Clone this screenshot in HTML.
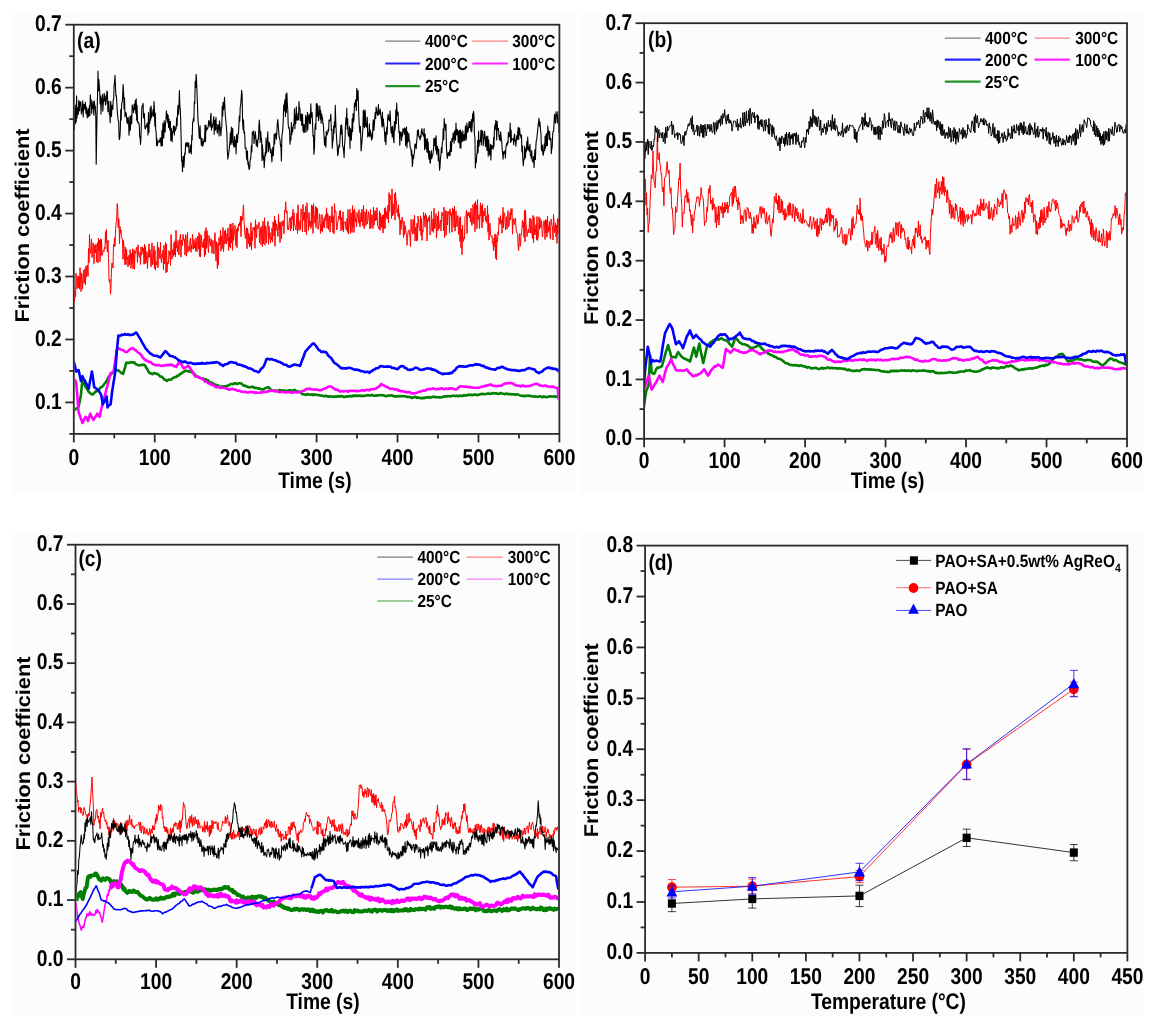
<!DOCTYPE html><html><head><meta charset="utf-8"><style>html,body{margin:0;padding:0;background:#fff;}svg{display:block;}</style></head><body>
<div style="will-change:transform;width:1153px;height:1026px">
<svg width="1153" height="1026" viewBox="0 0 1153 1026" font-family='"Liberation Sans", sans-serif' font-weight="bold" text-rendering="geometricPrecision">
<rect x="11" y="14" width="565" height="479.5" fill="#fcfcfc"/>
<rect x="579" y="12" width="565" height="481.5" fill="#fcfcfc"/>
<rect x="11" y="533" width="564" height="483" fill="#fcfcfc"/>
<rect x="579.6" y="533" width="564.4" height="483" fill="#fcfcfc"/>
<rect x="73.80" y="24.70" width="485.60" height="409.20" fill="none" stroke="#2b2b2b" stroke-width="1.8"/>
<line x1="73.80" y1="433.90" x2="73.80" y2="442.40" stroke="#2b2b2b" stroke-width="1.8"/>
<text transform="translate(73.80,464.90) scale(0.842,1)" font-size="22.8" text-anchor="middle" fill="#000" >0</text>
<line x1="114.27" y1="433.90" x2="114.27" y2="438.40" stroke="#2b2b2b" stroke-width="1.8"/>
<line x1="154.73" y1="433.90" x2="154.73" y2="442.40" stroke="#2b2b2b" stroke-width="1.8"/>
<text transform="translate(154.73,464.90) scale(0.842,1)" font-size="22.8" text-anchor="middle" fill="#000" >100</text>
<line x1="195.20" y1="433.90" x2="195.20" y2="438.40" stroke="#2b2b2b" stroke-width="1.8"/>
<line x1="235.67" y1="433.90" x2="235.67" y2="442.40" stroke="#2b2b2b" stroke-width="1.8"/>
<text transform="translate(235.67,464.90) scale(0.842,1)" font-size="22.8" text-anchor="middle" fill="#000" >200</text>
<line x1="276.13" y1="433.90" x2="276.13" y2="438.40" stroke="#2b2b2b" stroke-width="1.8"/>
<line x1="316.60" y1="433.90" x2="316.60" y2="442.40" stroke="#2b2b2b" stroke-width="1.8"/>
<text transform="translate(316.60,464.90) scale(0.842,1)" font-size="22.8" text-anchor="middle" fill="#000" >300</text>
<line x1="357.07" y1="433.90" x2="357.07" y2="438.40" stroke="#2b2b2b" stroke-width="1.8"/>
<line x1="397.53" y1="433.90" x2="397.53" y2="442.40" stroke="#2b2b2b" stroke-width="1.8"/>
<text transform="translate(397.53,464.90) scale(0.842,1)" font-size="22.8" text-anchor="middle" fill="#000" >400</text>
<line x1="438.00" y1="433.90" x2="438.00" y2="438.40" stroke="#2b2b2b" stroke-width="1.8"/>
<line x1="478.47" y1="433.90" x2="478.47" y2="442.40" stroke="#2b2b2b" stroke-width="1.8"/>
<text transform="translate(478.47,464.90) scale(0.842,1)" font-size="22.8" text-anchor="middle" fill="#000" >500</text>
<line x1="518.93" y1="433.90" x2="518.93" y2="438.40" stroke="#2b2b2b" stroke-width="1.8"/>
<line x1="559.40" y1="433.90" x2="559.40" y2="442.40" stroke="#2b2b2b" stroke-width="1.8"/>
<text transform="translate(559.40,464.90) scale(0.842,1)" font-size="22.8" text-anchor="middle" fill="#000" >600</text>
<line x1="73.80" y1="433.90" x2="69.30" y2="433.90" stroke="#2b2b2b" stroke-width="1.8"/>
<line x1="73.80" y1="402.42" x2="65.30" y2="402.42" stroke="#2b2b2b" stroke-width="1.8"/>
<text transform="translate(61.80,408.72) scale(0.842,1)" font-size="22.8" text-anchor="end" fill="#000" >0.1</text>
<line x1="73.80" y1="370.95" x2="69.30" y2="370.95" stroke="#2b2b2b" stroke-width="1.8"/>
<line x1="73.80" y1="339.47" x2="65.30" y2="339.47" stroke="#2b2b2b" stroke-width="1.8"/>
<text transform="translate(61.80,345.77) scale(0.842,1)" font-size="22.8" text-anchor="end" fill="#000" >0.2</text>
<line x1="73.80" y1="307.99" x2="69.30" y2="307.99" stroke="#2b2b2b" stroke-width="1.8"/>
<line x1="73.80" y1="276.52" x2="65.30" y2="276.52" stroke="#2b2b2b" stroke-width="1.8"/>
<text transform="translate(61.80,282.82) scale(0.842,1)" font-size="22.8" text-anchor="end" fill="#000" >0.3</text>
<line x1="73.80" y1="245.04" x2="69.30" y2="245.04" stroke="#2b2b2b" stroke-width="1.8"/>
<line x1="73.80" y1="213.56" x2="65.30" y2="213.56" stroke="#2b2b2b" stroke-width="1.8"/>
<text transform="translate(61.80,219.86) scale(0.842,1)" font-size="22.8" text-anchor="end" fill="#000" >0.4</text>
<line x1="73.80" y1="182.08" x2="69.30" y2="182.08" stroke="#2b2b2b" stroke-width="1.8"/>
<line x1="73.80" y1="150.61" x2="65.30" y2="150.61" stroke="#2b2b2b" stroke-width="1.8"/>
<text transform="translate(61.80,156.91) scale(0.842,1)" font-size="22.8" text-anchor="end" fill="#000" >0.5</text>
<line x1="73.80" y1="119.13" x2="69.30" y2="119.13" stroke="#2b2b2b" stroke-width="1.8"/>
<line x1="73.80" y1="87.65" x2="65.30" y2="87.65" stroke="#2b2b2b" stroke-width="1.8"/>
<text transform="translate(61.80,93.95) scale(0.842,1)" font-size="22.8" text-anchor="end" fill="#000" >0.6</text>
<line x1="73.80" y1="56.18" x2="69.30" y2="56.18" stroke="#2b2b2b" stroke-width="1.8"/>
<line x1="73.80" y1="24.70" x2="65.30" y2="24.70" stroke="#2b2b2b" stroke-width="1.8"/>
<text transform="translate(61.80,31.00) scale(0.842,1)" font-size="22.8" text-anchor="end" fill="#000" >0.7</text>
<rect x="644.10" y="23.20" width="482.90" height="415.60" fill="none" stroke="#2b2b2b" stroke-width="1.8"/>
<line x1="644.10" y1="438.80" x2="644.10" y2="447.30" stroke="#2b2b2b" stroke-width="1.8"/>
<text transform="translate(644.10,468.00) scale(0.842,1)" font-size="22.8" text-anchor="middle" fill="#000" >0</text>
<line x1="684.34" y1="438.80" x2="684.34" y2="443.30" stroke="#2b2b2b" stroke-width="1.8"/>
<line x1="724.58" y1="438.80" x2="724.58" y2="447.30" stroke="#2b2b2b" stroke-width="1.8"/>
<text transform="translate(724.58,468.00) scale(0.842,1)" font-size="22.8" text-anchor="middle" fill="#000" >100</text>
<line x1="764.83" y1="438.80" x2="764.83" y2="443.30" stroke="#2b2b2b" stroke-width="1.8"/>
<line x1="805.07" y1="438.80" x2="805.07" y2="447.30" stroke="#2b2b2b" stroke-width="1.8"/>
<text transform="translate(805.07,468.00) scale(0.842,1)" font-size="22.8" text-anchor="middle" fill="#000" >200</text>
<line x1="845.31" y1="438.80" x2="845.31" y2="443.30" stroke="#2b2b2b" stroke-width="1.8"/>
<line x1="885.55" y1="438.80" x2="885.55" y2="447.30" stroke="#2b2b2b" stroke-width="1.8"/>
<text transform="translate(885.55,468.00) scale(0.842,1)" font-size="22.8" text-anchor="middle" fill="#000" >300</text>
<line x1="925.79" y1="438.80" x2="925.79" y2="443.30" stroke="#2b2b2b" stroke-width="1.8"/>
<line x1="966.03" y1="438.80" x2="966.03" y2="447.30" stroke="#2b2b2b" stroke-width="1.8"/>
<text transform="translate(966.03,468.00) scale(0.842,1)" font-size="22.8" text-anchor="middle" fill="#000" >400</text>
<line x1="1006.27" y1="438.80" x2="1006.27" y2="443.30" stroke="#2b2b2b" stroke-width="1.8"/>
<line x1="1046.52" y1="438.80" x2="1046.52" y2="447.30" stroke="#2b2b2b" stroke-width="1.8"/>
<text transform="translate(1046.52,468.00) scale(0.842,1)" font-size="22.8" text-anchor="middle" fill="#000" >500</text>
<line x1="1086.76" y1="438.80" x2="1086.76" y2="443.30" stroke="#2b2b2b" stroke-width="1.8"/>
<line x1="1127.00" y1="438.80" x2="1127.00" y2="447.30" stroke="#2b2b2b" stroke-width="1.8"/>
<text transform="translate(1127.00,468.00) scale(0.842,1)" font-size="22.8" text-anchor="middle" fill="#000" >600</text>
<line x1="644.10" y1="438.80" x2="635.60" y2="438.80" stroke="#2b2b2b" stroke-width="1.8"/>
<text transform="translate(632.10,445.10) scale(0.842,1)" font-size="22.8" text-anchor="end" fill="#000" >0.0</text>
<line x1="644.10" y1="409.11" x2="639.60" y2="409.11" stroke="#2b2b2b" stroke-width="1.8"/>
<line x1="644.10" y1="379.43" x2="635.60" y2="379.43" stroke="#2b2b2b" stroke-width="1.8"/>
<text transform="translate(632.10,385.73) scale(0.842,1)" font-size="22.8" text-anchor="end" fill="#000" >0.1</text>
<line x1="644.10" y1="349.74" x2="639.60" y2="349.74" stroke="#2b2b2b" stroke-width="1.8"/>
<line x1="644.10" y1="320.06" x2="635.60" y2="320.06" stroke="#2b2b2b" stroke-width="1.8"/>
<text transform="translate(632.10,326.36) scale(0.842,1)" font-size="22.8" text-anchor="end" fill="#000" >0.2</text>
<line x1="644.10" y1="290.37" x2="639.60" y2="290.37" stroke="#2b2b2b" stroke-width="1.8"/>
<line x1="644.10" y1="260.69" x2="635.60" y2="260.69" stroke="#2b2b2b" stroke-width="1.8"/>
<text transform="translate(632.10,266.99) scale(0.842,1)" font-size="22.8" text-anchor="end" fill="#000" >0.3</text>
<line x1="644.10" y1="231.00" x2="639.60" y2="231.00" stroke="#2b2b2b" stroke-width="1.8"/>
<line x1="644.10" y1="201.31" x2="635.60" y2="201.31" stroke="#2b2b2b" stroke-width="1.8"/>
<text transform="translate(632.10,207.61) scale(0.842,1)" font-size="22.8" text-anchor="end" fill="#000" >0.4</text>
<line x1="644.10" y1="171.63" x2="639.60" y2="171.63" stroke="#2b2b2b" stroke-width="1.8"/>
<line x1="644.10" y1="141.94" x2="635.60" y2="141.94" stroke="#2b2b2b" stroke-width="1.8"/>
<text transform="translate(632.10,148.24) scale(0.842,1)" font-size="22.8" text-anchor="end" fill="#000" >0.5</text>
<line x1="644.10" y1="112.26" x2="639.60" y2="112.26" stroke="#2b2b2b" stroke-width="1.8"/>
<line x1="644.10" y1="82.57" x2="635.60" y2="82.57" stroke="#2b2b2b" stroke-width="1.8"/>
<text transform="translate(632.10,88.87) scale(0.842,1)" font-size="22.8" text-anchor="end" fill="#000" >0.6</text>
<line x1="644.10" y1="52.89" x2="639.60" y2="52.89" stroke="#2b2b2b" stroke-width="1.8"/>
<line x1="644.10" y1="23.20" x2="635.60" y2="23.20" stroke="#2b2b2b" stroke-width="1.8"/>
<text transform="translate(632.10,29.50) scale(0.842,1)" font-size="22.8" text-anchor="end" fill="#000" >0.7</text>
<rect x="75.50" y="544.70" width="483.50" height="414.60" fill="none" stroke="#2b2b2b" stroke-width="1.8"/>
<line x1="75.50" y1="959.30" x2="75.50" y2="967.80" stroke="#2b2b2b" stroke-width="1.8"/>
<text transform="translate(75.50,988.50) scale(0.842,1)" font-size="22.8" text-anchor="middle" fill="#000" >0</text>
<line x1="115.79" y1="959.30" x2="115.79" y2="963.80" stroke="#2b2b2b" stroke-width="1.8"/>
<line x1="156.08" y1="959.30" x2="156.08" y2="967.80" stroke="#2b2b2b" stroke-width="1.8"/>
<text transform="translate(156.08,988.50) scale(0.842,1)" font-size="22.8" text-anchor="middle" fill="#000" >100</text>
<line x1="196.38" y1="959.30" x2="196.38" y2="963.80" stroke="#2b2b2b" stroke-width="1.8"/>
<line x1="236.67" y1="959.30" x2="236.67" y2="967.80" stroke="#2b2b2b" stroke-width="1.8"/>
<text transform="translate(236.67,988.50) scale(0.842,1)" font-size="22.8" text-anchor="middle" fill="#000" >200</text>
<line x1="276.96" y1="959.30" x2="276.96" y2="963.80" stroke="#2b2b2b" stroke-width="1.8"/>
<line x1="317.25" y1="959.30" x2="317.25" y2="967.80" stroke="#2b2b2b" stroke-width="1.8"/>
<text transform="translate(317.25,988.50) scale(0.842,1)" font-size="22.8" text-anchor="middle" fill="#000" >300</text>
<line x1="357.54" y1="959.30" x2="357.54" y2="963.80" stroke="#2b2b2b" stroke-width="1.8"/>
<line x1="397.83" y1="959.30" x2="397.83" y2="967.80" stroke="#2b2b2b" stroke-width="1.8"/>
<text transform="translate(397.83,988.50) scale(0.842,1)" font-size="22.8" text-anchor="middle" fill="#000" >400</text>
<line x1="438.12" y1="959.30" x2="438.12" y2="963.80" stroke="#2b2b2b" stroke-width="1.8"/>
<line x1="478.42" y1="959.30" x2="478.42" y2="967.80" stroke="#2b2b2b" stroke-width="1.8"/>
<text transform="translate(478.42,988.50) scale(0.842,1)" font-size="22.8" text-anchor="middle" fill="#000" >500</text>
<line x1="518.71" y1="959.30" x2="518.71" y2="963.80" stroke="#2b2b2b" stroke-width="1.8"/>
<line x1="559.00" y1="959.30" x2="559.00" y2="967.80" stroke="#2b2b2b" stroke-width="1.8"/>
<text transform="translate(559.00,988.50) scale(0.842,1)" font-size="22.8" text-anchor="middle" fill="#000" >600</text>
<line x1="75.50" y1="959.30" x2="67.00" y2="959.30" stroke="#2b2b2b" stroke-width="1.8"/>
<text transform="translate(63.50,965.60) scale(0.842,1)" font-size="22.8" text-anchor="end" fill="#000" >0.0</text>
<line x1="75.50" y1="929.69" x2="71.00" y2="929.69" stroke="#2b2b2b" stroke-width="1.8"/>
<line x1="75.50" y1="900.07" x2="67.00" y2="900.07" stroke="#2b2b2b" stroke-width="1.8"/>
<text transform="translate(63.50,906.37) scale(0.842,1)" font-size="22.8" text-anchor="end" fill="#000" >0.1</text>
<line x1="75.50" y1="870.46" x2="71.00" y2="870.46" stroke="#2b2b2b" stroke-width="1.8"/>
<line x1="75.50" y1="840.84" x2="67.00" y2="840.84" stroke="#2b2b2b" stroke-width="1.8"/>
<text transform="translate(63.50,847.14) scale(0.842,1)" font-size="22.8" text-anchor="end" fill="#000" >0.2</text>
<line x1="75.50" y1="811.23" x2="71.00" y2="811.23" stroke="#2b2b2b" stroke-width="1.8"/>
<line x1="75.50" y1="781.61" x2="67.00" y2="781.61" stroke="#2b2b2b" stroke-width="1.8"/>
<text transform="translate(63.50,787.91) scale(0.842,1)" font-size="22.8" text-anchor="end" fill="#000" >0.3</text>
<line x1="75.50" y1="752.00" x2="71.00" y2="752.00" stroke="#2b2b2b" stroke-width="1.8"/>
<line x1="75.50" y1="722.39" x2="67.00" y2="722.39" stroke="#2b2b2b" stroke-width="1.8"/>
<text transform="translate(63.50,728.69) scale(0.842,1)" font-size="22.8" text-anchor="end" fill="#000" >0.4</text>
<line x1="75.50" y1="692.77" x2="71.00" y2="692.77" stroke="#2b2b2b" stroke-width="1.8"/>
<line x1="75.50" y1="663.16" x2="67.00" y2="663.16" stroke="#2b2b2b" stroke-width="1.8"/>
<text transform="translate(63.50,669.46) scale(0.842,1)" font-size="22.8" text-anchor="end" fill="#000" >0.5</text>
<line x1="75.50" y1="633.54" x2="71.00" y2="633.54" stroke="#2b2b2b" stroke-width="1.8"/>
<line x1="75.50" y1="603.93" x2="67.00" y2="603.93" stroke="#2b2b2b" stroke-width="1.8"/>
<text transform="translate(63.50,610.23) scale(0.842,1)" font-size="22.8" text-anchor="end" fill="#000" >0.6</text>
<line x1="75.50" y1="574.31" x2="71.00" y2="574.31" stroke="#2b2b2b" stroke-width="1.8"/>
<line x1="75.50" y1="544.70" x2="67.00" y2="544.70" stroke="#2b2b2b" stroke-width="1.8"/>
<text transform="translate(63.50,551.00) scale(0.842,1)" font-size="22.8" text-anchor="end" fill="#000" >0.7</text>
<rect x="645.10" y="545.60" width="482.30" height="407.30" fill="none" stroke="#2b2b2b" stroke-width="1.8"/>
<line x1="645.10" y1="952.90" x2="645.10" y2="961.40" stroke="#2b2b2b" stroke-width="1.8"/>
<text transform="translate(645.10,983.50) scale(0.842,1)" font-size="22.8" text-anchor="middle" fill="#000" >0</text>
<line x1="671.89" y1="952.90" x2="671.89" y2="957.40" stroke="#2b2b2b" stroke-width="1.8"/>
<line x1="698.69" y1="952.90" x2="698.69" y2="961.40" stroke="#2b2b2b" stroke-width="1.8"/>
<text transform="translate(698.69,983.50) scale(0.842,1)" font-size="22.8" text-anchor="middle" fill="#000" >50</text>
<line x1="725.48" y1="952.90" x2="725.48" y2="957.40" stroke="#2b2b2b" stroke-width="1.8"/>
<line x1="752.28" y1="952.90" x2="752.28" y2="961.40" stroke="#2b2b2b" stroke-width="1.8"/>
<text transform="translate(752.28,983.50) scale(0.842,1)" font-size="22.8" text-anchor="middle" fill="#000" >100</text>
<line x1="779.07" y1="952.90" x2="779.07" y2="957.40" stroke="#2b2b2b" stroke-width="1.8"/>
<line x1="805.87" y1="952.90" x2="805.87" y2="961.40" stroke="#2b2b2b" stroke-width="1.8"/>
<text transform="translate(805.87,983.50) scale(0.842,1)" font-size="22.8" text-anchor="middle" fill="#000" >150</text>
<line x1="832.66" y1="952.90" x2="832.66" y2="957.40" stroke="#2b2b2b" stroke-width="1.8"/>
<line x1="859.46" y1="952.90" x2="859.46" y2="961.40" stroke="#2b2b2b" stroke-width="1.8"/>
<text transform="translate(859.46,983.50) scale(0.842,1)" font-size="22.8" text-anchor="middle" fill="#000" >200</text>
<line x1="886.25" y1="952.90" x2="886.25" y2="957.40" stroke="#2b2b2b" stroke-width="1.8"/>
<line x1="913.04" y1="952.90" x2="913.04" y2="961.40" stroke="#2b2b2b" stroke-width="1.8"/>
<text transform="translate(913.04,983.50) scale(0.842,1)" font-size="22.8" text-anchor="middle" fill="#000" >250</text>
<line x1="939.84" y1="952.90" x2="939.84" y2="957.40" stroke="#2b2b2b" stroke-width="1.8"/>
<line x1="966.63" y1="952.90" x2="966.63" y2="961.40" stroke="#2b2b2b" stroke-width="1.8"/>
<text transform="translate(966.63,983.50) scale(0.842,1)" font-size="22.8" text-anchor="middle" fill="#000" >300</text>
<line x1="993.43" y1="952.90" x2="993.43" y2="957.40" stroke="#2b2b2b" stroke-width="1.8"/>
<line x1="1020.22" y1="952.90" x2="1020.22" y2="961.40" stroke="#2b2b2b" stroke-width="1.8"/>
<text transform="translate(1020.22,983.50) scale(0.842,1)" font-size="22.8" text-anchor="middle" fill="#000" >350</text>
<line x1="1047.02" y1="952.90" x2="1047.02" y2="957.40" stroke="#2b2b2b" stroke-width="1.8"/>
<line x1="1073.81" y1="952.90" x2="1073.81" y2="961.40" stroke="#2b2b2b" stroke-width="1.8"/>
<text transform="translate(1073.81,983.50) scale(0.842,1)" font-size="22.8" text-anchor="middle" fill="#000" >400</text>
<line x1="1100.61" y1="952.90" x2="1100.61" y2="957.40" stroke="#2b2b2b" stroke-width="1.8"/>
<line x1="1127.40" y1="952.90" x2="1127.40" y2="961.40" stroke="#2b2b2b" stroke-width="1.8"/>
<text transform="translate(1127.40,983.50) scale(0.842,1)" font-size="22.8" text-anchor="middle" fill="#000" >450</text>
<line x1="645.10" y1="952.90" x2="636.60" y2="952.90" stroke="#2b2b2b" stroke-width="1.8"/>
<text transform="translate(633.10,959.20) scale(0.842,1)" font-size="22.8" text-anchor="end" fill="#000" >0.0</text>
<line x1="645.10" y1="927.44" x2="640.60" y2="927.44" stroke="#2b2b2b" stroke-width="1.8"/>
<line x1="645.10" y1="901.99" x2="636.60" y2="901.99" stroke="#2b2b2b" stroke-width="1.8"/>
<text transform="translate(633.10,908.29) scale(0.842,1)" font-size="22.8" text-anchor="end" fill="#000" >0.1</text>
<line x1="645.10" y1="876.53" x2="640.60" y2="876.53" stroke="#2b2b2b" stroke-width="1.8"/>
<line x1="645.10" y1="851.08" x2="636.60" y2="851.08" stroke="#2b2b2b" stroke-width="1.8"/>
<text transform="translate(633.10,857.38) scale(0.842,1)" font-size="22.8" text-anchor="end" fill="#000" >0.2</text>
<line x1="645.10" y1="825.62" x2="640.60" y2="825.62" stroke="#2b2b2b" stroke-width="1.8"/>
<line x1="645.10" y1="800.16" x2="636.60" y2="800.16" stroke="#2b2b2b" stroke-width="1.8"/>
<text transform="translate(633.10,806.46) scale(0.842,1)" font-size="22.8" text-anchor="end" fill="#000" >0.3</text>
<line x1="645.10" y1="774.71" x2="640.60" y2="774.71" stroke="#2b2b2b" stroke-width="1.8"/>
<line x1="645.10" y1="749.25" x2="636.60" y2="749.25" stroke="#2b2b2b" stroke-width="1.8"/>
<text transform="translate(633.10,755.55) scale(0.842,1)" font-size="22.8" text-anchor="end" fill="#000" >0.4</text>
<line x1="645.10" y1="723.79" x2="640.60" y2="723.79" stroke="#2b2b2b" stroke-width="1.8"/>
<line x1="645.10" y1="698.34" x2="636.60" y2="698.34" stroke="#2b2b2b" stroke-width="1.8"/>
<text transform="translate(633.10,704.64) scale(0.842,1)" font-size="22.8" text-anchor="end" fill="#000" >0.5</text>
<line x1="645.10" y1="672.88" x2="640.60" y2="672.88" stroke="#2b2b2b" stroke-width="1.8"/>
<line x1="645.10" y1="647.42" x2="636.60" y2="647.42" stroke="#2b2b2b" stroke-width="1.8"/>
<text transform="translate(633.10,653.72) scale(0.842,1)" font-size="22.8" text-anchor="end" fill="#000" >0.6</text>
<line x1="645.10" y1="621.97" x2="640.60" y2="621.97" stroke="#2b2b2b" stroke-width="1.8"/>
<line x1="645.10" y1="596.51" x2="636.60" y2="596.51" stroke="#2b2b2b" stroke-width="1.8"/>
<text transform="translate(633.10,602.81) scale(0.842,1)" font-size="22.8" text-anchor="end" fill="#000" >0.7</text>
<line x1="645.10" y1="571.06" x2="640.60" y2="571.06" stroke="#2b2b2b" stroke-width="1.8"/>
<line x1="645.10" y1="545.60" x2="636.60" y2="545.60" stroke="#2b2b2b" stroke-width="1.8"/>
<text transform="translate(633.10,551.90) scale(0.842,1)" font-size="22.8" text-anchor="end" fill="#000" >0.8</text>
<clipPath id="ca"><rect x="74.5" y="25.5" width="484.1" height="407.5"/></clipPath>
<clipPath id="cb"><rect x="644.9" y="24.0" width="481.30000000000007" height="414.0"/></clipPath>
<clipPath id="cc"><rect x="76.3" y="545.5" width="481.90000000000003" height="413.0"/></clipPath>
<g clip-path="url(#ca)">
<polyline points="73.9,410.5 75.1,409.5 76.2,408.6 77.4,408.1 78.6,406.6 79.8,400.9 80.9,394.9 82.5,379.3 83.5,381.9 84.6,384.6 85.6,387.1 86.6,388.3 87.7,390.1 88.7,391.8 90.0,392.9 91.3,394.1 92.6,394.6 93.7,393.4 94.8,392.5 95.9,391.3 97.0,391.2 98.1,390.2 99.3,389.2 100.6,387.2 101.8,387.0 103.1,385.8 104.3,384.0 105.6,382.5 106.8,380.5 108.1,378.0 109.3,375.9 110.6,374.6 111.8,373.5 113.1,372.1 114.3,371.2 115.6,370.5 116.8,370.0 118.1,370.2 119.3,371.3 120.6,372.2 121.8,373.4 123.1,373.9 124.1,370.4 125.2,366.8 126.2,362.9 127.5,362.8 128.8,362.9 130.1,362.5 131.4,362.1 132.7,362.6 134.0,362.1 135.2,363.6 136.3,364.4 137.5,364.9 138.7,365.3 139.9,365.2 141.2,364.9 142.4,364.9 143.7,364.8 144.9,365.3 146.1,367.4 147.2,369.1 148.4,371.5 149.6,373.1 150.7,373.2 151.8,373.9 152.9,374.1 154.1,373.1 155.2,373.2 156.3,374.0 157.4,373.9 158.6,374.8 159.8,376.2 160.9,376.6 162.1,376.8 163.3,378.3 164.5,379.5 165.6,379.9 166.8,380.9 168.0,380.0 169.2,379.6 170.3,379.9 171.5,379.4 172.7,378.1 173.8,377.6 175.0,377.1 176.2,377.0 177.4,375.7 178.5,375.6 179.7,374.3 180.8,373.8 182.0,373.0 183.2,371.9 184.3,371.6 185.5,370.7 186.8,370.7 188.0,371.4 189.3,371.2 190.5,371.8 191.8,372.3 192.8,372.6 193.9,373.4 194.9,374.6 196.1,375.8 197.2,376.8 198.4,376.9 199.6,377.8 200.8,378.5 202.1,378.2 203.3,378.5 204.6,379.3 205.8,379.3 207.0,380.3 208.2,380.4 209.3,382.1 210.5,382.4 211.7,382.8 212.8,383.3 214.0,384.4 215.2,384.6 216.4,385.0 217.6,385.4 218.7,386.0 219.9,387.1 221.1,386.9 222.4,386.4 223.6,386.6 224.9,386.3 226.1,386.3 227.3,385.6 228.4,385.7 229.6,384.7 230.8,384.0 232.0,384.0 233.2,384.2 234.3,383.4 235.5,383.1 236.7,383.9 237.8,383.8 239.0,383.2 240.2,383.2 241.4,383.5 242.6,384.6 243.8,385.7 245.0,385.5 246.2,386.3 247.4,386.8 248.5,387.3 249.7,387.2 250.9,387.1 252.1,386.8 253.2,386.9 254.4,387.9 255.6,387.9 256.9,388.0 258.2,388.6 259.5,388.4 260.8,389.3 262.1,389.4 263.4,389.5 264.6,388.7 265.8,387.8 266.9,387.8 268.1,387.1 269.1,387.8 270.2,388.9 271.2,390.6 272.4,390.6 273.6,391.0 274.8,390.9 276.0,390.5 277.2,391.2 278.4,390.5 279.6,390.1 280.8,390.3 282.0,390.7 283.2,390.4 284.4,390.5 285.6,390.8 286.8,391.0 287.9,390.8 289.0,390.3 290.1,390.2 291.3,390.8 292.4,390.9 293.5,390.3 294.6,389.9 295.9,390.9 297.2,391.5 298.5,391.6 299.8,392.0 301.1,392.8 302.4,394.1 303.6,394.3 304.8,394.5 306.0,394.9 307.2,394.0 308.4,394.5 309.6,394.5 310.8,394.8 312.0,394.4 313.2,395.2 314.4,394.4 315.6,394.7 316.8,395.0 318.0,394.9 319.2,395.4 320.4,395.5 321.6,395.6 322.8,395.9 324.0,396.2 325.2,395.7 326.5,396.0 327.7,396.5 328.9,396.6 330.1,396.2 331.3,396.5 332.5,396.7 333.7,396.5 334.9,396.6 336.1,396.6 337.3,396.4 338.5,396.4 339.7,396.5 340.9,395.9 342.1,396.3 343.3,396.9 344.5,396.9 345.7,396.7 346.9,396.2 348.1,396.4 349.3,396.3 350.5,396.1 351.7,396.5 352.9,395.6 354.1,396.2 355.3,395.4 356.5,395.9 357.7,395.9 358.9,395.6 360.1,395.9 361.3,395.8 362.5,395.9 363.7,396.0 364.9,395.7 366.1,395.6 367.3,395.1 368.5,395.2 369.7,395.6 370.9,395.2 372.1,394.9 373.3,395.8 374.5,395.7 375.7,395.4 376.9,395.7 378.1,395.2 379.3,395.3 380.5,395.2 381.7,395.1 382.9,395.2 384.2,395.6 385.4,396.0 386.6,396.2 387.8,395.6 389.0,395.8 390.2,395.5 391.5,395.2 392.7,395.7 393.9,396.2 395.1,396.4 396.3,396.4 397.6,396.5 398.8,396.1 400.0,396.2 401.2,396.1 402.4,396.3 403.6,396.3 404.9,396.2 406.1,396.5 407.3,396.9 408.5,397.0 409.7,396.8 410.9,397.5 412.2,398.0 413.4,397.5 414.6,397.0 415.8,396.9 417.0,397.9 418.2,397.4 419.5,398.0 420.7,398.1 421.9,398.1 423.1,397.9 424.3,398.1 425.5,397.5 426.6,397.3 427.8,397.5 429.0,397.0 430.2,397.8 431.4,397.2 432.6,396.9 433.8,396.6 434.9,397.2 436.1,397.1 437.3,397.3 438.5,397.3 439.7,397.4 440.9,397.5 442.1,397.2 443.2,396.6 444.4,396.6 445.6,396.3 446.8,396.5 448.0,396.0 449.3,396.2 450.5,396.4 451.7,395.9 453.0,395.7 454.2,395.7 455.4,396.1 456.7,395.9 457.9,395.9 459.1,396.1 460.3,395.6 461.6,395.9 462.8,396.0 464.0,395.0 465.3,395.6 466.5,395.5 467.7,394.9 469.0,394.9 470.2,394.9 471.4,394.9 472.6,395.1 473.7,394.6 474.9,394.6 476.1,394.9 477.2,394.9 478.4,395.0 479.6,394.4 480.8,394.3 481.9,393.7 483.1,394.1 484.3,394.3 485.5,394.0 486.6,394.0 487.8,393.3 489.0,393.8 490.2,393.9 491.3,393.8 492.5,393.3 493.7,393.1 494.9,393.4 496.1,393.2 497.3,393.7 498.5,394.0 499.7,393.5 500.9,393.0 502.1,393.4 503.3,393.7 504.5,394.1 505.7,393.9 506.9,393.5 508.1,394.2 509.3,394.1 510.5,394.0 511.7,394.5 512.9,394.2 514.0,394.3 515.2,394.9 516.4,394.4 517.6,394.4 518.8,394.9 520.0,395.4 521.2,395.8 522.3,395.8 523.5,396.2 524.7,395.8 525.9,396.3 527.1,395.5 528.3,395.5 529.5,396.0 530.6,395.9 531.8,396.4 533.0,396.5 534.2,396.5 535.4,396.6 536.6,396.8 537.8,396.7 539.0,396.4 540.2,396.3 541.5,396.9 542.7,397.1 543.9,396.3 545.1,396.9 546.3,397.3 547.5,396.8 548.7,396.7 549.9,396.2 551.1,396.4 552.4,396.5 553.6,396.6 554.8,396.1 556.0,396.8 557.2,396.6 558.4,396.5" fill="none" stroke="#008000" stroke-width="2.6" stroke-linejoin="round"/>
<polyline points="74.7,379.3 76.2,382.4 77.4,397.2 78.6,412.1 79.9,415.9 81.2,419.6 82.5,423.0 83.5,420.6 84.6,418.2 85.6,416.8 86.8,418.5 88.0,421.0 89.2,416.9 90.3,413.7 91.3,416.0 92.4,418.1 93.4,419.9 94.7,418.1 96.0,415.9 97.3,413.7 98.5,415.5 99.7,416.8 100.7,411.7 101.8,407.2 102.8,402.7 104.0,398.0 105.2,394.5 106.3,389.5 107.5,385.6 108.5,381.7 109.6,376.8 110.6,373.1 111.6,372.7 112.7,371.9 113.7,371.5 114.7,364.1 115.8,357.3 116.8,349.7 117.9,349.0 118.9,348.5 120.0,348.9 121.2,349.8 122.5,350.2 123.7,350.3 125.0,351.8 126.2,352.0 127.4,351.8 128.7,350.2 129.9,349.5 131.2,348.5 132.4,348.1 133.7,348.7 134.9,350.0 136.2,350.5 137.4,352.0 138.7,352.8 139.9,353.8 141.2,355.0 142.4,357.2 143.7,358.4 144.9,359.8 146.1,360.3 147.2,361.0 148.4,361.6 149.6,362.0 150.8,362.1 152.0,363.4 153.1,364.3 154.3,364.5 155.5,365.2 156.7,365.3 157.8,365.0 159.0,365.1 160.2,365.6 161.3,365.9 162.5,365.5 163.7,366.0 164.9,365.3 166.2,365.1 167.4,365.0 168.7,365.1 169.9,364.5 171.2,365.0 172.4,364.8 173.7,366.1 174.9,366.3 176.2,366.8 177.2,365.3 178.3,363.3 179.3,362.1 180.5,363.5 181.7,365.0 182.8,367.1 184.0,368.4 185.2,367.4 186.3,367.1 187.4,366.2 188.6,366.0 189.9,368.1 191.1,369.5 192.4,371.7 193.6,373.9 194.9,376.2 196.1,376.7 197.4,376.6 198.6,377.4 199.9,377.7 201.1,378.5 202.4,379.0 203.6,379.9 204.9,381.4 206.1,381.7 207.4,382.4 208.6,383.4 209.7,383.4 210.9,384.6 212.1,384.7 213.2,384.9 214.4,386.1 215.5,386.9 216.7,387.1 217.9,387.0 219.0,387.1 220.2,387.9 221.4,387.8 222.6,387.7 223.8,387.7 224.9,388.0 226.1,388.7 227.3,388.7 228.4,389.4 229.6,389.8 230.8,389.4 232.0,388.7 233.2,389.0 234.3,389.6 235.5,389.5 236.7,390.4 238.0,390.8 239.2,390.6 240.5,391.3 241.7,391.8 243.0,391.8 244.3,392.0 245.6,391.7 246.8,392.5 248.1,392.5 249.4,392.1 250.7,392.0 251.9,391.9 253.2,392.6 254.4,392.1 255.6,392.9 256.9,392.6 258.1,392.7 259.4,392.8 260.6,392.4 261.9,392.6 263.1,392.1 264.2,391.7 265.4,392.0 266.5,391.9 267.7,391.0 268.9,391.4 270.0,390.9 271.2,390.6 272.4,390.5 273.6,390.7 274.9,391.3 276.1,391.2 277.3,391.4 278.5,391.9 279.7,392.2 280.9,392.1 282.1,391.7 283.4,391.8 284.6,392.4 285.8,392.5 287.0,392.3 288.2,392.1 289.5,392.1 290.7,392.5 291.9,392.6 293.1,392.6 294.3,392.0 295.4,392.3 296.6,392.5 297.8,392.4 298.9,392.3 300.1,392.0 301.2,391.4 302.4,391.0 303.7,390.9 304.9,390.1 306.2,389.1 307.4,388.9 308.7,388.7 309.9,388.6 311.2,389.4 312.4,389.5 313.7,389.5 314.9,389.7 316.2,389.2 317.4,389.7 318.7,390.1 319.9,390.0 321.2,390.2 322.4,389.5 323.5,389.0 324.7,388.4 325.9,388.4 327.0,387.3 328.2,386.7 329.3,386.5 330.5,386.3 331.7,387.0 332.9,387.9 334.0,388.6 335.2,389.6 336.4,389.6 337.5,389.7 338.7,390.7 339.9,391.5 341.1,391.4 342.2,391.1 343.4,391.5 344.6,391.2 345.7,391.0 346.9,391.0 348.1,391.8 349.2,390.7 350.4,390.9 351.6,390.8 352.8,390.7 353.9,390.9 355.1,390.8 356.3,391.3 357.4,391.1 358.6,391.0 359.8,391.0 361.1,390.4 362.3,390.4 363.5,390.4 364.7,390.6 366.0,389.8 367.2,389.7 368.4,390.1 369.7,390.1 370.9,389.2 372.1,389.2 373.3,389.3 374.6,388.8 375.8,388.7 376.9,387.9 378.0,387.1 379.1,386.6 380.2,385.2 381.3,384.0 382.5,384.9 383.8,385.3 385.0,386.3 386.2,386.5 387.4,387.3 388.7,387.9 389.9,388.7 391.1,388.8 392.3,388.8 393.5,389.0 394.7,389.6 395.9,389.5 397.1,389.4 398.3,390.6 399.5,390.4 400.7,391.3 401.9,391.3 403.1,391.3 404.3,391.8 405.5,391.8 406.7,392.5 407.9,392.2 409.1,392.0 410.4,392.7 411.6,393.4 412.8,393.4 414.0,393.4 415.2,393.3 416.5,392.7 417.7,392.5 418.9,391.8 420.1,391.5 421.4,391.2 422.6,390.8 423.8,390.5 425.1,390.7 426.3,389.7 427.5,389.3 428.7,389.1 430.0,389.3 431.2,388.7 432.4,388.8 433.6,388.3 434.8,388.9 436.0,389.2 437.2,389.3 438.4,388.7 439.6,389.0 440.8,388.5 442.0,388.2 443.2,389.0 444.4,389.1 445.6,388.6 446.8,388.7 448.0,389.1 449.1,388.5 450.3,388.6 451.5,388.3 452.7,388.6 453.9,388.8 455.0,389.5 456.2,389.5 457.4,388.5 458.5,387.4 459.7,386.6 460.9,386.3 462.1,386.2 463.4,386.8 464.6,386.8 465.8,386.4 467.0,387.0 468.3,387.1 469.5,387.1 470.7,387.2 472.0,387.5 473.2,387.8 474.4,387.7 475.6,387.8 476.9,387.8 478.1,387.9 479.3,387.6 480.6,387.1 481.8,386.7 483.1,386.4 484.3,386.4 485.5,385.5 486.8,385.8 488.0,385.1 489.3,385.0 490.5,384.3 491.8,385.0 493.0,385.8 494.3,386.0 495.5,385.9 496.8,386.3 498.1,385.9 499.3,385.8 500.6,385.7 501.8,385.6 503.1,384.4 504.3,383.8 505.6,383.5 506.8,383.2 508.1,383.0 509.3,383.2 510.5,382.9 511.6,383.3 512.8,383.4 514.0,384.4 515.1,384.9 516.3,385.6 517.4,385.8 518.6,385.6 519.8,386.1 521.0,386.4 522.1,385.5 523.3,385.5 524.5,386.4 525.6,386.2 526.8,386.0 528.0,386.3 529.3,386.1 530.6,385.5 531.9,385.2 533.2,384.6 534.5,384.1 535.8,384.0 537.0,383.8 538.3,384.4 539.5,385.2 540.8,385.7 542.0,385.8 543.3,386.1 544.5,385.6 545.8,385.6 547.0,386.4 548.3,386.3 549.5,386.7 550.6,387.0 551.8,386.4 553.0,386.6 554.2,387.1 555.4,387.7 556.5,388.0 557.7,387.9 558.6,399.6" fill="none" stroke="#ff00ff" stroke-width="2.6" stroke-linejoin="round"/>
<polyline points="73.9,362.1 75.1,366.5 76.2,371.5 77.4,370.9 78.6,370.0 79.8,375.7 80.9,380.9 82.5,376.2 83.5,378.8 84.6,380.1 85.6,382.4 86.6,384.1 87.7,386.0 88.7,388.7 89.8,382.5 90.8,377.4 91.9,371.5 93.1,378.8 94.2,387.1 95.5,388.0 96.8,388.8 98.1,390.2 99.1,391.4 100.2,393.1 101.2,394.9 102.8,404.3 104.1,402.1 105.4,399.3 106.7,396.5 107.5,407.4 108.5,405.8 109.6,404.9 110.6,404.3 112.1,391.8 113.2,384.5 114.2,378.6 115.3,371.5 116.8,351.2 118.4,335.6 119.4,335.8 120.5,335.6 121.5,334.8 122.5,335.1 123.6,334.7 124.6,334.0 125.7,334.6 126.8,334.8 127.9,334.2 129.1,334.9 130.2,334.7 131.3,334.9 132.4,334.8 133.7,334.2 135.0,333.2 136.3,332.5 137.4,334.2 138.5,336.1 139.6,337.9 140.7,339.6 141.8,341.9 143.0,343.9 144.3,346.1 145.5,348.3 146.8,349.7 148.0,351.2 149.2,352.4 150.3,353.6 151.5,353.8 152.7,355.1 153.8,355.5 154.9,355.8 156.0,355.7 157.2,355.9 158.3,356.7 159.4,356.9 160.5,357.5 161.7,355.8 162.8,354.4 164.0,352.7 165.2,351.2 166.4,351.9 167.6,353.4 168.7,354.4 169.9,355.9 171.2,356.0 172.4,356.3 173.7,356.9 174.9,357.2 176.2,358.2 177.3,359.0 178.5,360.4 179.7,360.6 180.8,361.4 182.0,361.8 183.2,362.3 184.3,361.6 185.5,361.6 186.7,362.6 187.9,363.1 189.0,363.1 190.2,362.6 191.4,362.9 192.6,363.6 193.7,363.9 194.9,363.7 196.1,364.0 197.3,363.4 198.5,363.8 199.7,363.4 200.9,363.7 202.1,362.9 203.3,363.8 204.5,363.5 205.7,363.5 206.9,362.9 208.1,363.1 209.3,363.0 210.5,362.9 211.7,362.9 213.0,362.4 214.2,362.7 215.5,362.2 216.7,362.1 218.0,362.6 219.2,363.1 220.5,364.5 221.7,364.8 223.0,366.0 224.1,365.1 225.2,364.2 226.3,364.3 227.5,363.8 228.6,363.3 229.7,362.3 230.8,362.1 232.1,362.3 233.4,362.6 234.7,362.7 236.0,362.9 237.3,364.4 238.6,364.5 239.8,364.7 241.0,365.1 242.2,365.4 243.4,366.2 244.6,366.1 245.8,366.9 247.0,367.3 248.2,368.2 249.4,368.4 250.6,368.5 251.7,369.1 252.9,369.7 254.1,370.9 255.2,371.0 256.4,371.3 257.5,372.0 258.7,372.3 259.9,370.8 261.0,368.9 262.2,368.0 263.4,366.8 264.4,364.7 265.5,362.0 266.5,359.0 267.7,358.8 268.9,359.2 270.0,359.4 271.2,359.0 272.5,359.4 273.7,360.0 275.0,360.3 276.2,360.6 277.5,361.4 278.7,361.7 280.0,362.1 281.2,362.9 282.5,363.3 283.7,364.5 285.0,364.7 286.2,364.8 287.5,366.0 288.7,366.5 290.0,366.8 291.1,365.7 292.3,365.8 293.5,364.8 294.6,364.5 295.7,364.7 296.8,365.1 297.9,365.2 299.0,365.4 300.1,366.0 301.2,362.9 302.3,359.6 303.4,357.4 304.5,353.8 305.6,351.2 306.9,350.1 308.2,348.3 309.5,346.9 310.8,345.8 312.1,344.2 313.4,343.4 314.5,344.2 315.6,345.5 316.7,346.9 317.9,348.8 319.0,350.2 320.1,350.5 321.2,352.0 322.4,351.9 323.5,351.5 324.7,352.2 325.9,352.0 327.0,353.3 328.1,355.3 329.2,356.5 330.4,357.3 331.5,358.5 332.6,360.3 333.7,362.1 334.8,363.2 335.9,363.6 337.0,364.7 338.2,365.5 339.3,366.4 340.4,367.7 341.5,368.4 342.6,368.1 343.7,368.4 344.8,368.3 346.0,368.6 347.1,368.0 348.2,368.1 349.3,367.6 350.4,368.0 351.5,368.4 352.6,368.8 353.8,369.5 354.9,369.9 356.0,369.5 357.1,370.0 358.4,369.9 359.6,370.5 360.9,371.2 362.1,371.3 363.4,371.2 364.6,372.2 365.9,371.9 367.1,371.8 368.4,372.1 369.6,372.8 370.8,371.3 372.1,371.1 373.3,369.7 374.6,369.4 375.8,368.4 377.0,368.2 378.1,368.0 379.3,367.1 380.5,366.0 381.7,366.2 382.9,366.4 384.0,366.8 385.2,366.8 386.4,366.4 387.5,366.9 388.7,366.4 389.9,366.8 391.0,366.9 392.1,368.0 393.2,368.0 394.4,367.9 395.5,368.8 396.6,368.9 397.7,369.2 398.9,367.9 400.0,366.8 401.1,366.3 402.3,366.0 403.5,366.4 404.7,367.8 405.9,367.8 407.0,369.0 408.2,369.8 409.4,370.0 410.6,369.6 411.9,369.7 413.1,369.1 414.4,368.2 415.6,367.6 416.9,367.9 418.1,368.4 419.4,369.5 420.6,369.7 421.9,370.0 423.1,369.4 424.4,369.1 425.6,368.9 426.9,368.4 428.1,368.4 429.3,368.7 430.6,368.4 431.8,369.6 433.1,369.4 434.3,370.0 435.4,370.1 436.5,371.1 437.6,371.4 438.8,372.7 439.9,372.9 441.0,373.4 442.1,373.9 443.3,374.1 444.5,373.5 445.6,373.8 446.8,373.8 448.0,373.4 449.1,373.8 450.3,372.9 451.5,373.1 452.6,372.3 453.7,370.7 454.8,370.4 456.0,368.7 457.1,367.4 458.2,366.9 459.3,366.0 460.6,366.5 461.8,366.2 463.1,366.4 464.3,366.7 465.6,366.8 466.8,366.3 468.1,366.2 469.3,365.2 470.6,365.4 471.8,365.3 472.9,365.4 474.0,365.0 475.1,364.5 476.3,364.1 477.4,364.8 478.5,364.6 479.6,364.5 480.9,365.4 482.2,366.0 483.5,365.7 484.8,367.0 486.1,367.6 487.4,367.6 488.5,368.3 489.6,368.7 490.7,368.9 491.9,369.2 493.0,369.3 494.1,369.5 495.2,369.6 496.5,368.8 497.7,367.9 499.0,368.0 500.2,367.5 501.5,366.8 502.6,366.8 503.7,367.6 504.8,368.2 506.0,368.5 507.1,369.1 508.2,369.6 509.3,369.6 510.5,369.7 511.7,370.2 512.9,370.1 514.1,370.2 515.4,370.1 516.6,370.8 517.8,370.5 519.0,371.0 520.2,370.7 521.5,370.3 522.8,370.1 524.1,370.2 525.4,369.6 526.7,368.8 528.0,368.4 529.2,368.1 530.5,368.5 531.7,368.7 533.0,369.3 534.2,369.2 535.4,370.6 536.5,372.0 537.7,372.3 538.9,373.1 540.1,372.4 541.2,371.8 542.4,371.4 543.6,369.9 544.8,369.2 545.9,368.5 547.1,368.0 548.3,367.6 549.5,367.6 550.6,368.5 551.8,368.1 553.0,369.1 554.2,368.7 555.4,368.7 556.5,369.7 557.7,369.6 558.8,372.0" fill="none" stroke="#0000ff" stroke-width="2.6" stroke-linejoin="round"/>
<polyline points="74.0,286.9 74.5,301.8 75.0,291.2 75.5,297.1 76.0,273.2 76.5,278.6 77.0,289.1 77.5,283.7 78.0,275.7 78.5,287.7 79.0,276.4 79.5,289.2 80.0,267.7 80.5,276.7 81.0,291.6 81.5,272.9 82.0,276.0 82.5,289.1 83.0,280.5 83.5,270.2 84.0,283.3 84.5,281.8 85.0,268.7 85.5,284.8 86.0,265.8 86.5,276.7 87.0,266.5 87.5,265.3 88.0,276.3 88.5,248.5 89.0,262.6 89.5,234.6 90.0,247.5 90.5,253.5 91.0,249.8 91.5,238.9 92.0,257.6 92.5,253.6 93.0,242.8 93.5,243.6 94.0,263.6 94.5,248.3 95.0,244.7 95.5,252.7 96.0,244.3 96.5,262.0 97.0,249.0 97.5,242.6 98.0,263.1 98.5,238.0 99.0,250.5 99.5,240.1 100.0,261.7 100.5,238.8 101.0,256.2 101.5,239.5 102.0,254.3 102.5,255.0 103.0,250.8 103.5,250.1 104.0,251.4 104.5,247.0 105.0,248.8 105.5,231.6 105.9,242.9 106.4,229.5 106.9,245.9 107.4,252.0 108.0,240.4 108.5,258.7 109.0,280.1 109.5,282.3 110.0,279.3 110.5,294.3 111.0,287.5 111.5,267.5 112.0,262.9 112.5,264.1 113.0,268.2 113.5,244.1 114.0,247.0 114.5,237.7 115.0,246.4 115.5,231.9 116.1,222.4 116.6,220.4 117.2,203.7 117.7,208.0 118.2,227.6 118.6,218.3 119.0,220.2 119.5,243.7 120.0,226.5 120.5,233.2 121.0,230.0 121.5,236.6 122.0,238.3 122.5,240.9 123.0,259.3 123.5,240.4 124.0,248.0 124.5,257.2 125.0,264.7 125.5,246.9 126.0,264.7 126.5,249.3 127.0,259.1 127.5,257.2 128.0,266.9 128.5,259.3 129.0,255.2 129.5,265.1 130.0,249.8 130.5,254.8 131.0,268.3 131.5,253.5 132.0,263.9 132.5,248.8 133.0,269.0 133.5,255.0 134.0,249.7 134.5,269.2 135.0,251.2 135.5,253.3 136.0,250.7 136.5,247.3 137.0,250.8 137.5,262.5 138.0,244.7 138.5,253.1 139.0,255.5 139.5,257.3 140.0,252.5 140.5,264.5 141.0,247.1 141.5,255.2 142.0,254.3 142.5,246.9 143.0,251.5 143.5,248.2 144.0,264.2 144.5,244.3 145.0,263.9 145.5,246.4 146.0,262.7 146.5,258.1 147.0,251.6 147.5,268.6 148.0,256.3 148.5,257.4 149.0,243.8 149.5,257.2 150.0,249.5 150.5,257.2 151.0,266.9 151.5,262.2 152.0,242.8 152.5,264.7 153.0,264.7 153.5,254.5 154.0,246.0 154.5,268.5 155.0,250.3 155.5,270.2 156.0,261.5 156.5,262.9 157.0,265.1 157.5,242.0 158.0,267.8 158.5,247.4 159.0,249.1 159.5,254.9 160.0,258.6 160.5,242.3 161.0,258.8 161.5,262.6 162.0,253.9 162.5,257.4 163.0,250.3 163.5,270.0 164.0,245.3 164.5,263.9 165.0,257.4 165.5,242.6 166.0,272.9 166.5,243.9 167.0,272.0 167.5,261.9 168.0,264.1 168.5,262.1 169.0,250.7 169.5,255.2 170.0,251.1 170.5,265.3 171.0,234.5 171.5,243.5 172.0,259.1 172.5,249.7 173.0,249.8 173.5,256.4 174.0,242.7 174.5,254.8 175.0,240.8 175.5,256.7 176.0,230.2 176.5,247.6 177.0,245.9 177.5,252.0 178.0,240.5 178.5,250.7 179.0,255.1 179.5,239.4 180.0,238.4 180.5,234.3 181.0,257.1 181.5,240.2 182.0,242.9 182.5,245.5 183.0,234.3 183.5,240.3 184.0,238.8 184.5,239.7 185.0,255.1 185.5,234.6 186.0,236.6 186.5,256.2 187.0,242.3 187.5,232.6 188.0,252.3 188.5,246.7 189.0,247.4 189.5,250.4 190.0,240.3 190.5,238.1 191.0,252.3 191.5,244.9 192.0,249.1 192.5,234.3 193.0,243.6 193.5,249.1 194.0,239.4 194.5,248.0 195.0,242.0 195.5,251.1 196.0,237.8 196.5,245.6 197.0,251.8 197.5,236.5 198.0,237.6 198.5,249.2 199.0,232.6 199.5,256.4 200.0,234.1 200.5,257.1 201.0,240.5 201.5,235.6 202.0,246.6 202.5,247.4 203.0,242.0 203.5,247.5 204.0,238.9 204.5,256.8 205.0,231.0 205.5,254.9 206.0,227.6 206.5,248.3 207.0,230.6 207.5,237.6 208.0,247.4 208.5,252.6 209.0,235.5 209.5,243.1 210.0,242.7 210.5,246.1 211.0,238.5 211.5,241.0 212.0,253.4 212.5,242.2 213.0,240.4 213.5,253.2 214.0,254.1 214.5,239.1 215.0,232.7 215.5,245.3 216.0,261.1 216.4,241.6 216.9,252.3 217.4,268.6 217.9,243.3 218.4,265.2 219.0,237.6 219.5,245.2 220.0,243.5 220.5,230.2 221.0,251.2 221.5,235.9 222.0,248.8 222.5,244.4 223.0,227.5 223.5,251.6 224.0,244.0 224.5,230.9 225.0,243.7 225.5,229.7 226.0,242.4 226.5,244.0 227.0,233.6 227.5,240.6 228.0,227.9 228.5,250.6 229.0,237.5 229.5,246.6 230.0,224.3 230.5,248.1 231.0,223.8 231.5,243.0 232.0,228.7 232.5,250.3 233.0,223.0 233.5,240.4 234.0,234.7 234.5,233.8 235.0,225.4 235.5,243.3 236.0,245.7 236.5,228.9 237.0,247.7 237.5,227.2 238.0,231.3 238.6,224.0 239.1,225.9 239.6,222.2 240.1,226.1 240.5,216.2 241.0,236.6 241.5,216.5 242.0,218.3 242.5,220.5 243.0,211.0 243.5,204.8 244.0,220.3 244.5,228.4 245.0,235.3 245.5,238.6 246.0,230.4 246.5,227.6 247.0,248.7 247.5,228.3 248.0,232.4 248.5,243.8 249.0,233.6 249.5,247.1 250.0,236.6 250.5,246.1 251.0,222.6 251.5,250.1 252.0,231.2 252.5,240.8 253.0,227.5 253.5,229.9 254.0,230.4 254.5,226.8 255.0,248.3 255.5,219.8 256.0,231.5 256.5,238.0 257.0,224.7 257.5,228.8 258.0,228.5 258.5,228.0 259.0,222.2 259.5,242.7 260.0,234.3 260.5,227.6 261.0,244.8 261.5,230.7 262.0,226.0 262.5,246.6 263.0,221.2 263.5,243.7 264.0,237.0 264.5,217.7 265.0,245.3 265.5,225.8 266.0,233.7 266.5,242.7 267.0,227.0 267.5,226.1 268.0,221.3 268.5,244.3 269.0,226.1 269.5,238.1 270.0,232.5 270.5,242.9 271.0,238.5 271.5,239.6 272.0,227.9 272.5,241.9 273.0,221.9 273.5,223.0 274.0,235.9 274.5,216.0 275.0,246.4 275.5,220.3 276.0,230.6 276.5,223.9 277.0,226.6 277.5,231.2 278.0,236.5 278.5,214.3 279.0,229.4 279.5,222.1 280.0,242.5 280.5,222.4 281.0,228.1 281.5,238.8 282.0,220.9 282.5,225.9 283.0,224.6 283.5,220.5 284.0,233.7 284.6,210.3 285.1,211.9 285.7,201.8 286.2,211.4 286.6,213.2 287.1,211.2 287.5,229.3 288.0,229.1 288.5,230.1 289.0,223.8 289.5,218.7 290.0,217.7 290.5,231.1 291.0,217.2 291.5,228.7 292.0,216.0 292.5,219.3 293.0,209.2 293.5,230.7 294.0,212.7 294.5,223.3 295.0,226.0 295.5,227.8 296.0,230.1 296.5,222.0 297.0,213.1 297.5,233.8 298.0,204.8 298.5,222.7 299.0,230.5 299.5,226.0 300.0,220.7 300.5,229.4 301.0,208.8 301.5,211.4 302.0,217.3 302.5,232.0 303.0,204.4 303.5,220.1 304.0,220.2 304.5,212.3 305.0,232.0 305.5,206.2 306.0,213.4 306.5,234.9 307.0,202.8 307.5,217.9 308.0,218.2 308.5,230.4 309.0,212.6 309.5,224.0 310.0,226.7 310.5,221.1 311.0,228.3 311.5,204.9 312.0,225.6 312.5,205.9 313.0,233.4 313.5,203.6 314.0,214.4 314.5,219.8 315.0,223.2 315.5,206.4 316.0,227.7 316.5,207.4 317.0,219.2 317.5,208.3 318.0,229.4 318.5,225.8 319.0,225.3 319.5,213.8 320.0,215.4 320.5,233.4 321.0,224.2 321.5,230.9 322.0,214.5 322.5,231.5 323.0,221.2 323.5,227.1 324.0,218.2 324.5,227.9 325.0,217.6 325.5,214.8 326.0,221.0 326.5,207.8 327.0,228.2 327.5,213.3 328.0,213.7 328.5,229.5 329.0,217.8 329.5,215.9 330.0,232.2 330.5,227.7 331.0,215.7 331.5,222.5 332.0,206.3 332.5,220.4 333.0,232.6 333.5,216.5 334.0,233.9 334.5,203.6 335.0,212.4 335.5,210.9 336.0,211.7 336.5,229.1 337.0,230.0 337.5,223.8 338.0,221.6 338.5,216.4 339.0,218.0 339.5,211.0 340.0,220.0 340.5,210.2 341.0,231.0 341.5,217.7 342.0,217.5 342.5,229.9 343.0,211.8 343.5,232.1 344.0,222.0 344.5,222.7 345.0,221.6 345.5,223.0 346.0,229.6 346.5,230.0 347.0,218.5 347.5,232.4 348.0,209.6 348.5,234.2 349.0,225.7 349.5,221.8 350.0,209.3 350.5,233.3 351.0,212.9 351.5,217.8 352.0,232.4 352.5,205.6 353.0,228.1 353.5,210.5 354.0,232.5 354.5,208.9 355.0,213.1 355.5,221.7 356.0,218.4 356.5,227.0 357.0,212.2 357.5,216.9 358.0,215.6 358.5,222.6 359.0,209.6 359.5,224.7 360.0,226.9 360.5,222.8 361.0,212.8 361.5,221.6 362.0,209.0 362.5,222.6 363.0,226.0 363.5,205.2 364.0,228.3 364.5,228.5 365.0,211.7 365.5,217.8 366.0,225.4 366.5,209.4 367.0,217.2 367.5,223.9 368.0,219.3 368.5,211.6 369.0,214.7 369.5,221.4 370.0,229.1 370.5,209.5 371.0,228.0 371.5,218.4 372.0,214.7 372.5,219.3 373.0,228.6 373.5,207.1 374.0,225.1 374.5,217.9 375.0,210.5 375.5,220.6 376.0,211.2 376.5,220.1 377.0,207.7 377.5,225.4 378.0,226.3 378.5,227.8 379.0,228.9 379.5,210.9 380.0,230.5 380.5,213.1 381.0,227.6 381.5,216.9 382.0,227.1 382.5,215.0 383.0,233.1 383.5,214.7 384.0,228.7 384.5,208.3 385.0,228.5 385.5,207.6 386.0,217.2 386.5,211.8 387.0,219.1 387.5,212.9 388.0,205.2 388.5,222.9 389.0,192.6 389.5,211.3 390.0,194.9 390.5,198.7 391.0,200.3 391.5,218.5 392.0,188.9 392.5,215.9 393.0,204.1 393.5,214.3 394.0,211.7 394.5,193.7 395.0,220.1 395.5,192.1 396.0,200.2 396.5,201.0 397.0,213.0 397.5,208.8 398.0,216.3 398.5,204.9 399.0,218.4 399.5,213.7 400.0,235.0 400.5,220.4 401.0,229.8 401.5,222.0 402.0,217.3 402.5,219.9 403.0,224.0 403.5,237.6 404.0,221.2 404.5,234.8 405.0,228.6 405.5,225.7 406.0,233.1 406.5,234.3 407.0,245.3 407.5,238.7 408.0,232.0 408.5,230.6 409.0,229.8 409.5,233.2 410.0,236.9 410.5,246.6 411.0,219.5 411.5,229.7 412.0,231.1 412.5,234.1 413.0,219.3 413.5,221.7 414.0,233.9 414.5,215.3 415.0,240.9 415.5,228.9 416.0,227.0 416.5,241.1 417.0,223.3 417.5,240.4 418.0,216.2 418.5,219.6 419.0,227.2 419.5,227.7 420.0,230.9 420.5,215.8 421.0,235.3 421.5,218.5 422.0,240.4 422.5,229.8 423.0,232.2 423.5,212.4 424.0,218.5 424.5,215.8 425.0,227.2 425.5,213.0 426.0,219.9 426.5,215.5 427.0,241.0 427.5,219.5 428.0,220.5 428.5,217.1 429.0,221.3 429.5,215.4 430.0,235.0 430.5,232.3 431.0,230.1 431.5,211.4 432.0,230.7 432.5,231.2 433.0,218.9 433.5,232.4 434.0,208.3 434.5,228.5 435.0,228.2 435.5,220.0 436.0,213.7 436.5,238.1 437.0,226.5 437.5,216.1 438.0,230.6 438.5,211.5 439.0,228.7 439.5,225.9 440.0,223.7 440.5,220.0 441.0,231.0 441.5,216.8 442.0,212.1 442.5,215.5 443.0,214.2 443.5,230.8 444.0,207.1 444.5,237.5 445.0,218.1 445.5,210.6 446.0,235.4 446.5,229.0 447.0,211.1 447.5,224.9 448.0,212.0 448.5,213.2 449.0,211.2 449.5,232.7 450.0,208.8 450.5,215.3 451.0,212.5 451.5,216.0 452.0,232.0 452.5,207.9 453.0,214.3 453.5,209.0 454.0,227.4 454.5,206.2 455.0,231.1 455.5,226.8 456.0,210.9 456.5,220.8 457.0,226.7 457.5,216.9 458.0,215.6 458.5,234.3 459.0,234.2 459.5,217.7 460.0,241.7 460.5,216.7 461.0,247.8 461.5,229.1 462.0,254.5 462.5,225.0 463.0,241.8 463.5,238.5 464.0,236.9 464.5,239.1 465.0,216.4 465.5,216.0 466.0,215.5 466.5,210.4 467.0,233.6 467.5,215.0 468.0,212.0 468.5,215.6 469.0,212.6 469.5,218.0 470.0,212.6 470.5,221.9 471.0,208.2 471.5,224.4 472.0,225.4 472.5,220.8 473.0,204.6 473.5,219.7 474.0,223.9 474.5,203.0 475.0,231.7 475.5,201.4 476.0,210.3 476.5,205.0 477.0,228.6 477.5,199.7 478.0,219.8 478.5,216.7 479.0,214.8 479.5,228.5 480.0,214.0 480.5,202.8 481.0,216.2 481.5,205.8 482.0,227.9 482.5,203.9 483.0,222.4 483.5,211.1 484.0,214.3 484.5,216.0 485.0,208.2 485.5,220.8 486.0,216.0 486.5,223.1 487.0,221.3 487.5,205.7 488.0,232.3 488.5,214.6 489.0,240.1 489.5,225.3 490.0,223.2 490.5,235.6 491.0,235.9 491.5,237.2 492.0,235.6 492.5,243.3 493.0,241.8 493.5,250.7 494.0,238.0 494.5,246.4 495.0,233.9 495.5,258.3 496.0,234.6 496.5,259.9 497.0,238.7 497.5,242.0 498.0,231.9 498.5,234.7 499.0,217.6 499.5,219.8 500.0,224.5 500.5,215.6 501.0,223.1 501.5,220.1 502.0,233.2 502.5,220.3 503.0,207.4 503.5,227.8 504.0,212.5 504.5,213.3 505.0,217.6 505.5,230.0 506.0,223.6 506.5,216.7 507.0,229.2 507.5,216.4 508.0,210.6 508.5,226.8 509.0,225.9 509.5,221.3 510.0,212.5 510.5,219.9 511.0,208.7 511.5,215.1 512.0,208.7 512.5,234.2 513.0,220.4 513.5,218.8 514.0,224.7 514.5,223.5 515.0,218.2 515.5,218.2 516.1,229.7 516.6,232.6 517.1,232.7 517.6,233.7 518.2,247.8 518.7,250.4 519.2,236.6 519.6,233.7 520.1,246.5 520.6,244.2 521.1,233.8 521.5,234.9 522.0,227.5 522.5,220.1 523.0,227.6 523.5,222.4 524.0,237.4 524.5,210.5 525.0,241.8 525.5,210.1 526.0,224.5 526.5,227.4 527.0,236.6 527.5,232.7 528.0,231.2 528.5,229.0 529.0,233.0 529.5,220.7 530.0,218.0 530.5,233.1 531.0,219.0 531.5,229.5 532.0,234.6 532.5,238.6 533.0,215.4 533.5,243.0 534.0,216.9 534.5,232.2 535.0,235.0 535.5,231.0 536.0,224.5 536.5,239.8 537.0,216.5 537.5,240.5 538.0,237.6 538.5,234.8 539.0,216.8 539.5,229.3 540.0,218.1 540.5,227.9 541.0,226.4 541.5,220.6 542.0,230.3 542.5,237.1 543.0,230.6 543.5,223.2 544.0,220.8 544.5,221.4 545.0,239.5 545.5,219.7 546.0,233.4 546.5,219.9 547.0,237.1 547.5,216.0 548.0,232.5 548.5,226.7 549.0,230.4 549.5,221.5 550.0,236.5 550.5,239.2 551.0,219.0 551.5,221.5 552.0,226.1 552.5,226.4 553.0,240.0 553.5,214.4 554.0,222.4 554.5,232.7 555.0,228.0 555.5,222.8 556.0,236.7 556.5,225.0 557.0,243.4 557.5,218.5 558.0,234.0 558.5,219.0 559.0,222.9" fill="none" stroke="#ff0000" stroke-width="1.0" stroke-linejoin="round"/>
<polyline points="74.4,130.2 74.8,107.7 75.3,123.9 75.7,105.0 76.2,121.9 76.6,95.8 77.0,118.2 77.5,107.7 77.9,113.9 78.3,114.4 78.8,100.4 79.2,106.2 79.6,110.9 80.1,101.6 80.5,103.9 80.9,102.4 81.4,114.0 81.8,110.7 82.3,110.7 82.7,100.9 83.2,117.0 83.6,105.2 84.1,104.2 84.5,109.1 85.0,107.5 85.4,102.3 85.9,113.1 86.3,106.7 86.8,112.9 87.2,118.0 87.7,111.8 88.1,108.5 88.6,116.6 89.0,115.4 89.5,105.6 89.9,115.6 90.3,94.8 90.8,102.2 91.2,99.8 91.7,113.5 92.1,103.8 92.6,108.4 93.0,101.0 93.5,108.7 93.9,115.2 94.4,101.0 94.9,107.4 95.3,106.2 95.8,116.1 96.2,164.2 96.7,133.1 97.2,107.7 97.6,93.6 98.0,71.1 98.4,90.9 98.9,79.6 99.3,86.1 99.7,90.8 100.1,103.9 100.6,96.0 101.0,114.1 101.5,98.4 101.9,103.6 102.4,94.3 102.8,111.1 103.3,103.3 103.7,99.1 104.2,93.2 104.6,101.0 105.1,95.8 105.5,104.9 106.0,102.8 106.4,99.1 106.9,91.1 107.4,92.2 107.9,111.6 108.3,111.0 108.8,101.3 109.3,114.6 109.8,114.5 110.2,122.7 110.7,101.2 111.1,105.8 111.5,116.4 111.9,106.3 112.4,105.4 112.8,109.4 113.2,100.1 113.7,99.0 114.1,85.8 114.6,81.0 115.0,75.4 115.5,87.0 115.9,96.1 116.4,95.5 116.8,102.0 117.3,111.8 117.8,117.3 118.2,120.4 118.7,121.2 119.1,137.4 119.4,139.6 119.9,136.7 120.3,130.3 120.8,109.2 121.2,120.0 121.7,103.6 122.2,101.9 122.6,97.4 123.1,84.6 123.6,92.8 124.1,109.0 124.5,97.8 125.0,116.9 125.5,112.4 126.0,112.5 126.4,115.3 126.9,121.7 127.3,123.7 127.7,118.7 128.1,117.4 128.6,122.1 129.0,135.3 129.5,127.5 129.9,116.2 130.4,130.1 130.8,118.7 131.3,115.2 131.7,123.8 132.2,104.9 132.6,107.4 133.1,108.5 133.5,112.8 134.0,105.5 134.4,104.0 134.9,109.6 135.3,100.5 135.8,113.5 136.2,98.7 136.7,120.2 137.1,105.4 137.5,121.6 138.0,122.9 138.4,122.1 138.9,123.9 139.3,125.9 139.7,137.2 140.1,136.8 140.5,144.5 140.9,139.1 141.3,125.6 141.8,107.9 142.2,106.1 142.6,105.0 143.1,103.4 143.5,117.4 144.0,118.1 144.4,113.5 144.9,127.9 145.3,129.1 145.8,126.2 146.2,125.8 146.7,126.9 147.1,123.0 147.6,124.5 148.0,134.9 148.5,112.6 148.9,132.4 149.3,120.2 149.8,123.2 150.2,107.7 150.7,119.9 151.1,106.1 151.6,117.5 152.1,115.2 152.6,113.6 153.0,109.8 153.5,116.3 154.0,101.6 154.4,109.4 154.9,126.3 155.3,113.1 155.7,130.1 156.1,131.5 156.6,145.8 157.0,138.9 157.5,145.5 157.9,141.7 158.4,141.8 158.8,141.0 159.3,140.5 159.7,142.2 160.2,137.9 160.6,138.2 161.1,146.2 161.5,143.7 162.0,130.3 162.4,145.8 162.9,123.4 163.3,133.3 163.8,137.9 164.2,120.8 164.7,132.3 165.1,132.1 165.5,122.7 166.0,120.3 166.4,110.8 166.9,118.8 167.3,114.1 167.7,122.7 168.2,115.4 168.6,127.5 169.1,119.1 169.5,128.2 169.9,130.1 170.4,121.3 170.8,140.6 171.3,128.3 171.7,135.0 172.1,141.7 172.6,131.5 173.0,132.6 173.5,125.7 173.9,126.7 174.4,134.9 174.8,126.6 175.3,130.7 175.8,129.1 176.2,128.4 176.6,118.0 177.1,125.8 177.6,111.1 178.0,105.6 178.4,114.6 178.9,107.5 179.4,90.5 179.8,104.2 180.3,110.3 180.7,120.3 181.2,142.2 181.6,161.2 182.1,161.0 182.5,171.7 183.0,157.1 183.4,156.1 183.9,167.1 184.3,160.9 184.7,153.1 185.2,154.3 185.6,143.2 186.1,143.3 186.5,142.7 186.9,146.7 187.4,144.8 187.8,142.5 188.3,147.3 188.7,143.1 189.1,152.9 189.6,152.3 190.0,151.9 190.5,145.0 190.9,149.1 191.3,153.9 191.8,135.3 192.2,139.8 192.6,122.1 193.0,122.0 193.5,117.8 193.9,121.2 194.3,101.9 194.8,103.8 195.2,81.2 195.7,87.6 196.1,74.3 196.5,78.8 197.0,91.8 197.4,102.8 197.9,118.6 198.3,123.1 198.7,127.2 199.2,137.7 199.6,138.5 200.1,125.9 200.5,137.9 200.9,138.6 201.4,145.4 201.8,138.1 202.3,141.4 202.7,146.3 203.2,144.3 203.6,141.8 204.1,139.3 204.5,141.7 205.0,125.4 205.5,141.6 205.9,125.1 206.4,130.6 206.9,127.9 207.3,129.2 207.8,128.3 208.2,126.7 208.7,120.6 209.2,121.4 209.6,124.7 210.1,127.0 210.6,116.4 211.0,113.4 211.5,130.1 211.9,126.3 212.4,127.2 212.8,123.9 213.3,121.6 213.7,116.6 214.2,134.2 214.6,120.9 215.1,120.0 215.5,130.1 216.0,117.3 216.4,128.0 216.9,129.3 217.3,133.1 217.8,124.6 218.2,124.7 218.6,127.8 219.1,135.9 219.5,120.8 220.0,126.6 220.4,129.1 220.9,135.7 221.3,127.8 221.8,127.1 222.2,106.2 222.7,116.1 223.1,102.2 223.6,109.8 224.0,106.7 224.5,97.4 225.0,110.5 225.4,116.3 225.9,121.2 226.4,127.5 226.9,132.7 227.3,149.6 227.8,159.2 228.2,156.1 228.7,153.4 229.1,150.1 229.6,144.9 230.0,140.9 230.4,132.7 230.9,144.6 231.3,127.0 231.8,142.8 232.2,133.7 232.7,128.4 233.2,145.1 233.6,141.3 234.1,147.2 234.6,136.6 235.1,146.5 235.6,140.3 236.1,153.7 236.6,134.5 237.0,141.3 237.5,142.5 238.0,133.5 238.4,133.9 238.9,125.9 239.3,116.1 239.8,121.1 240.2,107.2 240.7,104.9 241.2,97.8 241.6,90.3 242.1,94.4 242.6,122.0 243.1,129.6 243.5,119.8 244.0,132.9 244.4,131.2 244.8,136.2 245.2,148.4 245.7,147.8 246.1,148.2 246.5,157.1 247.0,160.1 247.4,150.8 247.9,164.2 248.3,161.8 248.7,167.0 249.2,169.7 249.6,168.1 250.1,160.7 250.5,158.9 250.9,157.1 251.4,145.5 251.8,152.0 252.3,132.1 252.7,132.3 253.1,134.5 253.6,130.9 254.0,143.5 254.5,135.4 254.9,138.5 255.3,131.6 255.8,136.9 256.2,145.3 256.7,140.3 257.1,146.5 257.5,146.9 258.0,138.5 258.4,139.3 258.9,126.0 259.3,120.0 259.8,128.5 260.2,142.3 260.7,131.2 261.1,137.4 261.6,139.5 262.0,160.5 262.4,144.8 262.9,152.0 263.4,159.8 263.8,156.7 264.2,167.8 264.7,159.4 265.1,152.8 265.6,155.9 266.1,137.9 266.5,153.0 266.9,141.3 267.4,142.3 267.8,131.7 268.3,151.7 268.8,148.5 269.2,142.4 269.6,143.4 270.1,148.8 270.5,152.7 271.0,149.2 271.4,153.9 271.9,162.0 272.4,153.5 272.8,147.4 273.3,155.8 273.7,148.2 274.2,133.9 274.6,143.9 275.1,134.7 275.5,134.7 276.0,133.1 276.4,139.3 276.9,130.6 277.3,123.7 277.8,119.6 278.2,124.8 278.7,131.4 279.1,136.6 279.6,138.4 280.1,140.7 280.5,146.1 280.9,144.7 281.4,160.9 281.9,135.1 282.3,134.2 282.8,128.4 283.2,122.2 283.7,105.1 284.1,111.2 284.6,101.8 285.1,99.5 285.5,116.5 285.9,94.3 286.4,112.5 286.9,92.9 287.3,102.6 287.8,110.5 288.2,124.5 288.7,128.1 289.1,127.4 289.6,132.0 290.0,144.2 290.5,137.7 290.9,140.3 291.4,122.5 291.8,134.8 292.2,127.5 292.7,131.7 293.1,127.2 293.6,124.3 294.0,123.8 294.5,108.8 294.9,128.7 295.4,115.0 295.8,123.5 296.3,106.8 296.7,117.6 297.2,120.3 297.6,120.2 298.1,113.2 298.5,119.8 299.0,101.6 299.4,107.9 299.9,108.2 300.3,120.6 300.8,115.8 301.2,113.9 301.7,125.2 302.1,116.5 302.5,114.3 303.0,131.1 303.4,124.3 303.9,132.8 304.3,128.3 304.7,124.6 305.2,132.1 305.6,115.5 306.1,117.6 306.5,120.9 306.9,131.6 307.4,112.2 307.8,129.4 308.3,119.8 308.7,114.9 309.1,116.4 309.6,123.4 310.0,113.6 310.4,123.6 310.8,103.8 311.3,117.2 311.7,116.2 312.1,112.6 312.6,124.4 313.0,136.3 313.5,135.4 313.9,154.2 314.4,148.7 314.9,130.2 315.4,123.8 315.8,129.3 316.3,103.6 316.8,116.5 317.2,103.8 317.7,115.9 318.1,106.0 318.5,120.8 319.0,112.1 319.4,114.9 319.8,105.9 320.3,119.1 320.7,110.4 321.1,123.1 321.6,113.8 322.0,116.5 322.4,117.7 322.9,123.6 323.3,123.6 323.7,130.5 324.1,137.2 324.6,145.0 325.0,145.3 325.4,136.8 325.9,147.1 326.3,131.4 326.8,135.3 327.2,134.1 327.7,133.2 328.1,129.3 328.6,131.2 329.0,119.9 329.5,121.1 329.9,120.4 330.4,119.8 330.8,114.0 331.3,130.3 331.8,129.0 332.3,148.2 332.7,141.3 333.2,139.9 333.6,126.0 334.0,133.3 334.4,121.5 334.9,127.2 335.3,105.2 335.8,122.3 336.3,133.3 336.8,142.0 337.2,146.3 337.7,155.6 338.2,153.9 338.6,148.3 339.1,144.9 339.5,147.1 339.9,141.3 340.3,133.0 340.8,125.6 341.2,134.3 341.7,124.9 342.2,132.0 342.6,146.4 343.1,146.9 343.6,150.6 344.1,157.5 344.5,146.0 345.0,139.6 345.4,127.6 345.9,117.5 346.3,124.4 346.8,108.4 347.2,129.2 347.7,118.8 348.1,133.6 348.6,135.7 349.1,136.8 349.5,126.5 350.0,148.6 350.4,128.6 350.9,131.7 351.3,140.3 351.8,131.7 352.2,118.6 352.6,131.5 353.1,113.5 353.5,122.0 354.0,119.5 354.4,103.5 354.9,106.8 355.3,101.3 355.8,99.7 356.3,110.5 356.8,88.2 357.2,96.7 357.7,100.3 358.1,90.5 358.6,110.2 359.0,120.0 359.4,127.5 359.9,132.6 360.3,126.3 360.7,134.7 361.1,150.9 361.5,147.1 361.9,141.6 362.4,135.5 362.9,128.5 363.3,110.0 363.7,126.5 364.2,111.3 364.6,127.8 365.1,110.1 365.5,116.1 365.9,125.9 366.4,127.0 366.8,126.0 367.3,117.4 367.7,137.0 368.1,132.9 368.6,136.0 369.0,133.7 369.4,123.9 369.8,136.8 370.3,130.4 370.7,135.2 371.2,136.6 371.6,140.2 372.1,132.6 372.5,138.1 373.0,122.4 373.4,119.7 373.9,130.5 374.3,125.9 374.8,117.7 375.2,112.5 375.7,118.5 376.1,107.0 376.6,110.2 377.0,112.6 377.5,115.0 377.9,115.4 378.4,104.6 378.8,114.1 379.3,114.2 379.7,111.6 380.2,109.0 380.6,114.3 381.1,117.0 381.5,120.7 382.0,126.9 382.4,112.1 382.8,125.9 383.3,118.7 383.7,122.8 384.1,127.6 384.5,132.0 385.0,141.5 385.4,132.4 385.9,144.6 386.3,134.3 386.8,127.0 387.2,134.2 387.7,117.6 388.2,114.4 388.6,119.8 389.1,117.5 389.5,120.9 390.0,110.9 390.4,116.9 390.9,130.1 391.3,133.3 391.7,127.4 392.2,137.0 392.6,126.4 393.1,132.1 393.5,139.3 394.0,142.8 394.4,121.5 394.9,130.3 395.4,125.3 395.8,109.7 396.3,123.4 396.7,103.0 397.2,115.3 397.6,112.8 398.1,112.2 398.5,123.7 399.0,132.4 399.4,131.6 399.8,145.3 400.3,134.7 400.7,131.7 401.2,133.3 401.6,140.4 402.0,133.1 402.5,136.3 402.9,128.7 403.4,131.6 403.8,129.1 404.3,134.1 404.7,127.8 405.2,128.5 405.6,145.8 406.1,141.7 406.5,127.1 407.0,147.8 407.4,131.8 407.9,141.9 408.3,139.5 408.8,133.4 409.2,140.9 409.7,141.1 410.1,146.6 410.6,148.9 411.0,149.0 411.4,155.7 411.8,150.5 412.3,166.5 412.7,163.6 413.1,155.2 413.6,158.8 414.0,154.7 414.5,152.0 414.9,144.2 415.3,147.3 415.8,143.8 416.2,148.7 416.7,141.0 417.1,137.6 417.5,130.2 418.0,135.0 418.4,129.8 418.8,136.1 419.3,137.5 419.7,136.8 420.1,139.9 420.6,135.6 421.0,137.2 421.4,131.0 421.9,128.7 422.3,132.2 422.8,134.8 423.2,134.6 423.7,136.4 424.1,128.5 424.6,149.8 425.1,134.0 425.5,139.3 426.0,148.5 426.4,139.8 426.9,151.9 427.3,138.5 427.8,152.7 428.2,142.1 428.6,155.9 429.1,159.3 429.5,151.1 430.0,162.7 430.4,163.1 430.8,155.3 431.3,150.6 431.7,158.6 432.2,156.2 432.6,155.3 433.0,153.5 433.5,149.1 433.9,138.3 434.4,145.7 434.8,141.3 435.2,138.1 435.7,150.1 436.1,135.7 436.5,154.1 437.0,150.8 437.4,146.2 437.8,148.6 438.3,160.7 438.7,149.3 439.1,159.5 439.6,170.1 440.0,166.6 440.5,157.6 440.9,155.6 441.4,147.5 441.9,152.7 442.3,142.4 442.8,141.1 443.2,128.8 443.7,139.4 444.2,118.5 444.6,126.9 445.1,123.9 445.5,130.3 446.0,124.5 446.4,146.4 446.9,154.3 447.3,158.5 447.8,154.7 448.2,152.6 448.7,153.2 449.1,156.0 449.6,150.8 450.1,155.5 450.5,141.5 451.0,150.4 451.4,151.7 451.9,138.5 452.4,141.6 452.8,138.1 453.2,132.8 453.7,134.8 454.1,143.2 454.6,130.7 455.1,131.8 455.5,140.3 456.0,123.0 456.4,134.7 456.9,129.3 457.3,134.9 457.8,129.9 458.2,142.3 458.7,131.6 459.1,142.8 459.6,130.4 460.0,147.8 460.5,130.0 460.9,148.2 461.4,132.1 461.9,141.5 462.3,140.7 462.8,130.8 463.2,140.9 463.7,138.5 464.1,134.4 464.6,140.4 465.0,133.9 465.5,125.9 466.0,140.2 466.4,138.6 466.9,123.1 467.3,127.0 467.8,132.3 468.2,130.5 468.7,126.6 469.1,121.5 469.6,127.4 470.0,121.9 470.4,125.9 470.9,130.9 471.3,119.5 471.7,132.0 472.2,126.0 472.6,113.7 473.0,121.5 473.5,111.3 473.9,113.6 474.4,134.3 474.9,137.5 475.4,168.0 475.8,159.0 476.3,162.6 476.8,153.5 477.2,153.9 477.6,140.6 478.1,152.6 478.6,131.4 479.0,146.3 479.5,141.5 479.9,140.3 480.4,141.7 480.9,130.6 481.3,145.0 481.8,130.1 482.2,135.0 482.7,131.4 483.2,145.7 483.6,140.7 484.1,136.9 484.5,131.4 485.0,135.3 485.5,146.6 485.9,140.8 486.4,136.2 486.9,150.4 487.3,141.1 487.8,136.1 488.2,156.2 488.7,139.9 489.1,148.3 489.6,155.0 490.0,154.9 490.5,144.3 490.9,160.0 491.4,145.2 491.8,146.6 492.3,148.4 492.7,145.9 493.2,149.1 493.6,137.6 494.0,146.4 494.4,130.6 494.9,124.7 495.3,129.1 495.8,120.4 496.2,122.7 496.7,139.9 497.1,121.2 497.6,128.3 498.0,130.2 498.5,128.6 498.9,136.2 499.4,139.7 499.8,135.2 500.3,140.9 500.7,131.8 501.2,138.1 501.7,141.0 502.2,150.0 502.6,152.8 503.1,159.2 503.6,151.7 504.1,152.0 504.5,153.5 505.0,150.6 505.4,158.0 505.8,148.7 506.3,145.2 506.7,143.2 507.1,145.4 507.6,141.3 508.0,143.3 508.4,132.3 508.9,137.1 509.3,136.4 509.7,135.5 510.2,123.1 510.6,142.4 511.1,130.0 511.5,140.9 511.9,138.5 512.4,139.3 512.8,139.0 513.3,138.9 513.7,144.6 514.1,136.4 514.6,134.0 515.0,141.3 515.5,140.7 515.9,146.2 516.4,138.9 516.8,135.2 517.3,139.8 517.8,131.5 518.2,127.3 518.7,139.5 519.1,128.2 519.6,128.1 520.1,135.3 520.5,134.2 521.0,138.2 521.5,135.1 521.9,151.7 522.4,145.7 522.8,158.8 523.3,165.6 523.7,159.6 524.2,159.8 524.6,146.2 525.1,158.1 525.5,157.1 525.9,148.6 526.4,151.6 526.8,141.6 527.3,149.7 527.7,137.1 528.2,146.8 528.6,150.3 529.1,146.9 529.5,151.7 530.0,144.4 530.4,155.4 530.9,155.4 531.3,158.3 531.8,150.5 532.2,160.7 532.7,159.4 533.1,162.3 533.6,156.6 534.1,167.5 534.5,155.5 535.0,149.5 535.4,159.4 535.9,145.6 536.3,140.4 536.8,139.4 537.2,134.6 537.7,129.9 538.1,125.6 538.6,121.7 539.0,118.4 539.5,126.3 540.0,122.0 540.5,129.9 541.0,134.3 541.4,149.7 541.9,150.9 542.4,145.1 542.9,154.6 543.3,155.1 543.8,151.2 544.2,144.0 544.7,150.5 545.1,136.3 545.6,148.1 546.0,134.6 546.5,145.5 546.9,133.1 547.4,145.6 547.8,126.0 548.3,133.6 548.7,130.7 549.2,139.3 549.6,131.6 550.0,138.3 550.4,140.3 550.9,138.5 551.3,153.7 551.8,148.5 552.2,147.3 552.7,133.5 553.1,131.4 553.6,131.4 554.1,122.4 554.5,114.3 555.0,118.8 555.5,123.2 556.0,111.8 556.5,115.1 556.9,114.8 557.4,122.8 557.9,111.6 558.5,124.8 559.0,133.0" fill="none" stroke="#000000" stroke-width="1.1" stroke-linejoin="round"/>
</g>
<g clip-path="url(#cb)">
<polyline points="643.9,406.8 645.0,398.5 646.2,391.2 647.4,388.2 648.6,384.9 650.1,355.3 651.7,372.4 652.9,373.4 654.0,374.0 655.1,372.0 656.1,369.5 657.2,367.8 658.4,367.6 659.5,367.5 660.7,366.7 661.9,366.2 663.1,362.0 664.4,357.4 665.6,352.8 666.9,349.0 668.1,345.1 669.1,349.0 670.2,352.4 671.2,356.8 672.4,357.2 673.5,356.9 674.7,357.0 675.9,357.6 677.0,354.1 678.2,352.1 679.3,353.7 680.4,355.1 681.5,356.5 682.6,357.4 683.7,358.4 685.0,358.6 686.2,359.3 687.5,360.1 688.7,360.5 690.0,361.5 691.3,357.2 692.6,352.1 693.9,347.5 695.0,351.7 696.2,356.8 697.2,352.7 698.3,347.6 699.3,343.6 700.6,350.5 701.9,356.7 703.2,363.1 704.5,357.5 705.8,351.5 707.1,345.9 708.4,344.7 709.6,343.3 710.9,341.9 712.1,341.7 713.4,340.4 714.5,339.9 715.6,340.0 716.7,339.1 717.9,339.6 719.0,339.4 720.1,338.8 721.2,338.1 722.4,339.1 723.7,339.6 724.9,340.3 726.2,340.3 727.4,341.2 728.6,342.5 729.8,344.3 730.9,345.1 732.1,346.7 733.1,344.0 734.2,341.0 735.2,337.3 736.4,338.7 737.5,339.9 738.7,341.3 739.9,342.8 741.2,343.1 742.4,344.3 743.7,344.2 744.9,344.2 746.2,345.1 747.4,345.2 748.7,346.4 749.9,347.6 751.2,347.7 752.4,348.2 753.6,347.6 754.9,347.0 756.1,346.7 757.4,345.5 758.6,345.1 759.9,346.4 761.1,347.7 762.4,349.1 763.6,349.9 764.9,351.4 766.1,351.7 767.2,352.4 768.4,353.9 769.5,354.0 770.7,354.9 771.9,355.3 773.0,355.7 774.2,356.8 775.5,356.7 776.7,357.9 778.0,358.7 779.2,358.7 780.5,359.2 781.8,360.1 783.1,361.0 784.4,362.2 785.7,363.1 787.0,363.2 788.3,363.9 789.4,364.6 790.5,365.0 791.6,364.9 792.8,365.4 793.9,365.1 795.0,365.1 796.1,365.4 797.4,365.3 798.7,366.0 800.0,365.5 801.3,365.3 802.6,366.2 803.9,366.2 805.0,366.8 806.1,366.9 807.2,367.7 808.4,367.1 809.5,367.4 810.6,367.9 811.7,368.5 812.9,368.3 814.1,368.1 815.3,367.9 816.5,368.0 817.6,368.7 818.8,369.0 820.0,368.8 821.2,368.3 822.4,367.8 823.6,368.6 824.8,368.2 826.0,368.3 827.1,367.5 828.3,367.5 829.5,368.1 830.7,368.1 831.9,367.8 833.1,368.3 834.2,368.2 835.4,368.1 836.5,368.3 837.7,368.7 838.9,368.2 840.0,368.4 841.2,368.5 842.5,368.6 843.7,369.2 845.0,368.7 846.2,369.5 847.5,370.3 848.7,369.5 850.0,370.2 851.2,370.6 852.5,371.0 853.7,370.9 854.9,370.9 856.1,370.5 857.3,370.4 858.5,370.9 859.7,371.0 860.9,369.9 862.1,369.4 863.3,369.2 864.5,369.0 865.7,369.4 866.9,369.2 868.1,369.6 869.3,369.3 870.5,369.7 871.7,369.4 872.9,369.8 874.1,369.8 875.3,370.1 876.5,370.0 877.7,370.0 878.9,370.2 880.1,370.7 881.3,371.3 882.5,371.4 883.7,371.2 884.9,371.7 886.1,371.7 887.2,371.9 888.4,371.9 889.6,371.9 890.8,370.9 892.0,371.1 893.1,370.6 894.3,371.3 895.5,370.7 896.6,371.2 897.8,370.7 899.0,371.0 900.2,370.7 901.4,370.3 902.5,370.5 903.7,370.6 904.9,370.4 906.1,370.9 907.3,370.5 908.5,370.6 909.8,370.6 911.0,371.2 912.2,370.3 913.4,370.6 914.6,370.6 915.8,370.9 917.0,371.3 918.2,370.6 919.4,370.8 920.7,370.7 921.9,370.7 923.1,370.3 924.3,370.7 925.5,370.6 926.7,371.2 927.9,371.0 929.0,371.1 930.2,372.0 931.4,371.3 932.5,371.2 933.7,371.4 934.9,372.5 936.1,372.9 937.2,372.8 938.4,373.1 939.6,373.2 940.8,372.8 942.0,373.1 943.3,373.0 944.5,373.0 945.7,372.8 946.9,372.7 948.2,372.4 949.4,372.0 950.6,372.4 951.8,372.3 953.0,372.7 954.3,372.8 955.5,372.7 956.7,372.4 957.9,372.2 959.1,371.7 960.3,371.6 961.5,371.5 962.7,371.5 964.0,371.8 965.2,370.6 966.4,370.6 967.6,370.5 968.8,370.5 970.0,370.1 971.2,370.9 972.5,371.3 973.7,371.4 975.0,371.7 976.2,371.7 977.4,371.4 978.6,371.2 979.9,370.7 981.1,370.2 982.3,369.1 983.5,369.3 984.8,368.4 986.0,368.0 987.2,367.4 988.4,367.8 989.6,368.2 990.8,368.6 992.0,367.5 993.3,367.6 994.5,367.8 995.7,368.1 996.9,368.0 998.1,368.5 999.4,368.1 1000.6,367.4 1001.9,367.2 1003.1,367.7 1004.4,367.4 1005.6,366.7 1006.9,365.9 1008.1,366.4 1009.4,366.0 1010.6,365.4 1011.9,366.0 1013.2,366.7 1014.5,367.8 1015.8,368.8 1017.1,369.1 1018.4,370.1 1019.6,370.2 1020.9,369.7 1022.1,369.3 1023.3,369.8 1024.5,368.9 1025.8,369.2 1027.0,368.6 1028.2,368.8 1029.5,368.3 1030.7,368.2 1031.9,368.7 1033.1,368.2 1034.4,367.9 1035.6,367.8 1036.8,367.6 1038.1,367.0 1039.3,366.4 1040.6,366.2 1041.8,365.8 1043.0,365.4 1044.3,366.0 1045.5,364.9 1046.8,365.1 1048.0,364.6 1049.1,363.9 1050.3,362.8 1051.4,360.8 1052.5,360.0 1053.6,358.5 1054.8,357.9 1055.9,356.8 1057.1,356.4 1058.4,355.3 1059.6,354.2 1060.9,354.2 1062.1,353.7 1063.3,354.8 1064.6,356.4 1065.8,358.2 1067.1,360.3 1068.3,361.5 1069.4,361.1 1070.6,360.4 1071.7,360.8 1072.8,360.7 1073.9,360.0 1075.1,359.2 1076.2,359.2 1077.4,358.9 1078.7,359.1 1079.9,359.4 1081.2,359.2 1082.4,359.9 1083.6,360.2 1084.9,360.4 1086.1,360.4 1087.4,359.7 1088.6,360.0 1089.8,360.3 1090.9,360.1 1092.1,361.2 1093.3,361.6 1094.5,361.9 1095.7,361.5 1096.8,361.6 1098.0,362.3 1099.2,363.3 1100.3,364.1 1101.5,364.8 1102.7,365.4 1104.0,364.3 1105.3,363.4 1106.6,361.8 1107.9,360.4 1109.2,359.4 1110.5,358.4 1111.7,358.7 1112.8,359.4 1114.0,360.4 1115.2,359.9 1116.4,360.2 1117.6,361.2 1118.7,361.9 1119.9,362.3 1121.1,362.6 1122.4,363.1 1123.6,363.5 1124.9,364.1 1126.1,365.4" fill="none" stroke="#008000" stroke-width="2.6" stroke-linejoin="round"/>
<polyline points="643.9,389.6 644.9,387.0 646.0,383.1 647.0,380.2 648.6,375.6 649.6,379.6 650.7,385.3 651.7,389.6 653.0,387.3 654.3,384.9 655.6,383.4 656.9,380.8 658.2,378.0 659.5,375.6 660.5,378.1 661.6,379.5 662.6,381.8 663.9,377.6 665.2,372.4 666.5,367.8 667.7,365.7 668.9,364.1 670.0,361.7 671.2,359.2 672.4,362.5 673.5,365.1 674.7,367.0 675.9,370.1 677.1,370.5 678.4,370.6 679.6,370.4 680.9,370.4 682.1,370.9 683.3,370.8 684.5,370.3 685.6,370.2 686.8,369.3 688.1,371.1 689.3,372.9 690.6,373.8 691.8,375.2 693.1,376.3 694.3,376.0 695.6,375.1 696.8,375.4 698.1,374.4 699.3,374.0 700.5,373.1 701.6,372.4 702.8,370.8 704.0,369.3 705.3,371.1 706.6,373.8 707.9,375.6 709.0,374.3 710.1,372.2 711.2,370.2 712.3,369.2 713.4,367.8 714.6,366.4 715.8,366.6 716.9,365.5 718.1,364.6 719.2,365.4 720.4,366.1 721.6,367.2 722.7,367.8 723.8,362.1 724.8,355.2 725.9,349.0 727.0,349.8 728.2,351.0 729.4,351.7 730.5,352.9 731.6,351.6 732.6,350.4 733.7,349.0 734.9,349.4 736.0,350.2 737.2,350.6 738.4,350.4 739.5,351.9 740.7,351.9 741.8,352.3 743.0,352.9 744.2,352.4 745.4,352.6 746.5,352.5 747.7,351.6 748.9,350.9 750.0,350.1 751.2,350.4 752.4,349.8 753.5,350.3 754.6,351.1 755.7,351.6 756.9,352.2 758.0,352.9 759.1,353.5 760.2,354.5 761.5,353.3 762.8,353.0 764.1,352.9 765.4,352.2 766.7,351.0 768.0,350.6 769.2,350.8 770.5,350.5 771.8,350.8 773.0,351.5 774.2,352.0 775.5,351.6 776.8,352.1 778.0,351.9 779.2,352.0 780.5,352.1 781.8,351.9 783.0,352.0 784.2,351.6 785.5,351.0 786.8,350.9 788.0,350.5 789.2,349.8 790.5,349.9 791.8,349.6 793.0,349.0 794.3,350.1 795.6,351.5 796.9,351.3 798.2,352.5 799.5,353.7 800.8,354.5 802.0,354.7 803.2,354.6 804.4,355.4 805.6,355.5 806.9,355.5 808.1,355.4 809.3,356.6 810.5,356.5 811.7,356.8 812.9,356.4 814.1,356.2 815.3,356.1 816.5,356.8 817.7,356.1 818.9,356.0 820.1,355.7 821.3,356.0 822.5,356.1 823.8,356.4 825.0,357.1 826.2,358.1 827.5,359.2 828.8,359.8 830.0,359.4 831.2,360.2 832.5,361.3 833.8,361.4 835.0,362.3 836.2,361.8 837.5,361.8 838.8,361.6 840.0,361.9 841.2,361.9 842.5,361.4 843.8,360.9 845.0,360.7 846.2,360.6 847.5,360.7 848.7,360.2 849.8,360.5 851.0,360.0 852.1,360.7 853.3,360.6 854.5,359.8 855.6,360.0 856.8,360.0 858.0,360.1 859.2,359.6 860.4,359.8 861.6,359.4 862.8,360.1 864.0,359.4 865.2,360.0 866.4,360.6 867.6,360.6 868.8,359.9 870.0,360.0 871.2,359.7 872.4,360.0 873.6,359.8 874.8,360.3 876.0,360.4 877.2,359.6 878.4,359.7 879.6,360.1 880.9,359.6 882.1,360.3 883.3,360.5 884.5,360.2 885.7,359.9 886.9,360.2 888.1,360.0 889.3,359.9 890.4,359.4 891.6,359.1 892.8,358.7 893.9,359.3 895.1,358.9 896.3,358.9 897.5,358.9 898.6,359.0 899.8,357.8 901.0,357.6 902.1,358.0 903.3,357.8 904.5,357.2 905.6,357.1 906.8,356.8 908.0,357.0 909.2,357.1 910.4,357.3 911.6,357.9 912.8,358.2 914.0,358.9 915.2,359.9 916.4,359.4 917.6,360.0 918.8,360.8 920.0,361.0 921.2,361.2 922.4,361.5 923.6,361.5 924.9,360.6 926.1,361.2 927.4,361.0 928.6,360.9 929.9,360.7 931.1,359.6 932.4,359.1 933.6,359.1 934.9,359.2 936.0,359.3 937.1,360.1 938.2,360.5 939.4,360.2 940.5,360.4 941.6,360.7 942.7,360.7 943.9,360.3 945.1,360.6 946.3,360.5 947.5,360.1 948.8,359.9 950.0,359.5 951.2,359.0 952.4,358.3 953.6,358.1 954.8,358.2 956.0,358.4 957.1,358.4 958.3,359.8 959.5,359.6 960.6,359.5 961.8,360.1 963.0,360.7 964.2,360.0 965.3,360.1 966.5,359.8 967.7,359.5 968.8,359.7 970.0,359.6 971.3,359.0 972.6,358.4 973.9,358.5 975.2,357.6 976.5,357.3 977.8,356.8 978.9,358.0 980.0,359.3 981.1,359.6 982.3,359.8 983.4,361.7 984.5,362.3 985.6,363.1 986.8,362.5 988.0,361.8 989.1,361.4 990.3,361.1 991.5,360.6 992.6,360.1 993.8,360.7 995.0,360.0 996.2,360.7 997.3,360.5 998.5,361.0 999.6,361.9 1000.8,362.0 1002.0,361.9 1003.1,362.5 1004.3,363.1 1005.5,362.7 1006.8,363.0 1008.0,362.6 1009.3,362.2 1010.5,362.1 1011.8,361.1 1013.0,361.5 1014.3,361.5 1015.5,361.2 1016.8,360.7 1018.0,360.6 1019.1,360.4 1020.3,359.9 1021.5,359.8 1022.7,359.7 1023.8,360.0 1025.0,360.5 1026.2,359.9 1027.4,360.0 1028.5,360.2 1029.7,360.1 1030.9,359.4 1032.1,360.1 1033.2,359.9 1034.4,359.6 1035.6,359.6 1036.8,359.5 1038.0,360.0 1039.2,360.5 1040.4,360.2 1041.6,360.2 1042.8,360.5 1044.0,360.2 1045.2,360.5 1046.4,361.3 1047.6,361.2 1048.8,361.5 1050.0,361.3 1051.2,361.5 1052.5,362.0 1053.7,362.4 1055.0,362.1 1056.2,362.6 1057.5,363.1 1058.7,363.3 1060.0,363.6 1061.2,363.5 1062.5,364.0 1063.7,364.3 1064.9,364.1 1066.1,364.3 1067.3,364.0 1068.5,364.5 1069.7,364.1 1070.9,363.5 1072.1,363.5 1073.3,363.0 1074.5,363.6 1075.7,362.9 1076.9,363.3 1078.1,363.0 1079.3,363.1 1080.5,364.0 1081.8,364.1 1083.0,365.3 1084.3,366.1 1085.5,366.5 1086.7,366.5 1087.8,366.4 1089.0,366.8 1090.2,367.4 1091.4,367.2 1092.6,367.1 1093.7,367.7 1094.9,368.1 1096.2,368.3 1097.4,367.8 1098.7,368.4 1099.9,368.1 1101.2,367.5 1102.4,367.3 1103.7,367.6 1104.9,367.8 1106.2,367.5 1107.4,367.8 1108.6,367.5 1109.7,368.0 1110.9,368.0 1112.1,368.4 1113.2,368.6 1114.4,369.1 1115.5,369.2 1116.7,369.3 1117.9,369.0 1119.0,368.7 1120.2,369.3 1121.4,368.4 1122.6,368.2 1123.8,368.1 1124.9,368.7 1126.1,368.5" fill="none" stroke="#ff00ff" stroke-width="2.6" stroke-linejoin="round"/>
<polyline points="643.9,384.9 645.5,366.2 646.6,357.0 647.8,346.7 649.4,353.7 650.9,363.1 652.5,360.0 653.5,360.9 654.6,361.2 655.6,360.7 656.8,360.6 658.0,361.1 659.1,361.2 660.3,361.5 661.5,354.5 662.6,347.0 663.8,340.0 665.0,333.4 666.2,330.8 667.4,328.3 668.5,326.2 669.7,324.0 670.7,325.5 671.8,327.5 672.8,330.3 673.8,335.0 674.9,339.6 675.9,344.3 676.9,343.3 678.0,342.5 679.0,341.2 680.3,343.4 681.6,345.3 682.9,348.2 684.2,344.5 685.5,340.6 686.8,336.5 687.9,334.7 688.9,332.6 690.0,330.3 691.0,333.5 692.1,335.5 693.1,338.1 694.1,337.4 695.2,336.0 696.2,335.0 697.4,336.5 698.7,338.0 699.9,339.0 701.2,340.1 702.4,342.0 703.5,342.5 704.6,343.5 705.7,344.2 706.9,344.7 708.0,345.5 709.1,345.8 710.2,346.7 711.4,344.9 712.6,343.4 713.7,342.6 714.9,340.5 716.1,338.8 717.2,337.3 718.4,335.9 719.6,335.0 720.7,334.4 721.8,334.6 722.9,334.9 724.0,334.3 725.1,334.2 726.4,335.8 727.7,337.5 729.0,339.7 730.2,338.9 731.5,339.0 732.7,338.4 734.0,337.6 735.2,337.3 736.4,335.6 737.5,335.1 738.7,334.1 739.9,332.6 740.9,334.9 742.0,336.1 743.0,338.1 744.3,338.3 745.5,339.0 746.8,338.9 748.0,339.3 749.3,338.9 750.5,339.5 751.8,341.0 753.0,340.8 754.3,341.8 755.5,342.8 756.7,342.5 757.9,343.2 759.0,343.4 760.2,343.9 761.4,343.9 762.5,344.1 763.7,343.7 764.9,343.6 766.1,344.6 767.2,345.0 768.4,345.0 769.5,346.2 770.7,346.1 771.9,346.2 773.0,346.6 774.2,347.5 775.4,347.2 776.6,346.8 777.9,347.4 779.1,347.5 780.3,346.5 781.5,345.9 782.8,346.1 784.0,345.8 785.2,345.9 786.4,345.9 787.5,346.4 788.7,346.0 789.9,346.1 791.0,346.9 792.2,346.6 793.3,346.5 794.5,346.7 795.7,347.5 796.9,348.2 798.2,348.9 799.4,349.2 800.6,349.3 801.8,350.1 803.1,350.8 804.3,351.1 805.5,351.4 806.7,351.2 807.9,351.1 809.1,351.1 810.4,351.4 811.6,351.3 812.8,351.2 814.0,351.5 815.2,350.6 816.4,350.9 817.6,350.6 818.9,350.8 820.1,351.0 821.3,350.5 822.5,350.6 823.6,351.6 824.7,351.4 825.8,352.4 826.9,353.1 828.0,353.7 829.3,352.1 830.6,351.1 831.9,349.8 833.1,351.2 834.4,352.5 835.6,354.3 836.9,355.0 838.1,356.8 839.3,356.9 840.5,357.6 841.6,357.3 842.8,358.4 844.0,358.0 845.1,358.7 846.3,358.7 847.5,359.2 848.7,358.4 849.8,357.7 851.0,356.6 852.1,356.5 853.3,355.8 854.5,355.3 855.6,354.5 856.8,353.7 858.0,353.5 859.3,353.3 860.5,352.8 861.8,353.2 863.0,352.1 864.3,352.7 865.5,352.6 866.8,352.0 868.0,351.9 869.3,351.4 870.4,351.7 871.5,351.8 872.6,351.5 873.8,351.5 874.9,351.6 876.0,351.8 877.1,352.1 878.4,351.8 879.7,350.7 881.0,350.0 882.3,349.4 883.6,349.1 884.9,348.2 886.1,348.2 887.4,348.3 888.6,347.9 889.9,347.8 891.1,347.5 892.4,347.6 893.6,347.8 894.9,348.4 896.1,348.3 897.4,348.2 898.7,346.7 899.9,345.8 901.2,344.4 902.4,343.8 903.7,342.8 905.0,343.0 906.3,343.7 907.6,343.4 908.9,344.2 910.2,343.9 911.5,344.3 912.6,343.2 913.8,341.4 915.0,339.0 916.1,337.8 917.3,338.5 918.5,338.5 919.6,339.0 920.8,339.7 922.0,340.2 923.1,341.9 924.3,342.2 925.5,343.6 926.8,343.5 928.1,343.0 929.4,343.0 930.7,342.3 932.0,341.8 933.3,342.0 934.5,343.7 935.6,345.1 936.8,345.8 938.0,347.5 939.2,347.7 940.4,347.9 941.5,347.0 942.7,346.4 943.9,346.9 945.0,346.5 946.2,346.9 947.4,346.7 948.6,347.5 949.8,348.5 950.9,349.2 952.1,349.8 953.2,349.4 954.4,348.8 955.6,347.7 956.7,346.7 958.0,347.0 959.3,346.8 960.6,346.6 961.9,346.6 963.2,347.6 964.5,347.5 965.6,347.1 966.7,347.0 967.8,346.7 968.9,346.9 970.0,346.7 971.2,347.8 972.4,349.3 973.5,349.9 974.7,350.9 975.9,350.9 977.1,351.1 978.3,351.4 979.5,351.8 980.8,351.1 982.0,351.7 983.2,351.9 984.4,351.9 985.6,351.4 986.8,351.3 988.0,351.2 989.1,351.7 990.3,351.9 991.5,351.0 992.6,351.2 993.8,351.5 995.0,351.4 996.2,352.2 997.4,352.6 998.6,352.7 999.8,353.3 1001.1,353.4 1002.3,354.1 1003.5,354.9 1004.7,355.8 1005.9,356.1 1007.1,356.5 1008.2,356.6 1009.4,356.6 1010.6,356.9 1011.8,357.7 1012.9,357.8 1014.1,357.8 1015.3,358.4 1016.4,358.4 1017.5,358.1 1018.6,358.4 1019.8,357.7 1020.9,357.5 1022.0,357.0 1023.1,356.8 1024.3,357.0 1025.6,357.4 1026.8,357.8 1028.1,357.6 1029.3,357.2 1030.6,356.7 1031.8,357.6 1033.1,357.4 1034.3,357.4 1035.6,357.6 1036.8,357.3 1038.0,357.2 1039.2,357.5 1040.4,358.3 1041.6,358.4 1042.8,358.4 1044.0,358.4 1045.2,357.9 1046.4,357.7 1047.6,358.2 1048.8,357.9 1050.0,358.3 1051.2,358.4 1052.5,358.2 1053.7,358.1 1055.0,357.5 1056.2,357.1 1057.5,357.3 1058.7,356.9 1060.0,357.3 1061.2,356.9 1062.5,357.0 1063.7,356.8 1064.9,357.4 1066.2,357.7 1067.4,357.9 1068.7,357.8 1069.9,358.4 1071.1,357.9 1072.2,358.3 1073.4,357.4 1074.6,356.9 1075.8,356.9 1077.0,356.7 1078.1,356.6 1079.3,356.1 1080.5,355.4 1081.6,355.4 1082.8,353.9 1083.9,354.0 1085.1,353.3 1086.3,353.1 1087.4,351.8 1088.6,351.4 1089.8,351.4 1090.9,351.8 1092.1,351.6 1093.3,350.8 1094.5,351.5 1095.7,351.7 1096.8,350.8 1098.0,350.9 1099.2,351.2 1100.3,350.7 1101.5,350.6 1102.7,351.5 1103.9,351.8 1105.1,352.2 1106.2,351.9 1107.4,351.8 1108.7,352.5 1110.0,352.7 1111.3,353.6 1112.6,354.7 1113.9,355.0 1115.2,355.3 1116.4,355.6 1117.5,354.9 1118.7,355.2 1119.8,355.3 1121.0,354.4 1122.2,354.9 1123.3,354.4 1124.5,354.5 1126.1,363.9" fill="none" stroke="#0000ff" stroke-width="2.6" stroke-linejoin="round"/>
<polyline points="644.3,174.4 644.8,183.5 645.4,179.2 646.0,205.2 646.5,192.9 647.0,215.1 647.6,208.1 648.2,232.4 648.7,224.5 649.4,222.6 650.1,201.8 650.8,187.2 651.3,175.0 651.9,178.8 652.5,172.3 653.0,150.9 653.5,170.3 654.1,182.1 654.7,184.2 655.2,187.9 655.9,172.1 656.6,170.0 657.3,136.7 657.9,159.1 658.6,159.6 659.2,152.7 659.8,163.5 660.4,165.3 661.1,174.3 661.7,173.7 662.2,189.5 662.8,191.8 663.4,186.9 663.9,205.7 664.5,178.7 665.2,176.8 665.8,177.1 666.5,169.0 667.1,161.5 667.8,170.8 668.4,173.7 669.1,170.2 669.7,187.7 670.4,193.4 671.0,187.7 671.7,208.6 672.3,208.2 673.0,220.1 673.6,234.6 674.3,230.4 674.9,229.3 675.6,206.7 676.2,212.5 676.9,211.8 677.5,199.3 678.2,189.9 678.8,178.4 679.5,179.6 680.1,163.1 680.6,185.8 681.2,196.1 681.8,205.4 682.3,227.1 682.9,213.0 683.5,212.6 684.1,213.6 684.8,197.3 685.4,195.5 686.0,197.7 686.6,189.3 687.2,202.5 687.8,192.3 688.4,202.4 689.0,198.4 689.6,211.4 690.2,209.7 690.8,217.3 691.4,225.4 692.0,214.7 692.6,233.0 693.3,218.5 693.9,220.6 694.5,211.0 695.1,210.4 695.8,203.4 696.4,201.0 697.0,196.7 697.6,198.4 698.2,196.8 698.8,197.1 699.4,206.5 699.9,200.9 700.5,198.9 701.1,187.4 701.7,194.4 702.3,196.4 702.9,197.5 703.4,200.3 704.0,214.0 704.5,225.6 705.0,221.4 705.6,221.9 706.3,221.8 706.9,207.1 707.5,212.0 708.1,198.0 708.8,188.7 709.4,192.8 710.0,185.4 710.6,203.7 711.2,202.3 711.8,200.0 712.4,210.3 712.9,197.9 713.5,208.8 714.1,203.8 714.7,206.2 715.3,222.6 715.9,207.1 716.5,227.9 717.1,214.2 717.7,220.2 718.3,206.0 718.9,225.0 719.5,216.5 720.1,205.8 720.7,209.6 721.3,206.8 721.9,213.3 722.5,202.7 723.1,217.9 723.7,207.0 724.3,213.0 724.9,202.2 725.5,211.6 726.1,204.2 726.7,209.0 727.3,202.0 727.9,213.1 728.6,205.8 729.2,206.4 729.8,196.0 730.4,195.1 731.0,193.4 731.7,192.2 732.3,206.4 732.9,188.6 733.5,203.4 734.2,186.3 734.8,197.3 735.4,186.3 736.0,192.9 736.6,202.0 737.2,200.0 737.8,209.9 738.4,197.4 738.9,205.0 739.5,202.2 740.1,209.0 740.7,224.0 741.3,215.2 741.9,219.5 742.5,215.8 743.1,223.5 743.7,219.0 744.3,209.8 744.9,209.7 745.4,211.1 746.0,221.3 746.6,215.8 747.2,207.3 747.8,209.0 748.4,208.8 749.0,217.4 749.6,218.8 750.2,212.0 750.9,218.4 751.5,217.6 752.1,233.3 752.7,224.2 753.3,233.5 753.9,216.8 754.6,227.5 755.2,221.8 755.8,228.7 756.4,215.0 757.0,215.2 757.7,224.3 758.3,222.6 758.9,213.7 759.5,211.7 760.2,206.4 760.8,213.0 761.4,218.2 762.0,206.7 762.6,212.6 763.1,213.7 763.7,208.3 764.3,208.4 764.9,216.7 765.5,223.3 766.0,220.6 766.6,212.1 767.2,224.2 767.8,222.2 768.4,219.0 768.9,216.6 769.5,215.0 770.1,225.3 770.7,233.0 771.2,236.5 771.8,228.5 772.5,218.8 773.1,222.9 773.8,211.1 774.4,196.4 775.0,200.7 775.6,202.3 776.1,193.1 776.7,203.6 777.3,200.3 777.9,209.8 778.5,195.3 779.0,213.1 779.6,196.3 780.2,211.1 780.8,213.1 781.4,199.2 781.9,212.1 782.5,201.0 783.1,214.8 783.7,210.5 784.3,220.3 785.0,208.7 785.6,219.7 786.2,213.0 786.8,216.9 787.5,206.8 788.1,205.1 788.7,215.2 789.3,202.6 789.9,215.5 790.6,203.4 791.2,214.5 791.8,214.0 792.4,218.1 793.0,203.9 793.5,208.4 794.1,212.2 794.7,221.7 795.3,206.6 795.9,215.8 796.4,212.1 797.0,208.2 797.6,218.7 798.2,212.1 798.8,217.7 799.3,221.6 799.9,219.9 800.5,213.5 801.1,223.0 801.7,218.4 802.3,224.1 803.0,208.9 803.6,218.7 804.2,223.0 804.8,219.9 805.4,220.1 806.0,220.7 806.6,222.3 807.3,224.2 807.9,225.6 808.5,224.4 809.1,227.3 809.7,220.9 810.3,216.2 811.0,221.7 811.6,229.5 812.2,226.1 812.8,225.0 813.5,217.0 814.1,220.6 814.7,229.0 815.3,222.8 815.9,220.9 816.6,236.1 817.2,218.7 817.8,237.0 818.4,225.5 819.0,234.1 819.6,227.4 820.2,218.2 820.8,220.6 821.4,230.4 822.0,218.9 822.6,222.7 823.2,225.0 823.8,220.8 824.4,223.3 825.0,218.1 825.6,214.4 826.2,222.7 826.8,208.6 827.4,222.8 828.0,219.0 828.6,207.6 829.2,209.2 829.8,226.2 830.4,209.2 831.0,221.7 831.6,214.7 832.2,215.2 832.8,218.4 833.4,215.3 834.0,231.4 834.7,226.4 835.3,229.4 835.9,218.3 836.5,226.1 837.1,220.9 837.7,237.2 838.3,235.9 838.9,237.0 839.5,236.0 840.1,233.3 840.7,233.1 841.3,227.2 841.9,228.5 842.5,239.6 843.0,243.4 843.6,243.6 844.2,234.3 844.8,239.8 845.4,245.5 846.0,233.9 846.6,244.6 847.2,237.6 847.8,235.3 848.4,233.8 849.0,228.6 849.5,228.5 850.1,229.7 850.7,240.3 851.3,232.5 851.9,218.7 852.5,234.7 853.1,216.6 853.7,227.6 854.3,228.2 854.8,225.4 855.4,223.7 856.0,223.9 856.6,215.2 857.2,205.0 857.8,210.0 858.3,214.0 858.9,209.6 859.5,214.8 860.1,198.1 860.7,219.8 861.3,213.3 861.9,221.1 862.5,215.8 863.1,227.2 863.7,232.2 864.3,240.6 864.9,242.3 865.5,246.7 866.1,247.3 866.7,239.9 867.2,240.9 867.8,251.2 868.4,241.6 869.0,241.5 869.6,247.8 870.1,243.0 870.7,240.7 871.3,244.9 871.9,231.8 872.5,244.3 873.0,233.1 873.6,232.6 874.2,231.2 874.8,226.2 875.4,244.3 875.9,241.9 876.5,233.4 877.1,247.8 877.7,230.3 878.3,243.1 878.8,250.4 879.4,243.4 880.0,238.6 880.6,250.2 881.2,237.2 881.8,255.0 882.4,248.6 883.0,252.9 883.5,253.5 884.1,244.2 884.7,262.4 885.3,256.1 885.9,261.5 886.5,249.2 887.2,245.6 888.0,245.9 888.6,246.4 889.2,238.8 889.8,234.2 890.4,238.1 891.0,232.2 891.6,237.2 892.2,243.1 892.8,235.1 893.4,227.8 894.1,241.7 894.7,235.8 895.3,228.0 895.9,222.2 896.5,235.0 897.1,224.0 897.7,222.9 898.3,236.4 898.9,222.3 899.5,221.5 900.1,225.0 900.7,238.4 901.3,224.5 901.9,232.6 902.5,227.9 903.1,228.0 903.7,230.7 904.3,230.4 905.0,239.4 905.6,238.1 906.2,245.2 906.8,247.2 907.4,249.0 908.0,237.0 908.6,249.8 909.2,240.1 909.8,247.4 910.4,248.5 911.0,247.1 911.6,253.7 912.2,242.2 912.9,238.9 913.5,245.8 914.1,235.6 914.7,248.3 915.3,228.1 915.9,233.0 916.5,227.9 917.2,231.6 917.8,237.2 918.4,220.9 919.0,233.4 919.6,235.8 920.2,224.8 920.8,239.2 921.4,236.3 922.0,243.3 922.5,241.1 923.1,239.6 923.7,238.3 924.3,239.5 924.9,236.5 925.5,237.9 926.1,249.2 926.8,240.1 927.4,241.3 928.0,247.4 928.6,240.2 929.3,251.8 929.9,254.6 930.4,234.3 931.0,222.4 931.5,216.5 932.0,209.0 932.7,214.8 933.3,208.7 934.0,199.1 934.6,192.8 935.3,183.9 935.9,198.1 936.5,178.5 937.1,187.9 937.7,193.0 938.3,190.3 938.9,181.6 939.5,198.3 940.1,187.0 940.8,190.9 941.4,181.4 942.0,194.4 942.6,176.6 943.2,192.4 943.8,177.2 944.4,195.6 945.0,186.6 945.6,192.0 946.3,190.8 946.9,202.6 947.5,189.6 948.1,199.6 948.8,198.1 949.4,213.6 950.0,200.2 950.6,203.7 951.2,218.4 951.8,204.8 952.4,210.2 953.0,217.5 953.6,207.4 954.2,219.3 954.8,218.8 955.4,203.4 956.0,210.7 956.6,204.8 957.2,211.4 957.8,215.7 958.4,221.7 959.0,216.8 959.6,217.3 960.2,207.1 960.8,224.5 961.4,210.7 962.0,221.4 962.6,208.0 963.2,226.4 963.8,210.6 964.4,214.0 965.0,223.5 965.7,217.4 966.3,214.8 966.9,216.8 967.5,221.6 968.1,214.0 968.7,219.2 969.3,217.4 969.9,216.4 970.5,216.0 971.1,214.7 971.7,224.2 972.3,218.0 972.9,210.3 973.5,211.6 974.1,214.4 974.7,216.3 975.3,213.2 975.9,215.8 976.5,215.1 977.1,207.1 977.7,204.5 978.3,215.0 978.9,208.8 979.5,206.1 980.1,216.0 980.7,198.8 981.3,202.6 981.9,209.9 982.5,203.5 983.1,210.8 983.7,199.0 984.3,210.2 984.9,209.7 985.5,207.1 986.1,203.3 986.7,203.8 987.3,208.5 987.9,207.3 988.5,218.9 989.1,201.3 989.7,219.4 990.3,218.2 990.9,211.2 991.5,207.5 992.1,217.1 992.7,220.4 993.3,209.4 993.9,217.2 994.5,204.4 995.1,207.9 995.7,207.3 996.3,210.9 996.9,214.6 997.5,198.2 998.1,199.7 998.7,201.9 999.2,207.0 999.8,204.8 1000.4,201.6 1001.0,204.7 1001.6,198.3 1002.2,193.3 1002.8,208.2 1003.4,191.6 1004.0,189.8 1004.6,192.4 1005.2,192.3 1005.8,199.7 1006.4,194.1 1007.0,199.2 1007.6,212.6 1008.3,213.8 1008.9,219.1 1009.5,216.2 1010.1,234.3 1010.7,225.2 1011.3,224.6 1011.9,232.5 1012.5,217.7 1013.1,222.9 1013.7,226.0 1014.3,224.7 1014.9,224.2 1015.5,215.5 1016.1,229.4 1016.7,228.6 1017.3,217.1 1017.9,228.3 1018.5,211.6 1019.1,215.6 1019.7,222.4 1020.3,225.8 1020.9,217.4 1021.5,212.2 1022.1,210.1 1022.8,222.4 1023.4,212.8 1024.0,218.7 1024.6,201.8 1025.2,213.7 1025.9,197.5 1026.5,199.6 1027.1,201.9 1027.7,198.4 1028.4,205.0 1029.0,195.1 1029.6,194.4 1030.2,207.0 1030.8,206.2 1031.4,202.4 1032.0,212.9 1032.6,200.6 1033.1,211.9 1033.7,222.2 1034.3,215.8 1034.9,214.2 1035.5,220.1 1036.1,233.9 1036.7,220.9 1037.3,234.9 1037.8,229.6 1038.4,223.2 1039.0,229.1 1039.6,217.4 1040.2,227.8 1040.7,210.4 1041.3,222.4 1041.9,209.2 1042.5,216.6 1043.1,225.3 1043.6,216.0 1044.2,207.2 1044.8,223.0 1045.4,218.0 1046.0,220.0 1046.6,209.3 1047.2,206.2 1047.8,217.5 1048.3,209.9 1048.9,201.6 1049.5,211.2 1050.1,209.6 1050.7,212.0 1051.3,207.7 1051.9,202.5 1052.5,199.2 1053.1,198.7 1053.7,199.3 1054.3,203.7 1054.8,201.3 1055.4,210.9 1056.0,200.0 1056.6,208.6 1057.2,202.8 1057.8,204.5 1058.4,210.5 1059.0,214.3 1059.6,215.5 1060.3,216.9 1060.9,228.3 1061.5,219.4 1062.1,227.6 1062.7,223.7 1063.3,225.8 1063.9,223.5 1064.5,225.1 1065.1,226.7 1065.6,232.8 1066.2,235.6 1066.8,228.0 1067.4,231.0 1068.0,226.4 1068.6,220.1 1069.2,231.8 1069.8,225.1 1070.4,224.2 1071.0,230.7 1071.6,230.0 1072.1,215.5 1072.7,216.5 1073.3,221.9 1073.9,223.2 1074.5,220.8 1075.1,217.1 1075.7,216.4 1076.3,218.7 1076.8,210.4 1077.4,218.8 1078.0,222.3 1078.6,219.7 1079.2,217.4 1079.7,206.2 1080.3,212.1 1080.9,204.2 1081.5,206.9 1082.1,202.1 1082.6,202.9 1083.2,213.4 1083.8,201.0 1084.4,213.3 1085.0,208.3 1085.5,207.7 1086.1,217.2 1086.7,213.4 1087.3,211.3 1087.9,215.4 1088.4,220.5 1089.0,216.4 1089.6,224.2 1090.2,221.9 1090.8,235.1 1091.3,219.1 1091.9,237.5 1092.5,222.9 1093.1,226.0 1093.7,239.9 1094.3,235.0 1094.9,230.5 1095.5,241.3 1096.1,227.7 1096.8,233.8 1097.4,241.0 1098.0,238.5 1098.6,242.3 1099.2,230.6 1099.8,241.7 1100.4,242.1 1101.0,238.7 1101.6,233.6 1102.2,246.1 1102.8,240.6 1103.4,228.9 1104.1,240.7 1104.7,246.2 1105.3,241.8 1105.9,241.6 1106.5,230.7 1107.1,248.1 1107.7,232.6 1108.3,234.3 1108.9,240.3 1109.5,231.0 1110.2,240.3 1110.8,231.8 1111.4,218.0 1112.0,218.6 1112.6,218.1 1113.2,213.5 1113.8,215.8 1114.5,214.1 1115.1,205.6 1115.7,218.2 1116.3,213.3 1116.9,208.2 1117.5,214.2 1118.1,216.4 1118.7,225.1 1119.3,220.6 1119.8,213.8 1120.4,224.7 1121.0,219.3 1121.6,234.1 1122.2,231.5 1122.8,227.5 1123.5,229.9 1124.1,215.7 1124.8,210.1 1125.4,192.8 1126.1,195.9" fill="none" stroke="#ff0000" stroke-width="1.0" stroke-linejoin="round"/>
<polyline points="644.3,153.6 644.8,159.0 645.4,152.5 646.0,141.9 646.5,150.5 647.1,144.7 647.7,139.2 648.2,154.6 648.8,141.0 649.4,146.5 650.0,147.2 650.6,148.8 651.2,141.1 651.8,150.7 652.4,149.4 653.0,145.0 653.5,146.6 654.1,139.1 654.7,139.5 655.2,125.7 655.8,131.8 656.4,132.2 657.1,127.7 657.7,141.9 658.3,133.6 658.9,129.3 659.5,138.0 660.2,133.7 660.8,132.6 661.4,133.4 662.0,138.3 662.7,132.2 663.3,141.8 663.9,139.0 664.5,133.2 665.1,143.6 665.7,127.1 666.3,132.1 666.9,137.9 667.4,126.1 668.0,130.8 668.6,129.6 669.2,126.6 669.8,126.6 670.4,125.1 671.0,125.9 671.6,121.1 672.2,134.6 672.9,124.6 673.5,125.9 674.1,132.2 674.7,137.7 675.3,134.5 675.9,133.9 676.6,135.3 677.2,132.3 677.8,139.7 678.4,134.6 679.0,132.9 679.7,135.0 680.3,134.4 680.9,143.3 681.5,143.7 682.2,142.1 682.8,135.3 683.4,136.4 684.0,145.7 684.6,132.7 685.2,131.4 685.7,135.3 686.3,132.6 686.9,130.3 687.5,127.7 688.1,124.5 688.7,126.2 689.2,123.2 689.8,125.3 690.4,119.5 691.0,118.0 691.6,128.8 692.3,115.9 692.9,131.5 693.6,124.8 694.2,135.0 694.8,131.3 695.4,130.5 696.0,131.5 696.6,126.0 697.2,124.9 697.8,135.7 698.4,125.9 699.0,126.9 699.6,136.4 700.2,130.4 700.8,124.3 701.4,132.8 702.0,125.1 702.6,137.1 703.2,125.0 703.8,137.9 704.4,129.3 705.0,124.2 705.6,130.2 706.2,136.1 706.8,130.4 707.4,124.3 708.0,129.0 708.6,126.1 709.2,124.3 709.8,131.7 710.5,130.7 711.1,124.1 711.7,130.6 712.3,132.7 712.9,132.3 713.5,122.0 714.1,123.5 714.7,134.5 715.3,122.6 715.9,123.6 716.5,131.4 717.1,120.6 717.6,129.2 718.2,125.3 718.8,119.9 719.4,122.8 720.0,118.6 720.5,126.1 721.1,115.6 721.7,117.8 722.3,124.4 722.9,113.5 723.4,118.2 724.0,117.2 724.6,109.6 725.2,116.3 725.8,121.5 726.4,124.1 727.1,115.2 727.7,120.7 728.3,114.1 728.9,123.0 729.5,119.5 730.1,123.5 730.7,120.4 731.4,122.5 732.0,131.2 732.6,127.6 733.2,123.7 733.8,120.8 734.4,121.1 735.0,121.3 735.6,121.3 736.2,127.2 736.8,124.1 737.4,119.1 738.0,130.6 738.7,123.7 739.3,125.7 739.9,127.1 740.5,117.9 741.1,128.3 741.7,125.6 742.3,124.9 742.9,112.5 743.5,126.9 744.1,123.9 744.7,112.1 745.3,125.9 745.9,120.7 746.5,110.9 747.1,123.0 747.7,119.7 748.3,120.2 748.9,110.1 749.5,125.6 750.1,108.1 750.7,113.3 751.3,123.6 751.9,113.8 752.5,112.4 753.1,115.8 753.7,117.9 754.3,112.3 754.9,123.0 755.5,117.3 756.1,116.0 756.7,117.2 757.3,114.4 757.9,128.6 758.4,115.9 759.0,129.6 759.6,121.1 760.2,124.7 760.8,119.7 761.4,126.9 762.0,119.5 762.6,126.8 763.1,127.0 763.7,131.4 764.3,120.3 764.9,123.2 765.5,130.9 766.0,119.5 766.6,123.9 767.2,126.7 767.8,125.2 768.4,133.7 768.9,118.4 769.5,134.5 770.1,124.2 770.7,123.9 771.3,126.9 772.0,136.9 772.6,125.2 773.2,133.7 773.8,127.3 774.5,137.0 775.1,138.6 775.7,140.2 776.3,135.7 776.9,139.7 777.6,145.6 778.2,146.0 778.8,141.2 779.4,137.4 780.0,150.8 780.6,138.3 781.2,143.7 781.8,135.9 782.3,137.6 782.9,138.1 783.5,143.6 784.1,137.6 784.7,146.4 785.3,134.2 785.9,144.4 786.5,132.0 787.1,140.0 787.7,145.3 788.3,133.7 788.8,137.5 789.4,132.0 790.0,145.1 790.6,135.5 791.2,134.6 791.8,138.9 792.4,133.7 793.0,144.3 793.6,135.0 794.2,133.1 794.8,136.2 795.3,133.4 795.9,144.6 796.5,132.4 797.1,141.9 797.7,141.0 798.3,134.8 798.9,144.8 799.5,142.1 800.1,147.5 800.7,146.2 801.3,147.4 801.8,140.8 802.4,142.2 803.0,140.9 803.6,137.0 804.2,144.5 804.8,147.7 805.4,137.5 806.0,142.5 806.6,129.7 807.3,132.0 807.9,128.9 808.5,134.4 809.1,121.3 809.7,128.8 810.4,116.4 811.0,127.1 811.6,118.3 812.2,126.7 812.9,109.2 813.5,116.6 814.1,123.3 814.7,115.6 815.3,116.4 815.9,125.3 816.5,117.4 817.1,127.0 817.7,120.5 818.3,116.7 818.9,119.5 819.5,130.5 820.1,129.0 820.7,120.1 821.3,135.3 821.9,129.6 822.5,128.0 823.1,132.7 823.7,128.7 824.3,123.8 824.9,128.6 825.5,127.1 826.0,134.5 826.6,122.8 827.2,131.4 827.8,127.1 828.4,120.3 828.9,126.3 829.5,125.0 830.1,127.0 830.7,120.4 831.3,130.5 831.8,124.2 832.4,114.6 833.0,128.9 833.6,121.6 834.2,129.6 834.8,118.5 835.4,130.7 836.0,127.5 836.5,125.3 837.1,126.6 837.7,131.0 838.3,136.2 838.9,131.8 839.5,133.8 840.1,133.9 840.7,135.6 841.3,131.1 841.9,133.7 842.5,122.9 843.1,137.2 843.7,133.6 844.3,128.6 844.9,129.3 845.5,133.5 846.1,126.4 846.7,132.4 847.3,125.2 847.9,127.1 848.5,130.9 849.1,129.4 849.7,124.8 850.3,125.1 850.9,126.2 851.5,126.0 852.1,126.0 852.7,125.3 853.3,127.7 853.8,127.3 854.4,138.7 855.0,129.0 855.6,139.6 856.2,131.9 856.8,142.6 857.4,132.8 858.0,130.6 858.6,130.8 859.2,126.9 859.8,127.2 860.3,124.8 860.9,123.7 861.5,123.7 862.1,116.9 862.7,130.0 863.3,122.3 863.9,117.7 864.5,126.2 865.1,112.8 865.7,125.0 866.3,121.2 866.8,126.8 867.4,126.9 868.0,122.2 868.6,127.2 869.2,124.5 869.8,117.5 870.4,120.7 871.0,120.7 871.6,130.5 872.2,124.5 872.8,125.6 873.4,128.2 874.0,134.5 874.6,127.1 875.2,135.1 875.9,126.9 876.5,134.1 877.1,134.3 877.7,126.3 878.3,139.3 878.9,125.7 879.5,129.6 880.1,140.1 880.7,127.0 881.3,131.6 881.9,134.6 882.5,120.7 883.1,128.4 883.7,124.1 884.3,113.6 884.9,116.7 885.5,128.0 886.1,122.5 886.7,122.0 887.3,121.8 887.8,120.0 888.4,126.7 889.0,112.6 889.6,120.9 890.2,119.0 890.8,125.1 891.4,128.1 892.0,118.2 892.6,119.8 893.2,121.8 893.8,130.4 894.3,125.1 894.9,120.7 895.5,130.5 896.1,123.9 896.7,121.5 897.3,126.4 897.9,132.8 898.5,132.6 899.1,125.1 899.7,133.1 900.3,133.1 900.9,121.8 901.6,126.6 902.2,127.4 902.8,127.4 903.4,131.9 904.0,135.6 904.6,123.7 905.2,128.6 905.8,130.7 906.4,133.3 907.0,124.6 907.6,133.2 908.2,131.6 908.9,134.3 909.5,127.8 910.1,129.3 910.7,132.5 911.3,128.8 911.9,130.9 912.5,134.9 913.1,135.9 913.7,135.0 914.3,123.0 914.9,130.9 915.5,127.7 916.1,127.9 916.8,122.0 917.4,124.6 918.0,123.8 918.6,120.2 919.2,124.4 919.8,128.1 920.4,122.5 921.0,116.1 921.6,118.3 922.2,118.3 922.8,123.8 923.4,110.1 924.1,114.1 924.7,122.6 925.3,112.6 925.9,112.3 926.5,116.7 927.1,107.7 927.7,119.1 928.3,118.5 928.9,107.7 929.5,118.1 930.1,121.4 930.7,112.5 931.3,115.7 931.9,123.7 932.5,109.8 933.1,115.5 933.7,122.5 934.3,124.5 934.9,121.3 935.5,124.9 936.1,121.0 936.6,130.8 937.2,119.8 937.8,127.5 938.4,120.7 939.0,125.5 939.6,129.4 940.2,121.6 940.8,134.4 941.4,124.3 942.0,135.9 942.6,124.2 943.2,135.4 943.8,131.0 944.4,129.7 945.0,138.5 945.6,134.9 946.2,132.2 946.8,135.3 947.4,132.8 948.0,138.5 948.6,126.8 949.2,130.7 949.8,136.9 950.4,128.1 951.0,142.3 951.6,138.3 952.2,130.4 952.8,132.2 953.4,141.4 954.0,127.4 954.6,137.9 955.2,129.3 955.8,144.3 956.4,131.9 957.0,139.3 957.6,131.7 958.2,142.2 958.8,137.1 959.4,128.5 960.0,132.1 960.6,134.2 961.2,133.8 961.8,129.7 962.4,139.2 963.0,127.5 963.6,137.6 964.2,136.9 964.8,129.9 965.4,131.6 966.0,138.2 966.6,134.3 967.2,134.7 967.8,124.4 968.4,128.9 969.0,128.4 969.6,129.5 970.2,132.1 970.8,132.6 971.3,127.1 971.9,120.9 972.5,121.4 973.1,125.6 973.7,131.2 974.3,116.6 974.9,132.9 975.5,113.8 976.1,119.0 976.7,123.1 977.3,115.6 977.9,121.0 978.5,127.8 979.1,125.1 979.7,122.9 980.3,122.2 980.9,118.3 981.5,120.6 982.1,122.2 982.7,119.6 983.3,125.0 983.9,118.0 984.5,125.1 985.1,122.0 985.7,119.8 986.3,121.7 986.9,125.8 987.5,124.0 988.1,125.6 988.7,133.4 989.3,122.8 989.9,127.9 990.5,127.1 991.2,136.1 991.8,134.6 992.4,132.4 993.0,123.4 993.6,134.1 994.2,137.6 994.8,127.3 995.4,138.3 996.0,134.5 996.6,134.4 997.2,140.7 997.8,130.1 998.4,143.5 999.0,130.8 999.6,142.9 1000.2,137.5 1000.8,138.0 1001.4,136.5 1002.0,132.9 1002.6,136.4 1003.2,142.5 1003.8,135.7 1004.4,131.8 1005.1,139.0 1005.7,135.5 1006.3,141.3 1006.9,139.3 1007.5,139.3 1008.1,128.7 1008.7,136.4 1009.3,133.5 1009.9,133.0 1010.5,138.8 1011.1,137.8 1011.8,126.2 1012.4,138.6 1013.0,129.0 1013.6,131.3 1014.2,124.9 1014.8,133.2 1015.4,131.7 1016.0,133.1 1016.6,124.2 1017.2,128.6 1017.9,130.4 1018.5,125.7 1019.1,135.3 1019.7,126.0 1020.3,122.7 1020.9,130.5 1021.5,122.9 1022.1,133.1 1022.7,125.5 1023.3,135.0 1023.9,121.7 1024.5,133.3 1025.1,129.7 1025.7,126.4 1026.3,134.2 1026.9,131.9 1027.5,134.5 1028.1,128.9 1028.7,125.2 1029.3,135.2 1029.9,123.3 1030.5,134.5 1031.1,125.5 1031.8,129.5 1032.4,127.6 1033.0,132.5 1033.6,134.6 1034.2,133.6 1034.8,122.7 1035.4,137.8 1036.0,131.3 1036.6,128.9 1037.2,136.8 1037.8,126.2 1038.4,137.5 1039.0,135.8 1039.6,133.0 1040.2,129.0 1040.8,130.8 1041.4,129.3 1042.0,131.9 1042.6,127.5 1043.2,139.2 1043.8,128.8 1044.4,130.6 1045.0,130.3 1045.6,136.3 1046.2,127.4 1046.8,140.9 1047.4,138.1 1048.0,131.8 1048.6,132.3 1049.2,143.7 1049.8,133.0 1050.4,144.6 1051.0,137.5 1051.6,139.7 1052.2,138.3 1052.8,132.4 1053.4,135.6 1054.0,143.5 1054.6,136.2 1055.2,138.2 1055.8,146.8 1056.4,135.0 1057.0,142.6 1057.6,140.1 1058.2,146.6 1058.8,135.9 1059.4,141.5 1060.0,140.2 1060.6,138.0 1061.2,143.0 1061.8,145.4 1062.4,144.5 1063.0,138.6 1063.6,145.0 1064.2,140.4 1064.8,140.1 1065.4,145.2 1066.0,141.5 1066.6,135.5 1067.2,140.5 1067.9,142.8 1068.5,136.8 1069.1,142.8 1069.7,135.0 1070.3,138.2 1070.9,136.0 1071.5,144.9 1072.1,137.0 1072.7,134.1 1073.3,141.3 1073.9,133.2 1074.5,132.8 1075.1,145.4 1075.7,128.5 1076.3,144.5 1076.9,130.7 1077.5,129.7 1078.1,139.1 1078.7,132.1 1079.3,132.4 1079.9,124.3 1080.5,136.7 1081.2,130.1 1081.8,126.6 1082.4,124.7 1083.0,132.2 1083.6,128.0 1084.2,119.7 1084.8,122.4 1085.4,122.3 1086.0,123.1 1086.6,127.6 1087.2,123.7 1087.8,117.7 1088.4,118.6 1089.0,118.1 1089.6,120.0 1090.2,120.0 1090.8,124.6 1091.4,126.5 1092.0,126.5 1092.6,128.3 1093.2,131.3 1093.8,120.8 1094.4,134.7 1094.9,123.6 1095.5,136.4 1096.1,135.2 1096.7,125.8 1097.3,137.0 1097.9,128.0 1098.5,137.0 1099.1,130.3 1099.7,140.5 1100.3,133.1 1100.9,144.6 1101.5,136.2 1102.1,143.5 1102.7,134.4 1103.3,145.5 1103.9,131.5 1104.5,144.4 1105.1,141.4 1105.7,130.9 1106.3,139.9 1106.9,131.5 1107.6,133.8 1108.2,141.4 1108.8,128.1 1109.4,140.9 1110.0,131.9 1110.6,129.1 1111.2,130.9 1111.8,134.2 1112.4,126.7 1113.0,135.0 1113.6,135.8 1114.2,135.1 1114.9,122.2 1115.5,124.6 1116.1,127.7 1116.7,132.5 1117.3,131.9 1117.9,125.2 1118.5,125.0 1119.1,124.2 1119.7,131.7 1120.3,127.7 1120.8,125.3 1121.4,128.9 1122.0,126.9 1122.6,132.2 1123.2,131.7 1123.8,133.5 1124.3,130.8 1124.9,129.1 1125.5,133.1 1126.1,124.1" fill="none" stroke="#000000" stroke-width="1.0" stroke-linejoin="round"/>
</g>
<g clip-path="url(#cc)">
<polyline points="76.3,900.9 77.0,897.6 77.8,897.0 78.8,894.1 79.7,893.1 80.7,892.2 81.7,895.9 82.7,899.0 83.7,894.2 84.6,891.2 85.6,887.9 86.6,887.3 88.0,877.5 89.1,876.1 90.2,876.9 91.3,875.4 92.4,875.6 93.4,875.4 94.3,875.2 95.3,873.4 96.3,873.6 97.3,875.4 98.2,877.4 99.2,879.5 100.2,879.3 101.2,880.7 102.1,878.8 103.1,878.4 104.1,879.5 105.1,879.9 106.0,879.0 107.0,878.1 108.0,878.5 109.0,878.9 110.0,879.9 110.9,882.3 111.9,882.4 112.9,881.9 113.9,881.1 114.8,881.8 115.8,881.7 116.8,881.4 117.8,883.1 118.8,884.2 119.7,883.7 120.7,883.9 121.7,885.3 122.7,887.2 123.6,889.5 124.6,888.7 125.5,891.1 126.5,892.2 127.4,892.9 128.2,892.4 129.1,891.0 130.0,891.2 131.1,891.7 132.2,892.0 133.3,890.6 134.4,891.1 135.4,892.0 136.5,892.0 137.6,892.0 138.6,893.4 139.6,894.5 140.7,895.8 141.7,895.9 142.8,896.6 143.8,897.6 144.9,898.5 145.9,899.1 146.9,899.6 148.0,899.4 149.0,898.3 150.1,898.0 151.1,899.1 152.2,899.5 153.2,899.7 154.2,899.8 155.3,898.7 156.3,898.2 157.4,899.7 158.4,899.2 159.4,899.2 160.5,897.5 161.5,897.7 162.6,898.8 163.6,898.3 164.7,898.4 165.7,897.4 166.7,896.9 167.6,896.7 168.6,897.1 169.6,896.3 170.6,896.6 171.6,896.0 172.5,894.4 173.5,893.7 174.5,895.6 175.4,893.7 176.4,893.2 177.4,893.3 178.4,893.8 179.4,894.0 180.3,893.1 181.3,892.7 182.3,892.6 183.2,893.0 184.2,892.1 185.2,891.9 186.2,892.4 187.2,892.5 188.1,890.9 189.1,890.5 190.1,890.4 191.1,891.9 192.0,892.1 193.0,892.7 194.0,892.2 195.0,891.1 195.9,891.5 196.9,891.1 197.9,891.8 198.8,891.0 199.8,890.0 200.8,890.3 201.8,890.1 202.8,889.7 203.7,889.2 204.7,889.2 205.7,891.2 206.7,889.6 207.6,890.5 208.6,889.8 209.6,889.7 210.6,890.7 211.5,890.2 212.5,890.3 213.5,889.6 214.4,889.7 215.4,890.0 216.4,889.7 217.4,890.3 218.3,889.2 219.3,889.0 220.3,889.4 221.3,888.6 222.2,888.9 223.2,888.3 224.2,887.2 225.2,886.8 226.2,887.8 227.1,887.8 228.1,887.2 229.1,888.9 230.2,889.7 231.2,890.3 232.3,889.9 233.3,892.3 234.4,891.7 235.4,892.9 236.5,893.5 237.5,895.0 238.5,895.0 239.4,895.2 240.4,895.7 241.4,896.9 242.3,897.0 243.3,896.6 244.3,897.9 245.2,898.3 246.2,898.2 247.2,898.7 248.2,897.4 249.1,897.9 250.1,898.7 251.1,897.4 252.1,896.7 253.1,898.1 254.0,897.2 255.0,897.0 256.0,897.9 257.0,897.0 258.0,896.3 259.0,896.2 259.9,896.3 260.9,896.9 261.9,896.6 262.9,897.1 264.0,898.5 265.0,897.6 266.0,898.3 267.1,899.9 268.1,900.5 269.1,900.9 270.1,901.3 271.1,902.8 272.1,902.0 273.1,901.7 274.0,901.5 275.0,903.0 276.0,903.3 277.0,904.1 278.0,904.0 279.0,905.2 280.0,904.6 281.1,905.4 282.1,906.7 283.2,906.4 284.2,908.1 285.2,908.1 286.3,907.8 287.3,909.0 288.4,908.3 289.4,909.2 290.5,910.0 291.5,909.9 292.5,910.1 293.5,909.5 294.5,908.7 295.5,909.5 296.5,908.7 297.4,908.9 298.4,909.3 299.4,910.3 300.4,909.8 301.4,909.3 302.4,909.1 303.4,909.8 304.3,909.3 305.3,909.3 306.3,910.0 307.3,910.0 308.2,909.3 309.2,909.7 310.2,911.0 311.2,909.9 312.1,910.9 313.1,909.7 314.1,911.6 315.1,911.5 316.1,911.0 317.0,911.9 318.0,911.4 319.0,912.0 320.0,910.9 320.9,910.8 321.9,911.2 322.9,912.4 323.9,910.9 324.9,910.2 325.8,910.6 326.8,910.0 327.8,910.7 328.8,911.3 329.8,911.2 330.7,910.4 331.7,909.8 332.7,911.7 333.7,911.3 334.6,911.3 335.6,911.3 336.6,911.8 337.6,912.3 338.6,912.2 339.5,911.9 340.5,911.3 341.5,911.4 342.5,910.9 343.5,910.6 344.6,911.6 345.6,910.5 346.6,911.1 347.6,912.1 348.6,911.0 349.6,910.8 350.7,910.8 351.7,912.1 352.7,911.8 353.7,912.1 354.7,910.1 355.7,911.3 356.8,910.9 357.8,910.6 358.8,911.5 359.8,911.4 360.8,911.7 361.8,911.4 362.9,911.5 363.9,910.7 364.9,910.6 365.9,910.7 366.9,911.1 368.0,910.7 369.0,909.9 370.0,910.6 371.0,911.4 372.0,911.7 373.0,910.0 374.1,910.1 375.1,909.7 376.1,909.9 377.1,911.6 378.1,910.7 379.1,910.1 380.2,909.9 381.2,910.3 382.2,910.9 383.2,910.3 384.2,909.9 385.2,909.9 386.3,910.1 387.3,911.0 388.3,910.6 389.3,910.2 390.2,910.9 391.2,909.9 392.2,911.1 393.2,910.1 394.1,911.2 395.1,910.6 396.1,909.6 397.1,909.4 398.1,910.9 399.0,910.7 400.0,910.6 401.0,910.5 401.9,910.2 402.9,910.6 403.9,910.3 404.9,909.1 405.9,910.0 406.8,909.4 407.8,910.6 408.8,910.1 409.8,910.5 410.7,908.9 411.7,909.7 412.7,909.7 413.7,910.0 414.6,909.9 415.6,909.1 416.6,909.3 417.6,909.2 418.6,909.4 419.6,908.5 420.6,908.7 421.5,909.2 422.5,908.9 423.5,908.7 424.5,909.3 425.5,909.8 426.5,908.1 427.5,907.0 428.5,908.0 429.5,907.0 430.5,908.9 431.4,908.0 432.4,907.9 433.4,908.5 434.4,908.8 435.4,907.0 436.4,907.2 437.4,906.5 438.4,906.9 439.4,906.3 440.4,907.6 441.3,906.9 442.3,906.7 443.3,907.4 444.3,907.3 445.3,906.7 446.3,906.8 447.3,907.0 448.3,907.4 449.3,906.7 450.3,906.4 451.3,908.1 452.3,907.0 453.3,908.2 454.4,908.7 455.4,908.6 456.4,908.0 457.4,909.2 458.4,909.4 459.4,908.1 460.4,909.3 461.4,909.3 462.4,909.1 463.4,909.0 464.4,908.7 465.4,908.4 466.4,909.6 467.4,910.1 468.5,909.3 469.5,908.7 470.5,908.3 471.5,909.0 472.5,908.9 473.5,908.3 474.5,908.7 475.5,910.3 476.5,908.8 477.5,909.3 478.6,909.7 479.6,909.0 480.6,908.5 481.6,908.5 482.6,908.7 483.6,910.9 484.6,911.2 485.6,911.0 486.6,911.3 487.6,910.3 488.7,909.9 489.7,910.9 490.7,910.8 491.7,911.2 492.7,910.6 493.7,910.6 494.7,910.4 495.7,910.7 496.7,911.1 497.7,910.0 498.7,909.7 499.7,909.0 500.7,909.8 501.8,910.9 502.8,910.4 503.8,909.1 504.8,910.0 505.8,910.2 506.8,908.7 507.8,910.4 508.8,910.2 509.8,909.6 510.8,909.0 511.8,908.3 512.8,908.8 513.8,908.7 514.8,908.3 515.8,909.1 516.8,909.3 517.9,909.9 518.9,910.0 519.9,909.0 520.9,909.0 521.9,908.5 522.9,908.3 523.9,908.4 524.9,908.3 525.9,908.9 526.9,907.9 527.9,908.2 528.8,908.1 529.8,908.9 530.8,909.4 531.8,908.7 532.8,907.7 533.8,908.5 534.8,908.7 535.7,909.1 536.7,909.4 537.7,908.8 538.7,908.8 539.7,909.4 540.7,907.6 541.6,907.7 542.6,908.9 543.6,910.1 544.6,910.3 545.6,908.7 546.6,910.0 547.6,908.6 548.5,908.7 549.5,908.1 550.5,908.9 551.5,908.7 552.5,909.3 553.5,909.9 554.5,908.6 555.4,909.2 556.4,909.2 557.4,908.8 558.4,909.1" fill="none" stroke="#008000" stroke-width="4.0" stroke-linejoin="round"/>
<polyline points="75.8,902.3 76.5,907.8 77.3,915.1 78.0,917.2 78.8,922.0 79.4,923.7 80.0,925.9 80.6,926.5 81.2,930.2 81.8,928.7 82.4,927.4 83.0,926.2 83.6,927.4 84.3,924.3 84.9,921.6 85.6,918.5 86.2,917.6 86.9,913.8 87.5,915.4 88.1,915.5 88.7,913.4 89.3,915.0 89.9,911.6 90.5,914.5 91.1,913.3 91.7,915.3 92.2,914.9 92.8,914.3 93.4,915.0 94.0,915.5 94.7,914.7 95.3,913.4 95.9,910.6 96.5,912.9 97.2,909.6 97.8,910.1 98.4,912.2 99.0,912.6 99.6,912.2 100.2,914.2 100.9,917.2 101.5,918.5 102.2,922.2 102.8,919.3 103.4,915.7 103.9,911.8 104.5,908.3 105.1,904.8 105.7,902.1 106.4,901.5 107.0,896.3 107.6,894.1 108.2,895.4 108.8,890.2 109.4,891.4 110.0,886.4 110.6,886.3 111.3,886.1 111.9,885.5" fill="none" stroke="#ff00ff" stroke-width="1.6" stroke-linejoin="round"/>
<polyline points="110.0,888.3 111.0,887.8 111.9,884.4 112.9,886.0 113.8,884.0 114.8,883.1 115.8,884.4 116.8,883.8 117.7,887.3 118.7,887.3 119.7,882.4 120.7,879.5 121.9,872.2 123.1,867.8 124.2,864.0 125.4,862.0 126.5,862.0 127.5,860.6 128.4,861.3 129.4,861.2 130.3,862.0 131.3,863.0 132.4,864.8 133.4,864.4 134.4,867.0 135.5,868.2 136.6,868.6 137.6,869.3 138.6,870.0 139.6,870.9 140.5,871.0 141.5,870.1 142.5,870.5 143.4,870.7 144.4,871.6 145.4,872.4 146.4,874.5 147.3,874.9 148.3,874.6 149.3,876.6 150.3,879.1 151.2,879.5 152.2,881.1 153.2,881.8 154.2,881.2 155.3,880.6 156.3,882.5 157.3,881.4 158.4,882.3 159.4,883.3 160.4,883.8 161.5,884.3 162.6,884.5 163.6,885.4 164.6,889.1 165.7,889.6 166.7,889.7 167.8,890.2 168.8,888.5 169.8,889.0 170.9,888.1 171.9,886.4 172.9,887.6 173.8,887.9 174.8,888.3 175.8,887.9 176.8,888.7 177.8,890.4 178.7,890.0 179.7,891.1 180.8,892.3 181.8,892.4 182.8,893.1 183.9,894.3 184.9,894.3 186.0,894.2 187.0,892.6 187.9,891.3 188.9,889.3 189.9,888.1 190.9,890.1 191.9,888.8 192.8,888.5 193.8,886.4 194.8,887.6 195.9,886.5 196.9,888.3 197.9,888.7 199.0,887.4 200.0,887.2 201.0,887.5 202.1,888.6 203.1,889.3 204.1,891.1 205.2,891.9 206.2,894.2 207.2,894.5 208.3,895.9 209.3,894.3 210.4,895.7 211.4,895.6 212.5,895.4 213.5,896.5 214.6,895.6 215.6,895.8 216.6,896.4 217.7,894.6 218.7,896.6 219.8,894.7 220.8,893.5 221.9,895.9 222.9,895.9 224.0,895.6 225.0,895.0 226.0,896.5 226.9,896.5 227.9,896.1 228.9,897.1 229.9,900.1 230.9,901.4 231.8,900.3 232.8,901.3 233.8,901.2 234.8,901.2 235.8,902.6 236.8,900.3 237.8,902.3 238.7,901.1 239.7,901.7 240.7,900.7 241.7,900.6 242.7,902.4 243.7,902.0 244.6,902.0 245.6,903.3 246.6,903.4 247.5,902.8 248.4,900.7 249.4,901.3 250.4,901.6 251.5,903.3 252.5,902.8 253.5,901.4 254.6,901.6 255.6,904.5 256.6,905.3 257.7,903.9 258.7,904.4 259.7,904.4 260.6,905.6 261.6,905.7 262.6,904.9 263.6,907.6 264.6,907.4 265.5,907.0 266.5,907.5 267.5,906.1 268.6,906.3 269.6,906.9 270.7,904.9 271.7,903.7 272.8,905.1 273.8,905.6 274.9,904.1 275.9,903.6 276.9,903.0 277.9,902.8 278.9,902.1 279.9,900.2 280.9,899.7 281.8,898.9 282.8,898.3 283.8,897.5 284.8,897.9 285.8,897.3 286.8,897.4 287.8,897.7 288.9,896.9 289.9,898.2 291.0,898.2 292.0,896.4 293.1,895.3 294.1,896.3 295.1,896.2 296.2,896.3 297.2,895.2 298.3,895.8 299.3,895.8 300.3,896.4 301.4,896.0 302.4,895.3 303.5,897.3 304.5,895.9 305.6,897.8 306.6,897.3 307.7,895.7 308.7,896.6 309.6,896.6 310.6,896.2 311.5,898.5 312.5,898.4 313.4,898.9 314.4,897.2 315.3,898.3 316.3,897.8 317.3,896.6 318.3,895.5 319.2,893.2 320.2,894.3 321.2,892.7 322.2,892.0 323.3,891.6 324.3,891.1 325.3,890.5 326.4,888.5 327.4,890.3 328.4,889.2 329.5,888.3 330.5,888.0 331.6,888.0 332.6,887.9 333.6,886.8 334.7,886.5 335.8,884.1 336.8,883.3 337.8,882.1 338.9,882.0 339.9,882.6 340.9,883.2 342.0,882.8 343.0,881.8 343.9,883.3 344.9,884.2 345.8,885.3 346.8,885.8 347.7,886.4 348.7,886.1 349.6,887.3 350.6,887.4 351.6,887.1 352.6,889.2 353.6,890.8 354.5,890.3 355.5,891.1 356.5,892.1 357.6,892.9 358.6,893.9 359.7,895.4 360.7,895.7 361.8,894.3 362.8,896.1 363.9,896.4 364.9,897.4 365.9,897.3 367.0,898.1 368.0,897.0 369.0,898.2 370.1,899.7 371.1,897.5 372.1,899.3 373.2,899.3 374.2,898.9 375.2,899.1 376.3,900.0 377.3,898.7 378.4,898.6 379.4,901.4 380.4,901.2 381.5,899.8 382.5,899.6 383.6,900.7 384.6,901.5 385.7,902.6 386.7,902.0 387.7,901.6 388.7,902.1 389.8,901.7 390.8,901.9 391.8,903.2 392.8,900.9 393.9,902.5 394.9,902.6 395.9,901.1 396.9,900.3 398.0,901.7 399.0,902.1 400.0,901.3 401.0,901.1 401.9,900.2 402.9,900.7 403.9,901.1 404.9,900.3 405.9,900.0 406.8,898.8 407.8,898.5 408.8,898.5 409.8,900.2 410.7,898.6 411.7,898.4 412.7,899.0 413.7,898.5 414.6,898.4 415.6,898.9 416.6,899.1 417.6,898.3 418.5,898.8 419.5,897.6 420.5,898.4 421.4,899.2 422.4,898.6 423.4,897.5 424.4,896.6 425.4,897.2 426.3,897.8 427.3,897.1 428.3,897.8 429.2,898.2 430.2,897.5 431.2,898.2 432.2,898.4 433.3,899.5 434.3,899.5 435.4,898.9 436.4,900.0 437.4,900.8 438.5,901.1 439.5,901.2 440.6,900.6 441.6,900.8 442.7,900.4 443.7,899.7 444.7,899.1 445.8,897.7 446.8,897.7 447.9,898.2 448.9,896.5 450.0,896.0 451.0,894.8 452.1,894.3 453.1,895.0 454.1,894.6 455.2,896.5 456.2,895.1 457.2,895.2 458.3,896.4 459.3,898.8 460.3,897.6 461.4,897.4 462.4,898.9 463.4,898.2 464.5,899.0 465.5,898.6 466.6,900.7 467.6,899.7 468.6,900.2 469.7,900.3 470.7,901.3 471.8,901.6 472.8,902.3 473.9,903.1 474.9,904.4 475.9,903.8 476.8,904.6 477.8,904.4 478.8,903.9 479.8,903.1 480.8,905.6 481.7,906.5 482.7,907.1 483.7,906.6 484.6,905.6 485.6,905.0 486.6,904.6 487.6,905.3 488.6,905.5 489.5,906.6 490.5,906.0 491.5,905.4 492.6,905.8 493.6,906.0 494.7,905.7 495.7,905.3 496.8,903.0 497.8,902.6 498.8,903.5 499.9,903.8 500.9,904.5 502.0,903.9 503.0,902.8 504.0,902.1 505.1,901.1 506.1,902.1 507.2,899.9 508.2,901.8 509.2,899.4 510.3,900.1 511.3,900.8 512.4,898.5 513.4,897.8 514.5,898.6 515.5,898.2 516.5,898.5 517.6,896.7 518.6,897.2 519.7,898.3 520.7,898.5 521.8,897.1 522.8,895.7 523.9,896.7 524.9,896.6 525.9,896.5 526.9,896.3 527.8,896.5 528.8,896.5 529.8,896.1 530.8,896.2 531.7,896.2 532.7,896.8 533.7,897.0 534.6,894.4 535.6,896.0 536.6,894.8 537.6,895.0 538.5,894.5 539.5,894.6 540.5,895.0 541.5,894.8 542.5,895.1 543.4,894.4 544.4,894.7 545.4,895.3 546.4,895.4 547.3,896.0 548.3,894.7 549.3,896.1 550.2,897.7 551.2,897.7 552.2,897.3 553.2,897.8 554.1,897.1 555.1,896.7 556.1,897.4 557.2,898.2 558.4,899.0" fill="none" stroke="#ff00ff" stroke-width="4.0" stroke-linejoin="round"/>
<polyline points="75.8,921.4 77.1,919.2 78.4,917.0 79.7,914.6 80.9,913.2 82.2,911.1 83.4,909.6 84.6,907.8 85.8,906.0 87.0,904.0 88.3,901.1 89.5,899.0 90.8,896.2 92.1,893.3 93.4,890.2 94.8,888.1 96.3,885.8 97.8,890.0 99.2,893.1 100.2,896.7 101.2,900.0 102.5,900.3 103.8,901.1 105.1,900.9 106.3,902.0 107.5,902.5 108.8,903.2 110.0,904.3 111.3,905.9 112.6,907.1 113.9,909.2 115.1,909.3 116.3,909.7 117.5,909.6 118.7,909.7 119.9,909.7 121.1,909.7 122.2,909.1 123.4,908.8 124.6,908.3 125.7,908.7 126.8,909.1 127.8,910.7 128.9,910.9 130.0,911.7 131.1,911.5 132.2,912.3 133.3,912.4 134.4,912.2 135.7,911.9 136.9,911.7 138.2,911.4 139.4,911.2 140.7,910.7 141.9,911.1 143.2,910.8 144.4,910.8 145.7,910.5 146.9,910.6 148.2,910.4 149.4,910.2 150.7,911.0 151.9,911.3 153.2,911.2 154.4,910.7 155.7,910.7 156.9,910.8 158.2,911.1 159.4,911.4 160.4,911.6 161.5,912.6 162.5,913.8 163.7,912.9 164.8,912.2 166.0,912.1 167.2,911.4 168.4,910.8 169.6,910.1 170.7,909.7 171.9,909.1 173.2,908.3 174.4,907.0 175.7,905.6 176.9,904.8 178.2,903.8 179.4,903.2 180.7,901.6 181.9,901.2 183.2,899.7 184.4,898.9 185.6,900.6 186.8,902.4 187.9,904.0 189.1,906.0 190.2,905.8 191.3,905.4 192.4,904.4 193.6,904.1 194.7,903.8 195.8,902.9 196.9,902.8 198.1,901.9 199.2,902.0 200.4,901.9 201.6,901.3 202.8,902.0 204.1,902.6 205.3,903.4 206.6,903.8 207.8,905.1 209.1,906.1 210.3,906.3 211.6,906.5 212.8,907.4 214.1,908.3 215.3,908.1 216.6,907.4 217.8,906.7 219.1,906.3 220.3,906.4 221.5,906.1 222.8,905.4 224.0,905.2 225.3,905.0 226.5,904.4 227.7,905.3 228.8,905.8 230.0,906.0 231.2,906.7 232.4,907.4 233.6,907.8 234.7,908.1 235.9,908.3 237.2,908.1 238.5,907.6 239.8,907.6 241.1,907.0 242.4,906.6 243.7,906.0 244.8,905.6 246.0,905.1 247.1,904.8 248.3,904.9 249.4,904.7 250.6,904.1 251.7,903.8 252.9,904.1 254.0,903.6 255.1,903.0 256.3,903.3 257.4,903.0 258.5,902.5 259.6,902.5 260.8,901.9 261.9,901.3 263.1,900.6 264.2,900.8 265.4,900.1 266.5,900.2 267.7,899.8 268.9,898.8 270.0,898.2 271.2,898.2 272.4,897.7 273.6,898.0 274.8,898.1 276.0,897.5 277.2,897.1 278.4,897.2 279.6,897.6 280.8,897.5 282.0,897.6 283.2,897.5 284.4,897.2 285.6,897.0 286.8,896.6 288.1,896.1 289.3,895.6 290.6,896.1 291.8,895.8 293.1,895.3 294.3,894.7 295.6,894.6 296.8,894.5 298.1,894.4 299.3,894.2 300.6,893.5 301.8,892.6 303.1,891.8 304.3,891.3 305.6,891.1 306.8,891.0 307.9,891.3 309.1,892.1 310.2,892.7 311.4,888.4" fill="none" stroke="#0000ff" stroke-width="1.6" stroke-linejoin="round"/>
<polyline points="311.4,888.4 312.5,885.1 313.7,881.1 314.9,877.1 316.1,876.5 317.2,876.1 318.4,875.1 319.6,874.7 320.9,875.3 322.1,876.3 323.4,877.6 324.6,878.9 325.9,880.2 327.0,880.1 328.1,880.1 329.2,880.8 330.4,880.2 331.5,880.6 332.6,880.8 333.7,881.0 334.7,883.1 335.8,885.8 336.8,888.0 338.1,887.8 339.3,887.4 340.6,887.3 341.8,888.0 343.1,887.5 344.3,887.1 345.6,887.8 346.8,887.6 348.1,887.6 349.3,887.2 350.5,887.2 351.7,887.4 352.9,886.9 354.1,886.8 355.3,887.4 356.5,887.3 357.7,887.5 358.9,887.2 360.1,887.6 361.3,886.9 362.5,887.2 363.7,887.0 364.9,887.2 366.1,886.8 367.3,887.2 368.5,886.9 369.7,887.1 370.9,886.5 372.1,886.7 373.3,886.9 374.5,886.6 375.7,886.0 376.9,886.1 378.1,886.3 379.3,886.1 380.5,885.7 381.7,885.7 382.9,885.4 384.0,884.9 385.2,885.5 386.4,884.9 387.5,884.8 388.7,884.6 389.9,884.9 391.1,885.1 392.2,885.8 393.4,886.6 394.5,886.9 395.7,887.6 396.9,888.6 398.0,888.8 399.2,889.6 400.4,889.0 401.7,889.0 402.9,889.3 404.1,889.3 405.3,888.7 406.6,888.0 407.8,888.0 409.0,887.4 410.3,887.1 411.5,886.3 412.8,885.1 414.0,884.1 415.2,883.8 416.5,883.7 417.8,883.7 419.0,883.8 420.2,883.1 421.5,882.8 422.8,882.3 424.0,882.3 425.2,882.1 426.5,881.8 427.7,881.8 428.9,882.0 430.2,882.7 431.4,882.3 432.6,882.3 433.8,882.5 435.1,883.2 436.3,883.1 437.5,883.3 438.7,883.8 439.8,884.4 441.0,884.8 442.1,885.0 443.3,884.6 444.5,885.0 445.6,885.6 446.8,885.7 448.0,885.3 449.1,885.1 450.3,885.2 451.5,885.1 452.7,884.2 453.9,883.6 455.0,883.2 456.2,883.3 457.4,882.3 458.6,881.7 459.7,880.7 460.9,880.5 462.1,879.7 463.2,878.8 464.4,878.1 465.6,877.1 466.8,876.8 467.9,876.6 469.1,876.1 470.2,875.6 471.4,875.1 472.6,875.4 473.7,875.3 474.9,874.7 476.0,874.7 477.1,875.3 478.2,874.9 479.4,875.4 480.5,875.6 481.6,876.3 482.7,876.3 483.8,877.1 484.9,877.9 486.0,878.5 487.2,879.1 488.3,879.9 489.4,880.6 490.5,881.8 491.7,881.0 492.9,881.1 494.0,881.1 495.2,880.9 496.4,880.1 497.5,880.4 498.7,879.5 499.9,879.4 501.1,879.1 502.2,878.8 503.4,878.4 504.6,879.0 505.8,878.8 506.9,878.0 508.1,877.8 509.3,877.9 510.5,877.4 511.8,876.5 513.0,875.7 514.3,875.1 515.5,874.7 516.6,873.7 517.7,873.2 518.8,872.2 519.9,871.6 521.1,873.2 522.4,874.3 523.6,876.2 524.9,877.9 526.0,879.3 527.1,880.4 528.2,882.2 529.4,883.8 530.5,884.8 531.6,885.9 532.7,887.2 533.9,884.4 535.0,882.2 536.2,879.4 537.4,877.1 538.6,875.7 539.9,874.8 541.1,873.4 542.4,872.7 543.6,871.6 544.9,872.0 546.1,871.5 547.4,872.1 548.6,872.0 549.9,872.4 551.1,873.0 552.4,874.1 553.6,875.3 554.9,875.5 556.1,876.3 557.2,883.2 558.4,889.6" fill="none" stroke="#0000ff" stroke-width="2.6" stroke-linejoin="round"/>
<polyline points="75.4,776.0 75.9,782.5 76.5,791.0 77.0,796.7 77.5,802.3 78.0,800.4 78.5,812.2 79.0,807.6 79.6,809.4 80.1,807.2 80.7,813.1 81.2,807.9 81.8,811.2 82.3,814.3 82.9,815.5 83.4,814.8 83.9,807.4 84.5,809.1 85.0,810.5 85.5,813.2 86.0,815.2 86.5,815.1 87.1,817.8 87.6,814.3 88.1,816.8 88.7,813.3 89.2,815.9 89.8,806.6 90.3,803.0 90.9,794.8 91.4,786.8 92.0,777.0 92.6,792.3 93.3,804.3 93.9,825.5 94.4,819.0 94.9,820.4 95.5,818.4 96.0,811.1 96.5,809.5 97.0,809.7 97.5,818.3 98.0,817.1 98.5,815.9 99.1,823.1 99.6,819.0 100.1,828.9 100.7,812.4 101.4,817.2 102.0,811.1 102.6,808.1 103.1,813.3 103.7,812.0 104.2,817.9 104.8,819.5 105.3,821.6 105.8,819.8 106.4,824.4 106.9,822.3 107.4,828.9 107.9,826.9 108.5,826.8 109.0,835.9 109.5,827.4 110.1,831.6 110.7,833.0 111.2,829.8 111.8,831.7 112.4,825.8 112.9,829.1 113.5,817.9 114.1,827.3 114.6,820.2 115.1,822.7 115.7,827.4 116.2,826.3 116.7,822.8 117.2,824.7 117.8,823.8 118.3,831.9 118.8,826.6 119.4,824.6 119.9,828.4 120.5,822.3 121.1,826.7 121.7,828.1 122.2,833.0 122.8,830.4 123.4,827.9 124.0,831.1 124.5,824.6 125.1,831.5 125.7,831.6 126.2,820.7 126.8,830.9 127.3,826.9 127.9,819.8 128.4,825.2 129.0,824.0 129.5,815.2 130.1,822.0 130.6,822.1 131.2,825.0 131.7,819.0 132.2,826.9 132.8,824.7 133.3,827.9 133.9,826.3 134.4,828.9 135.0,825.6 135.5,826.0 136.1,825.0 136.7,824.7 137.3,825.4 137.8,825.6 138.4,824.5 139.0,822.1 139.6,825.6 140.1,830.7 140.7,822.2 141.3,832.9 141.8,828.9 142.4,826.8 143.0,825.7 143.5,834.2 144.1,833.3 144.6,827.4 145.2,834.0 145.8,833.8 146.3,833.2 146.9,828.7 147.5,831.1 148.0,835.3 148.6,832.6 149.2,833.3 149.8,828.3 150.3,835.8 150.9,831.8 151.5,829.2 152.1,833.4 152.6,825.4 153.2,829.7 153.7,826.3 154.3,830.0 154.8,826.2 155.4,818.4 155.9,823.3 156.4,814.2 157.0,821.0 157.5,816.7 158.1,813.4 158.6,805.0 159.1,809.7 159.7,806.5 160.2,810.9 160.7,804.3 161.3,806.4 161.8,806.1 162.4,818.4 162.9,816.8 163.5,825.3 164.1,828.6 164.6,826.0 165.1,831.5 165.7,827.0 166.2,832.0 166.7,827.2 167.2,833.3 167.8,829.1 168.3,835.8 168.8,840.7 169.4,839.0 169.9,835.7 170.5,827.8 171.1,839.4 171.6,829.7 172.2,833.0 172.7,827.9 173.3,832.2 173.9,824.6 174.4,823.5 175.0,826.5 175.6,822.4 176.1,824.1 176.7,823.4 177.3,829.3 177.9,827.3 178.4,822.9 179.0,829.3 179.6,820.0 180.2,832.6 180.7,820.9 181.3,827.4 181.9,818.7 182.4,820.0 183.0,808.6 183.5,802.5 184.1,805.4 184.6,805.2 185.1,808.6 185.7,819.4 186.2,825.0 186.7,828.6 187.3,828.6 187.8,822.5 188.4,821.8 188.9,818.8 189.5,827.6 190.0,816.3 190.6,819.7 191.2,823.3 191.7,814.8 192.3,826.6 192.9,819.3 193.5,817.5 194.0,825.4 194.6,821.9 195.2,816.6 195.8,823.3 196.3,824.1 196.9,819.5 197.4,822.5 197.9,828.4 198.5,819.8 199.0,824.7 199.5,822.9 200.0,828.4 200.6,827.3 201.1,826.8 201.6,825.9 202.2,826.1 202.8,832.1 203.3,827.6 203.9,830.5 204.5,821.2 205.0,832.4 205.6,825.4 206.2,825.4 206.7,829.3 207.3,821.6 207.8,831.5 208.3,826.9 208.9,827.0 209.4,836.7 209.9,825.0 210.4,834.7 211.0,825.1 211.5,832.7 212.0,820.2 212.5,826.9 213.1,828.8 213.6,821.7 214.1,823.1 214.7,821.7 215.2,823.7 215.8,821.8 216.4,821.7 216.9,822.9 217.5,829.3 218.0,822.6 218.6,829.6 219.2,830.9 219.7,831.2 220.3,831.0 220.9,831.2 221.4,827.5 222.0,826.5 222.5,821.1 223.1,821.4 223.6,822.8 224.2,823.4 224.8,822.3 225.3,816.5 225.9,823.6 226.4,818.1 227.0,819.4 227.5,814.9 228.1,823.2 228.6,823.3 229.1,826.0 229.6,821.6 230.2,825.2 230.7,837.7 231.2,833.6 231.8,839.5 232.3,832.3 232.9,839.1 233.5,829.9 234.1,832.6 234.6,838.6 235.2,836.9 235.8,834.1 236.4,837.0 236.9,837.3 237.5,833.0 238.0,831.2 238.5,836.1 239.0,831.7 239.5,839.8 240.0,828.1 240.5,834.4 241.0,828.0 241.6,831.0 242.1,826.6 242.6,827.1 243.1,831.6 243.7,829.3 244.2,828.0 244.7,831.1 245.2,829.9 245.7,826.1 246.3,831.7 246.8,828.4 247.3,831.0 247.8,825.0 248.4,835.0 248.9,830.0 249.4,825.9 250.0,826.3 250.5,830.6 251.1,833.0 251.6,829.1 252.2,831.2 252.7,835.2 253.3,828.9 253.9,828.9 254.4,833.6 255.0,831.8 255.5,836.0 256.1,829.1 256.6,839.7 257.2,838.3 257.8,835.6 258.3,833.0 258.9,829.6 259.4,828.0 260.0,834.6 260.6,834.7 261.1,826.8 261.7,833.9 262.2,832.4 262.8,830.4 263.4,826.8 263.9,829.0 264.5,823.2 265.1,826.0 265.6,821.2 266.2,828.2 266.7,819.3 267.3,827.6 267.8,824.0 268.4,819.8 268.9,819.9 269.4,826.6 270.0,821.3 270.5,826.2 271.1,827.9 271.6,821.4 272.1,822.2 272.7,827.1 273.2,827.3 273.8,826.1 274.3,821.0 274.8,827.8 275.4,828.0 275.9,831.6 276.4,824.5 276.9,828.6 277.5,829.0 278.0,834.1 278.5,829.1 279.0,837.2 279.6,833.6 280.1,836.7 280.6,831.3 281.2,841.5 281.7,833.8 282.3,835.5 282.9,834.1 283.4,840.1 284.0,838.0 284.5,836.7 285.1,838.8 285.7,831.0 286.2,839.8 286.8,834.1 287.3,835.3 287.9,835.3 288.4,826.7 289.0,826.7 289.5,827.0 290.1,834.8 290.6,826.7 291.2,822.7 291.7,830.3 292.3,828.8 292.8,822.2 293.4,826.4 293.9,821.7 294.5,827.6 295.0,825.8 295.6,829.0 296.1,833.6 296.7,835.7 297.2,840.3 297.8,833.1 298.4,842.6 298.9,831.5 299.5,834.2 300.1,831.9 300.6,829.8 301.2,830.8 301.7,832.5 302.3,831.3 302.9,830.5 303.4,822.7 304.0,822.5 304.6,818.7 305.1,821.9 305.7,815.7 306.3,812.2 306.8,813.4 307.4,816.1 307.9,815.2 308.5,816.7 309.0,815.1 309.6,823.6 310.1,819.1 310.7,821.0 311.2,822.2 311.8,825.5 312.3,826.9 312.9,827.8 313.4,831.1 314.0,830.2 314.5,828.9 315.1,827.0 315.7,827.7 316.2,828.7 316.8,833.9 317.3,820.9 317.9,834.7 318.5,824.7 319.0,821.8 319.6,826.7 320.2,824.4 320.7,823.4 321.2,833.9 321.8,830.7 322.4,836.0 322.9,828.8 323.5,838.6 324.0,836.6 324.6,834.7 325.1,835.9 325.7,828.4 326.2,831.0 326.8,823.2 327.4,822.8 328.0,816.7 328.5,816.6 329.1,818.8 329.6,818.7 330.2,823.8 330.7,820.4 331.3,823.9 331.8,827.2 332.4,819.8 332.9,824.9 333.5,826.6 334.0,819.3 334.6,830.9 335.1,824.9 335.7,825.8 336.2,831.4 336.8,827.3 337.4,829.4 337.9,831.5 338.5,825.9 339.0,824.5 339.6,831.4 340.1,830.0 340.7,824.7 341.2,826.5 341.8,833.6 342.3,823.5 342.9,828.2 343.4,833.4 344.0,834.8 344.5,832.4 345.1,832.2 345.6,834.9 346.2,829.3 346.7,829.3 347.2,837.1 347.8,829.6 348.3,835.8 348.8,832.6 349.3,834.2 349.8,827.3 350.3,825.3 350.9,823.6 351.4,825.3 351.9,810.9 352.4,816.1 352.9,810.7 353.4,813.6 354.0,819.5 354.5,813.5 355.0,813.5 355.5,816.7 356.1,819.2 356.6,818.0 357.1,818.4 357.7,811.6 358.2,807.7 358.8,797.8 359.3,785.0 359.9,785.4 360.5,784.7 361.0,788.5 361.6,785.4 362.2,789.1 362.7,795.9 363.3,791.6 363.9,797.6 364.4,794.5 365.0,789.1 365.6,793.8 366.2,790.9 366.7,797.5 367.3,787.7 367.9,788.2 368.5,796.8 369.0,788.8 369.6,791.4 370.2,794.1 370.8,795.7 371.3,789.6 371.9,802.4 372.5,794.6 373.1,802.7 373.6,793.4 374.2,805.6 374.8,795.5 375.3,804.9 375.9,794.8 376.5,807.8 377.1,799.9 377.6,800.9 378.2,798.4 378.8,802.9 379.4,803.2 379.9,804.8 380.5,808.1 381.0,806.9 381.5,802.0 382.1,811.5 382.6,804.9 383.1,808.2 383.6,811.2 384.2,811.8 384.7,809.6 385.2,813.9 385.8,815.1 386.4,820.7 386.9,824.2 387.5,834.9 388.1,834.0 388.6,828.6 389.2,819.9 389.7,819.9 390.3,821.5 390.8,819.9 391.4,816.6 391.9,812.9 392.4,812.3 392.9,803.2 393.5,801.1 394.0,802.4 394.5,796.0 395.0,807.2 395.6,806.5 396.1,810.9 396.6,815.1 397.2,823.7 397.7,831.6 398.2,832.1 398.8,832.6 399.3,826.7 399.9,830.8 400.4,829.8 400.9,823.1 401.5,823.9 402.0,824.9 402.5,824.7 403.1,827.1 403.6,829.1 404.2,827.4 404.7,822.1 405.2,826.0 405.8,819.7 406.3,827.8 406.9,814.1 407.4,825.7 407.9,822.8 408.5,822.9 409.0,812.8 409.6,821.7 410.1,819.3 410.7,818.9 411.2,821.0 411.8,823.8 412.3,826.5 412.9,829.6 413.4,821.6 414.0,832.5 414.5,829.3 415.1,836.2 415.6,830.0 416.2,839.5 416.7,828.8 417.3,830.0 417.8,828.5 418.4,826.2 418.9,824.8 419.5,826.6 420.0,831.6 420.6,819.5 421.1,826.7 421.7,823.0 422.2,819.9 422.8,820.7 423.3,817.8 423.9,821.4 424.4,823.3 425.0,819.7 425.5,817.5 426.1,817.6 426.6,827.2 427.2,821.8 427.7,822.9 428.2,829.3 428.8,827.0 429.3,833.4 429.8,825.6 430.4,832.6 430.9,834.6 431.5,833.1 432.0,834.4 432.6,839.2 433.1,835.1 433.6,822.7 434.2,832.1 434.8,822.1 435.3,822.6 435.9,822.7 436.4,811.0 436.9,813.6 437.5,804.9 438.0,816.5 438.5,813.2 439.1,816.7 439.6,825.3 440.1,826.3 440.6,829.9 441.1,826.8 441.7,827.7 442.2,819.2 442.8,825.4 443.3,820.3 443.8,823.5 444.4,817.5 444.9,825.1 445.5,812.5 446.0,815.3 446.6,813.7 447.1,815.6 447.6,823.8 448.2,811.8 448.8,821.6 449.3,818.1 449.9,818.4 450.4,826.5 450.9,821.7 451.5,817.0 452.1,822.4 452.6,828.3 453.2,824.3 453.7,829.1 454.3,822.4 454.8,825.4 455.4,822.7 456.0,832.6 456.5,827.6 457.1,834.1 457.6,830.5 458.2,830.6 458.7,833.8 459.3,826.3 459.9,833.2 460.4,823.8 461.0,823.0 461.5,815.6 462.1,819.0 462.6,811.4 463.2,812.8 463.7,804.0 464.3,811.1 464.9,803.7 465.4,813.7 465.9,813.5 466.5,821.5 467.1,815.5 467.6,822.8 468.1,830.1 468.7,832.5 469.3,828.3 469.8,832.4 470.4,827.8 470.9,832.6 471.5,830.4 472.0,829.4 472.6,832.7 473.1,831.8 473.7,831.9 474.2,827.9 474.8,834.3 475.3,824.8 475.9,835.3 476.4,833.0 477.0,823.8 477.5,830.5 478.1,829.9 478.6,823.9 479.2,826.7 479.7,832.7 480.3,825.7 480.8,832.5 481.4,824.5 481.9,828.0 482.5,830.6 483.0,833.4 483.6,833.9 484.1,828.1 484.7,833.8 485.2,830.6 485.8,830.3 486.3,830.8 486.9,829.8 487.4,833.6 488.0,827.3 488.5,834.2 489.1,826.7 489.7,833.0 490.3,828.4 490.8,830.6 491.4,827.8 492.0,832.7 492.6,832.0 493.1,823.0 493.7,830.2 494.3,823.5 494.8,825.7 495.4,833.0 495.9,833.2 496.5,831.1 497.0,827.2 497.6,829.6 498.2,832.8 498.7,833.1 499.3,832.3 499.8,834.6 500.4,836.1 500.9,835.7 501.5,832.2 502.1,830.2 502.6,839.4 503.2,827.8 503.7,841.5 504.3,826.7 504.8,834.1 505.4,832.0 506.0,838.5 506.5,835.5 507.1,833.4 507.6,831.4 508.2,839.0 508.7,831.6 509.3,839.4 509.9,831.2 510.4,835.0 511.0,830.8 511.5,834.9 512.1,839.2 512.6,837.1 513.2,836.2 513.8,834.1 514.3,832.4 514.9,839.2 515.4,836.5 516.0,832.8 516.5,839.2 517.1,833.7 517.7,841.7 518.2,834.4 518.8,839.0 519.3,836.0 519.9,832.9 520.4,835.0 521.0,837.4 521.6,830.1 522.1,832.9 522.7,835.4 523.2,830.8 523.8,834.2 524.3,828.0 524.9,831.9 525.5,834.4 526.0,828.1 526.6,828.9 527.1,826.4 527.7,825.8 528.2,833.2 528.8,828.5 529.4,822.2 529.9,826.5 530.5,827.2 531.0,829.6 531.6,824.4 532.1,823.1 532.7,822.2 533.2,825.5 533.7,830.1 534.2,830.0 534.8,834.2 535.3,838.5 535.8,835.6 536.3,833.4 536.8,836.5 537.4,828.3 537.9,839.0 538.4,831.8 538.9,834.0 539.5,830.2 540.0,826.6 540.5,828.6 541.1,834.7 541.6,828.1 542.2,832.0 542.8,826.1 543.3,833.0 543.9,831.7 544.4,832.5 545.0,826.7 545.6,827.4 546.1,837.2 546.7,832.2 547.3,832.4 547.8,828.9 548.4,830.6 549.0,833.5 549.6,838.1 550.1,834.7 550.7,838.1 551.3,837.6 551.9,836.4 552.4,834.4 553.0,834.1 553.5,837.4 554.0,830.5 554.5,834.1 555.1,827.7 555.6,829.3 556.1,827.6 556.7,830.4 557.2,827.9 557.8,826.6 558.4,832.2" fill="none" stroke="#ff0000" stroke-width="1.0" stroke-linejoin="round"/>
<polyline points="75.4,897.6 76.0,893.8 76.5,887.3 77.1,883.0 77.6,870.5 78.2,874.5 78.8,859.7 79.4,856.4 80.0,847.3 80.6,841.6 81.2,835.1 81.8,840.0 82.3,844.3 82.9,843.5 83.4,842.5 83.9,834.1 84.5,838.8 85.0,822.8 85.5,831.3 86.0,820.7 86.5,819.0 87.1,826.6 87.6,817.5 88.1,822.3 88.7,822.1 89.2,820.6 89.8,819.7 90.3,817.0 90.9,824.4 91.5,811.8 92.1,821.5 92.7,824.7 93.3,840.0 93.9,838.4 94.4,842.8 94.9,842.2 95.5,836.2 96.0,836.0 96.5,835.0 97.0,832.9 97.5,837.1 98.0,840.0 98.6,834.2 99.1,839.0 99.6,839.3 100.1,838.9 100.7,837.7 101.2,837.2 101.7,832.9 102.3,840.4 102.8,847.3 103.4,844.6 103.9,851.9 104.5,848.9 105.0,857.1 105.6,854.4 106.2,859.4 106.7,854.4 107.3,843.3 107.8,849.9 108.4,837.6 108.9,846.6 109.5,831.3 110.0,832.3 110.5,837.7 111.0,830.4 111.6,823.4 112.1,827.9 112.6,828.0 113.1,820.6 113.6,830.0 114.2,822.8 114.7,827.3 115.2,826.2 115.7,823.6 116.3,828.8 116.8,829.5 117.3,831.2 117.9,830.0 118.4,826.2 119.0,832.1 119.5,826.7 120.1,834.9 120.6,823.5 121.2,834.3 121.8,823.3 122.3,831.8 122.9,826.8 123.4,829.5 124.0,831.1 124.5,831.8 125.1,822.9 125.6,836.8 126.1,832.1 126.6,829.5 127.2,838.8 127.7,839.3 128.2,836.4 128.8,846.7 129.3,840.1 129.9,849.6 130.4,848.6 131.0,859.5 131.6,848.9 132.1,848.0 132.7,853.1 133.3,841.7 133.8,842.2 134.4,841.1 135.0,834.9 135.5,843.8 136.1,840.0 136.7,839.2 137.3,843.0 137.8,843.0 138.4,834.7 139.0,847.1 139.6,838.9 140.1,844.6 140.7,842.2 141.3,846.8 141.8,844.1 142.4,840.1 143.0,841.1 143.5,844.5 144.1,842.8 144.6,843.9 145.2,847.8 145.8,847.0 146.3,846.9 146.9,851.6 147.5,842.7 148.0,847.3 148.6,844.5 149.2,845.8 149.8,846.9 150.3,842.1 150.9,835.7 151.5,842.8 152.1,836.7 152.6,837.9 153.2,837.9 153.8,834.6 154.3,843.0 154.9,837.0 155.5,839.9 156.0,842.2 156.6,837.3 157.1,843.0 157.7,849.9 158.3,839.4 158.8,846.7 159.4,849.9 160.0,846.1 160.5,848.9 161.1,850.6 161.7,850.1 162.3,845.7 162.8,846.2 163.4,842.3 164.0,851.4 164.6,841.9 165.1,848.3 165.7,842.5 166.3,849.6 166.8,842.4 167.4,838.9 167.9,843.3 168.5,834.7 169.0,838.3 169.6,834.7 170.1,840.7 170.7,837.4 171.2,834.4 171.8,836.9 172.3,837.7 172.8,842.0 173.4,835.8 173.9,842.5 174.4,833.3 175.0,837.0 175.5,843.5 176.0,837.3 176.6,836.1 177.1,838.5 177.7,840.6 178.2,836.6 178.7,840.9 179.3,846.2 179.8,834.3 180.4,840.7 180.9,838.2 181.5,836.9 182.0,845.8 182.6,835.5 183.1,837.5 183.7,839.4 184.2,834.5 184.8,840.1 185.3,834.9 185.9,839.7 186.4,834.2 187.0,843.6 187.5,836.5 188.1,840.0 188.6,834.0 189.2,833.6 189.7,835.7 190.3,837.7 190.8,831.3 191.4,835.0 191.9,841.8 192.5,832.6 193.0,833.9 193.6,840.2 194.1,832.3 194.7,837.4 195.2,835.4 195.8,835.5 196.3,830.4 196.9,838.9 197.5,833.6 198.0,842.6 198.6,842.8 199.1,837.8 199.7,846.4 200.2,846.5 200.8,839.7 201.4,844.7 201.9,851.7 202.5,850.8 203.0,845.5 203.6,848.7 204.1,856.5 204.7,847.2 205.2,850.9 205.7,848.9 206.3,849.9 206.8,850.7 207.3,846.2 207.8,847.5 208.4,854.9 208.9,846.3 209.4,847.9 210.0,845.8 210.5,854.6 211.1,848.3 211.6,849.3 212.2,845.7 212.7,853.9 213.3,847.7 213.9,856.4 214.4,845.8 215.0,854.4 215.5,854.5 216.1,853.3 216.6,857.9 217.2,857.4 217.8,854.3 218.3,848.0 218.9,859.0 219.5,850.6 220.0,851.3 220.6,850.1 221.1,846.9 221.7,849.4 222.3,848.1 222.8,848.6 223.4,853.9 223.9,843.5 224.4,846.0 225.0,847.0 225.5,839.8 226.0,847.2 226.5,834.5 227.1,841.4 227.6,834.1 228.1,833.1 228.6,838.9 229.1,834.9 229.6,834.6 230.2,831.9 230.7,832.0 231.2,827.9 231.7,823.2 232.2,823.3 232.8,819.1 233.3,809.4 233.8,808.8 234.3,802.7 234.8,804.6 235.3,805.7 235.9,812.8 236.4,812.1 236.9,817.1 237.4,823.3 238.0,823.4 238.5,829.5 239.0,831.5 239.5,830.6 240.0,827.3 240.6,836.6 241.1,830.6 241.6,836.6 242.1,827.3 242.7,837.0 243.2,834.0 243.7,838.2 244.2,834.8 244.7,835.4 245.2,831.0 245.7,835.1 246.2,830.0 246.8,826.0 247.3,837.0 247.9,827.0 248.4,830.3 249.0,831.3 249.5,837.5 250.1,834.6 250.6,835.8 251.2,833.2 251.7,838.2 252.3,841.1 252.8,839.4 253.4,838.8 253.9,843.4 254.5,837.7 255.0,838.4 255.6,846.5 256.2,837.4 256.7,840.2 257.3,848.8 257.8,843.7 258.4,840.8 258.9,845.5 259.5,843.0 260.0,848.5 260.6,846.5 261.1,852.6 261.7,842.2 262.2,851.9 262.8,851.2 263.3,846.1 263.9,855.7 264.4,854.8 265.0,852.1 265.6,854.5 266.1,855.3 266.7,856.8 267.2,849.9 267.8,850.5 268.3,849.0 268.9,852.2 269.5,855.1 270.0,857.0 270.6,852.2 271.1,854.1 271.7,854.1 272.2,847.4 272.8,849.7 273.4,848.5 273.9,857.8 274.5,855.3 275.0,849.1 275.6,858.4 276.1,848.0 276.7,853.9 277.3,852.9 277.8,858.9 278.4,852.0 278.9,848.6 279.5,860.1 280.0,855.6 280.6,857.6 281.2,856.9 281.7,845.8 282.3,849.0 282.8,847.7 283.4,850.7 283.9,845.6 284.5,845.0 285.1,849.5 285.6,850.7 286.2,843.9 286.7,843.1 287.3,849.1 287.8,844.6 288.4,843.4 289.0,838.8 289.5,847.2 290.1,837.9 290.6,847.9 291.2,847.7 291.7,848.1 292.3,847.4 292.9,840.5 293.4,851.2 294.0,843.7 294.5,844.0 295.1,850.6 295.6,848.3 296.2,851.9 296.8,851.0 297.3,843.6 297.9,852.3 298.4,845.7 299.0,850.2 299.5,846.0 300.1,849.6 300.6,851.1 301.2,852.0 301.7,856.9 302.3,846.7 302.8,853.7 303.4,848.4 303.9,856.6 304.5,853.1 305.0,855.3 305.6,855.2 306.2,854.1 306.7,855.9 307.3,854.1 307.8,852.7 308.4,854.2 308.9,855.4 309.5,854.6 310.1,852.2 310.6,856.0 311.2,852.3 311.7,855.9 312.3,859.0 312.8,851.3 313.4,857.6 314.0,860.2 314.5,848.7 315.1,859.1 315.6,855.5 316.2,848.2 316.7,850.3 317.3,858.2 317.9,852.3 318.4,850.2 319.0,851.3 319.5,844.6 320.1,854.4 320.6,846.9 321.2,848.0 321.8,851.2 322.3,843.2 322.9,850.2 323.4,838.5 324.0,850.3 324.5,840.2 325.1,838.3 325.7,846.6 326.2,839.5 326.8,842.1 327.3,839.7 327.9,835.6 328.4,845.1 329.0,837.3 329.5,843.4 330.1,831.4 330.6,843.5 331.2,838.2 331.7,839.6 332.3,834.5 332.8,842.0 333.4,837.6 333.9,836.3 334.4,836.9 335.0,834.8 335.5,840.3 336.1,843.8 336.6,842.3 337.2,840.3 337.7,836.6 338.3,837.9 338.8,842.5 339.4,836.1 339.9,843.8 340.5,835.4 341.0,840.5 341.6,841.0 342.2,838.2 342.8,842.0 343.3,844.3 343.9,843.8 344.5,843.4 345.1,843.2 345.6,841.7 346.2,847.0 346.8,851.7 347.3,842.8 347.9,851.0 348.5,842.7 349.0,843.4 349.6,840.9 350.1,839.9 350.7,840.0 351.3,843.3 351.8,846.7 352.4,844.7 353.0,836.5 353.5,846.9 354.1,840.7 354.6,846.6 355.2,840.9 355.7,845.1 356.3,840.3 356.8,843.3 357.4,841.1 357.9,847.2 358.5,838.4 359.0,847.7 359.6,843.0 360.1,848.8 360.7,843.5 361.2,840.4 361.8,848.8 362.3,846.4 362.9,837.7 363.4,841.7 364.0,847.9 364.5,840.0 365.0,844.3 365.6,836.5 366.1,848.5 366.7,840.5 367.2,842.1 367.7,844.9 368.3,835.2 368.8,847.5 369.3,833.2 369.9,842.1 370.4,844.8 371.0,835.2 371.5,840.7 372.0,838.1 372.6,838.3 373.1,838.5 373.7,839.0 374.2,842.7 374.8,831.8 375.3,838.3 375.8,836.2 376.4,843.5 376.9,832.8 377.5,837.6 378.1,844.9 378.6,840.8 379.1,842.1 379.7,843.3 380.2,837.3 380.8,836.3 381.3,839.9 381.9,841.6 382.4,834.9 383.0,842.2 383.6,842.2 384.1,840.8 384.6,837.7 385.2,847.9 385.7,837.4 386.2,844.6 386.8,839.2 387.3,850.3 387.8,850.5 388.3,849.8 388.9,846.9 389.4,855.3 389.9,848.9 390.4,853.2 391.0,853.1 391.5,857.1 392.1,856.3 392.6,851.6 393.2,854.8 393.7,854.4 394.3,852.9 394.8,854.4 395.4,856.0 395.9,853.2 396.5,855.8 397.0,859.2 397.6,856.2 398.1,852.0 398.7,859.0 399.2,853.9 399.7,857.8 400.3,852.8 400.8,851.3 401.4,856.0 401.9,855.9 402.4,846.4 403.0,855.2 403.5,846.0 404.0,848.5 404.6,852.2 405.1,841.8 405.7,852.8 406.2,848.8 406.8,848.4 407.3,840.8 407.9,845.3 408.4,842.2 409.0,844.4 409.5,845.8 410.1,843.8 410.6,848.2 411.2,844.9 411.7,850.3 412.3,847.9 412.8,847.0 413.4,844.7 413.9,844.3 414.5,852.6 415.0,851.3 415.6,844.3 416.2,849.1 416.7,844.7 417.3,846.7 417.8,846.9 418.4,852.1 418.9,851.4 419.5,850.4 420.1,847.4 420.6,857.9 421.2,850.3 421.7,849.4 422.3,849.4 422.8,852.7 423.4,848.2 424.0,851.8 424.5,858.3 425.1,849.3 425.6,847.0 426.2,850.0 426.7,850.8 427.3,845.9 427.9,855.9 428.4,850.9 429.0,847.1 429.5,848.7 430.1,843.2 430.6,849.8 431.2,841.8 431.8,852.0 432.3,849.7 432.9,841.5 433.4,847.4 434.0,842.2 434.5,843.9 435.1,842.1 435.6,846.4 436.2,849.7 436.7,841.9 437.3,850.7 437.8,847.3 438.4,846.8 438.9,851.2 439.5,850.6 440.0,848.2 440.6,846.9 441.2,851.6 441.7,849.2 442.3,842.4 442.8,849.2 443.4,845.3 443.9,843.1 444.5,842.6 445.0,847.1 445.6,841.7 446.1,847.1 446.7,840.3 447.2,843.1 447.8,842.7 448.3,842.1 448.9,845.2 449.4,848.2 450.0,838.9 450.6,842.3 451.1,847.2 451.7,850.2 452.2,842.4 452.8,852.8 453.3,851.1 453.9,842.0 454.5,845.8 455.0,849.9 455.6,849.7 456.1,854.1 456.7,846.8 457.2,847.5 457.8,847.7 458.4,854.0 458.9,843.9 459.5,849.2 460.0,841.1 460.6,844.2 461.1,841.3 461.7,839.6 462.3,844.6 462.9,843.0 463.4,854.3 464.0,850.2 464.5,851.1 465.0,854.6 465.6,849.9 466.1,848.4 466.6,853.2 467.1,846.7 467.7,849.4 468.2,846.1 468.7,850.5 469.3,843.9 469.8,843.1 470.4,846.8 471.0,843.2 471.5,837.3 472.1,836.2 472.6,838.1 473.2,832.8 473.8,832.7 474.3,832.0 474.9,839.5 475.5,832.4 476.0,837.0 476.6,830.1 477.2,839.1 477.8,835.8 478.3,841.8 478.9,838.2 479.5,835.4 480.1,840.7 480.6,838.2 481.2,834.4 481.8,844.2 482.3,835.1 482.9,844.2 483.4,834.6 484.0,845.8 484.5,832.7 485.1,837.2 485.7,840.9 486.2,842.3 486.8,842.7 487.3,831.7 487.9,835.7 488.4,834.0 489.0,836.9 489.5,840.9 490.1,831.6 490.6,836.1 491.2,833.3 491.7,838.5 492.3,832.4 492.8,839.3 493.4,828.3 493.9,837.1 494.5,834.0 495.0,829.8 495.6,827.3 496.1,831.6 496.7,832.9 497.2,823.9 497.8,829.3 498.3,824.8 498.9,828.3 499.4,825.2 499.9,829.8 500.5,834.7 501.1,827.5 501.6,828.8 502.2,826.2 502.7,830.3 503.2,827.7 503.8,828.0 504.4,833.0 504.9,830.8 505.4,835.1 506.0,835.5 506.6,831.9 507.1,830.4 507.7,830.1 508.2,830.9 508.8,834.0 509.3,831.6 509.8,835.2 510.4,837.1 510.9,830.8 511.5,835.7 512.0,830.8 512.6,833.8 513.1,833.3 513.7,836.8 514.2,835.6 514.8,831.6 515.3,828.8 515.9,833.3 516.4,834.2 517.0,835.1 517.5,827.9 518.1,831.8 518.6,830.8 519.2,828.7 519.7,837.6 520.3,830.1 520.9,843.3 521.5,840.0 522.0,842.3 522.6,836.8 523.2,843.5 523.8,841.8 524.3,844.1 524.9,849.0 525.5,838.5 526.0,845.7 526.6,838.8 527.2,843.3 527.7,839.7 528.3,841.8 528.8,836.6 529.4,837.4 530.0,843.8 530.5,839.3 531.1,841.3 531.6,843.6 532.1,838.8 532.7,847.0 533.2,839.6 533.7,848.3 534.2,836.5 534.8,837.3 535.3,831.7 535.9,825.0 536.5,826.0 537.1,817.8 537.6,814.3 538.2,800.7 538.7,808.1 539.2,817.6 539.8,814.2 540.3,823.6 540.8,817.9 541.3,830.0 541.9,832.0 542.4,830.9 543.0,835.6 543.5,836.1 544.1,834.4 544.6,837.2 545.2,849.4 545.8,837.7 546.3,839.5 546.9,842.6 547.5,841.7 548.0,837.0 548.6,841.8 549.1,844.6 549.7,838.9 550.3,843.8 550.8,841.8 551.4,835.7 551.9,843.2 552.4,846.6 553.0,837.1 553.5,850.7 554.0,839.9 554.5,844.0 555.1,849.0 555.6,847.1 556.1,852.6 556.7,847.9 557.2,849.6 557.8,849.5 558.4,848.1" fill="none" stroke="#000000" stroke-width="1.05" stroke-linejoin="round"/>
</g>
<polyline points="671.9,903.5 752.3,898.9 859.5,895.9 966.6,837.8 1073.8,852.6" fill="none" stroke="#000000" stroke-width="1.0" stroke-linejoin="round" stroke-opacity="0.8"/>
<line x1="671.89" y1="895.37" x2="671.89" y2="911.66" stroke="#000000" stroke-width="1" stroke-opacity="0.75"/>
<line x1="667.89" y1="895.37" x2="675.89" y2="895.37" stroke="#000000" stroke-width="1" stroke-opacity="0.75"/>
<line x1="667.89" y1="911.66" x2="675.89" y2="911.66" stroke="#000000" stroke-width="1" stroke-opacity="0.75"/>
<line x1="752.28" y1="889.77" x2="752.28" y2="908.10" stroke="#000000" stroke-width="1" stroke-opacity="0.75"/>
<line x1="748.28" y1="889.77" x2="756.28" y2="889.77" stroke="#000000" stroke-width="1" stroke-opacity="0.75"/>
<line x1="748.28" y1="908.10" x2="756.28" y2="908.10" stroke="#000000" stroke-width="1" stroke-opacity="0.75"/>
<line x1="859.46" y1="885.19" x2="859.46" y2="906.57" stroke="#000000" stroke-width="1" stroke-opacity="0.75"/>
<line x1="855.46" y1="885.19" x2="863.46" y2="885.19" stroke="#000000" stroke-width="1" stroke-opacity="0.75"/>
<line x1="855.46" y1="906.57" x2="863.46" y2="906.57" stroke="#000000" stroke-width="1" stroke-opacity="0.75"/>
<line x1="966.63" y1="829.18" x2="966.63" y2="846.49" stroke="#000000" stroke-width="1" stroke-opacity="0.75"/>
<line x1="962.63" y1="829.18" x2="970.63" y2="829.18" stroke="#000000" stroke-width="1" stroke-opacity="0.75"/>
<line x1="962.63" y1="846.49" x2="970.63" y2="846.49" stroke="#000000" stroke-width="1" stroke-opacity="0.75"/>
<line x1="1073.81" y1="844.46" x2="1073.81" y2="860.75" stroke="#000000" stroke-width="1" stroke-opacity="0.75"/>
<line x1="1069.81" y1="844.46" x2="1077.81" y2="844.46" stroke="#000000" stroke-width="1" stroke-opacity="0.75"/>
<line x1="1069.81" y1="860.75" x2="1077.81" y2="860.75" stroke="#000000" stroke-width="1" stroke-opacity="0.75"/>
<rect x="667.89" y="899.31" width="8" height="8.4" fill="#000"/>
<rect x="748.28" y="894.73" width="8" height="8.4" fill="#000"/>
<rect x="855.46" y="891.68" width="8" height="8.4" fill="#000"/>
<rect x="962.63" y="833.64" width="8" height="8.4" fill="#000"/>
<rect x="1069.81" y="848.40" width="8" height="8.4" fill="#000"/>
<polyline points="671.9,887.2 752.3,886.2 859.5,876.5 966.6,764.5 1073.8,689.2" fill="none" stroke="#ff0000" stroke-width="1.0" stroke-linejoin="round" stroke-opacity="0.8"/>
<line x1="671.89" y1="879.59" x2="671.89" y2="894.86" stroke="#ff0000" stroke-width="1" stroke-opacity="0.75"/>
<line x1="667.89" y1="879.59" x2="675.89" y2="879.59" stroke="#ff0000" stroke-width="1" stroke-opacity="0.75"/>
<line x1="667.89" y1="894.86" x2="675.89" y2="894.86" stroke="#ff0000" stroke-width="1" stroke-opacity="0.75"/>
<line x1="752.28" y1="879.08" x2="752.28" y2="893.33" stroke="#ff0000" stroke-width="1" stroke-opacity="0.75"/>
<line x1="748.28" y1="879.08" x2="756.28" y2="879.08" stroke="#ff0000" stroke-width="1" stroke-opacity="0.75"/>
<line x1="748.28" y1="893.33" x2="756.28" y2="893.33" stroke="#ff0000" stroke-width="1" stroke-opacity="0.75"/>
<line x1="859.46" y1="870.42" x2="859.46" y2="882.64" stroke="#ff0000" stroke-width="1" stroke-opacity="0.75"/>
<line x1="855.46" y1="870.42" x2="863.46" y2="870.42" stroke="#ff0000" stroke-width="1" stroke-opacity="0.75"/>
<line x1="855.46" y1="882.64" x2="863.46" y2="882.64" stroke="#ff0000" stroke-width="1" stroke-opacity="0.75"/>
<line x1="966.63" y1="749.25" x2="966.63" y2="779.80" stroke="#ff0000" stroke-width="1" stroke-opacity="0.75"/>
<line x1="962.63" y1="749.25" x2="970.63" y2="749.25" stroke="#ff0000" stroke-width="1" stroke-opacity="0.75"/>
<line x1="962.63" y1="779.80" x2="970.63" y2="779.80" stroke="#ff0000" stroke-width="1" stroke-opacity="0.75"/>
<line x1="1073.81" y1="682.05" x2="1073.81" y2="696.30" stroke="#ff0000" stroke-width="1" stroke-opacity="0.75"/>
<line x1="1069.81" y1="682.05" x2="1077.81" y2="682.05" stroke="#ff0000" stroke-width="1" stroke-opacity="0.75"/>
<line x1="1069.81" y1="696.30" x2="1077.81" y2="696.30" stroke="#ff0000" stroke-width="1" stroke-opacity="0.75"/>
<ellipse cx="671.89" cy="887.22" rx="4.8" ry="5" fill="#ff0000"/>
<ellipse cx="752.28" cy="886.20" rx="4.8" ry="5" fill="#ff0000"/>
<ellipse cx="859.46" cy="876.53" rx="4.8" ry="5" fill="#ff0000"/>
<ellipse cx="966.63" cy="764.52" rx="4.8" ry="5" fill="#ff0000"/>
<ellipse cx="1073.81" cy="689.17" rx="4.8" ry="5" fill="#ff0000"/>
<polyline points="671.9,891.8 752.3,886.2 859.5,871.9 966.6,764.0 1073.8,683.6" fill="none" stroke="#0000ff" stroke-width="1.0" stroke-linejoin="round" stroke-opacity="0.8"/>
<line x1="671.89" y1="885.70" x2="671.89" y2="897.91" stroke="#0000ff" stroke-width="1" stroke-opacity="0.75"/>
<line x1="667.89" y1="885.70" x2="675.89" y2="885.70" stroke="#0000ff" stroke-width="1" stroke-opacity="0.75"/>
<line x1="667.89" y1="897.91" x2="675.89" y2="897.91" stroke="#0000ff" stroke-width="1" stroke-opacity="0.75"/>
<line x1="752.28" y1="877.55" x2="752.28" y2="894.86" stroke="#0000ff" stroke-width="1" stroke-opacity="0.75"/>
<line x1="748.28" y1="877.55" x2="756.28" y2="877.55" stroke="#0000ff" stroke-width="1" stroke-opacity="0.75"/>
<line x1="748.28" y1="894.86" x2="756.28" y2="894.86" stroke="#0000ff" stroke-width="1" stroke-opacity="0.75"/>
<line x1="859.46" y1="863.29" x2="859.46" y2="880.60" stroke="#0000ff" stroke-width="1" stroke-opacity="0.75"/>
<line x1="855.46" y1="863.29" x2="863.46" y2="863.29" stroke="#0000ff" stroke-width="1" stroke-opacity="0.75"/>
<line x1="855.46" y1="880.60" x2="863.46" y2="880.60" stroke="#0000ff" stroke-width="1" stroke-opacity="0.75"/>
<line x1="966.63" y1="748.74" x2="966.63" y2="779.29" stroke="#0000ff" stroke-width="1" stroke-opacity="0.75"/>
<line x1="962.63" y1="748.74" x2="970.63" y2="748.74" stroke="#0000ff" stroke-width="1" stroke-opacity="0.75"/>
<line x1="962.63" y1="779.29" x2="970.63" y2="779.29" stroke="#0000ff" stroke-width="1" stroke-opacity="0.75"/>
<line x1="1073.81" y1="670.34" x2="1073.81" y2="696.81" stroke="#0000ff" stroke-width="1" stroke-opacity="0.75"/>
<line x1="1069.81" y1="670.34" x2="1077.81" y2="670.34" stroke="#0000ff" stroke-width="1" stroke-opacity="0.75"/>
<line x1="1069.81" y1="696.81" x2="1077.81" y2="696.81" stroke="#0000ff" stroke-width="1" stroke-opacity="0.75"/>
<polygon points="671.89,886.20 677.29,896.40 666.49,896.40" fill="#0000ff"/>
<polygon points="752.28,880.60 757.68,890.80 746.88,890.80" fill="#0000ff"/>
<polygon points="859.46,866.35 864.86,876.55 854.06,876.55" fill="#0000ff"/>
<polygon points="966.63,758.41 972.03,768.61 961.23,768.61" fill="#0000ff"/>
<polygon points="1073.81,677.97 1079.21,688.17 1068.41,688.17" fill="#0000ff"/>
<line x1="385.3" y1="41.1" x2="420.3" y2="41.1" stroke="#000000" stroke-width="1.3" stroke-opacity="0.5"/>
<text transform="translate(424.90,47.30) scale(0.88,1)" font-size="17.5" text-anchor="start" fill="#000" >400°C</text>
<line x1="472.3" y1="41.1" x2="507.9" y2="41.1" stroke="#ff0000" stroke-width="1.3" stroke-opacity="0.5"/>
<text transform="translate(512.30,47.30) scale(0.88,1)" font-size="17.5" text-anchor="start" fill="#000" >300°C</text>
<line x1="385.3" y1="63.5" x2="420.3" y2="63.5" stroke="#0000ff" stroke-width="2.2" stroke-opacity="0.85"/>
<text transform="translate(424.90,69.70) scale(0.88,1)" font-size="17.5" text-anchor="start" fill="#000" >200°C</text>
<line x1="472.3" y1="63.5" x2="507.9" y2="63.5" stroke="#ff00ff" stroke-width="2.2" stroke-opacity="0.85"/>
<text transform="translate(512.30,69.70) scale(0.88,1)" font-size="17.5" text-anchor="start" fill="#000" >100°C</text>
<line x1="385.3" y1="86.1" x2="420.3" y2="86.1" stroke="#008000" stroke-width="2.2" stroke-opacity="0.85"/>
<text transform="translate(424.90,92.30) scale(0.88,1)" font-size="17.5" text-anchor="start" fill="#000" >25°C</text>
<line x1="944.8" y1="38.1" x2="980.7" y2="38.1" stroke="#000000" stroke-width="1.3" stroke-opacity="0.5"/>
<text transform="translate(985.00,44.30) scale(0.88,1)" font-size="17.5" text-anchor="start" fill="#000" >400°C</text>
<line x1="1034.5" y1="38.1" x2="1069.8" y2="38.1" stroke="#ff0000" stroke-width="1.3" stroke-opacity="0.5"/>
<text transform="translate(1075.20,44.30) scale(0.88,1)" font-size="17.5" text-anchor="start" fill="#000" >300°C</text>
<line x1="944.8" y1="59.7" x2="980.7" y2="59.7" stroke="#0000ff" stroke-width="2.2" stroke-opacity="0.85"/>
<text transform="translate(985.00,65.90) scale(0.88,1)" font-size="17.5" text-anchor="start" fill="#000" >200°C</text>
<line x1="1034.5" y1="59.7" x2="1069.8" y2="59.7" stroke="#ff00ff" stroke-width="2.2" stroke-opacity="0.85"/>
<text transform="translate(1075.20,65.90) scale(0.88,1)" font-size="17.5" text-anchor="start" fill="#000" >100°C</text>
<line x1="944.8" y1="81.6" x2="980.7" y2="81.6" stroke="#008000" stroke-width="2.2" stroke-opacity="0.85"/>
<text transform="translate(985.00,87.80) scale(0.88,1)" font-size="17.5" text-anchor="start" fill="#000" >25°C</text>
<line x1="377.3" y1="557.2" x2="413.0" y2="557.2" stroke="#000000" stroke-width="1.3" stroke-opacity="0.5"/>
<text transform="translate(417.40,563.40) scale(0.88,1)" font-size="17.5" text-anchor="start" fill="#000" >400°C</text>
<line x1="466.8" y1="557.2" x2="502.6" y2="557.2" stroke="#ff0000" stroke-width="1.3" stroke-opacity="0.5"/>
<text transform="translate(507.70,563.40) scale(0.88,1)" font-size="17.5" text-anchor="start" fill="#000" >300°C</text>
<line x1="377.3" y1="579.1" x2="413.0" y2="579.1" stroke="#0000ff" stroke-width="1.3" stroke-opacity="0.5"/>
<text transform="translate(417.40,585.30) scale(0.88,1)" font-size="17.5" text-anchor="start" fill="#000" >200°C</text>
<line x1="466.8" y1="579.1" x2="502.6" y2="579.1" stroke="#ff00ff" stroke-width="1.3" stroke-opacity="0.5"/>
<text transform="translate(507.70,585.30) scale(0.88,1)" font-size="17.5" text-anchor="start" fill="#000" >100°C</text>
<line x1="377.3" y1="601.0" x2="413.0" y2="601.0" stroke="#008000" stroke-width="1.3" stroke-opacity="0.5"/>
<text transform="translate(417.40,607.20) scale(0.88,1)" font-size="17.5" text-anchor="start" fill="#000" >25°C</text>
<line x1="896.2" y1="560.4" x2="931.1" y2="560.4" stroke="#000" stroke-width="1" stroke-opacity="0.7"/>
<rect x="909.90" y="556.30" width="8" height="8.4" fill="#000"/>
<text transform="translate(935.30,566.60) scale(0.87,1)" font-size="17.7" text-anchor="start" fill="#000" >PAO+SA+0.5wt% AgReO<tspan font-size="12" dy="5">4</tspan></text>
<line x1="896.2" y1="587.7" x2="931.1" y2="587.7" stroke="#ff0000" stroke-width="1.3" stroke-opacity="0.45"/>
<ellipse cx="913.50" cy="588.00" rx="4.8" ry="5" fill="#ff0000"/>
<text transform="translate(935.30,593.70) scale(0.87,1)" font-size="17.7" text-anchor="start" fill="#000" >PAO+SA</text>
<line x1="896.2" y1="610.4" x2="931.1" y2="610.4" stroke="#0000ff" stroke-width="1" stroke-opacity="0.7"/>
<polygon points="913.50,603.60 918.90,613.80 908.10,613.80" fill="#0000ff"/>
<text transform="translate(935.30,616.30) scale(0.87,1)" font-size="17.7" text-anchor="start" fill="#000" >PAO</text>
<text transform="translate(77.10,48.40) scale(0.856,1)" font-size="22.5" text-anchor="start" fill="#000" >(a)</text>
<text transform="translate(648.00,47.40) scale(0.856,1)" font-size="22.5" text-anchor="start" fill="#000" >(b)</text>
<text transform="translate(78.40,566.10) scale(0.856,1)" font-size="22.5" text-anchor="start" fill="#000" >(c)</text>
<text transform="translate(648.40,570.00) scale(0.856,1)" font-size="22.5" text-anchor="start" fill="#000" >(d)</text>
<text transform="translate(314.90,487.60) scale(0.856,1)" font-size="22.5" text-anchor="middle" fill="#000" >Time (s)</text>
<text transform="translate(887.60,487.90) scale(0.856,1)" font-size="22.5" text-anchor="middle" fill="#000" >Time (s)</text>
<text transform="translate(322.90,1009.40) scale(0.856,1)" font-size="22.5" text-anchor="middle" fill="#000" >Time (s)</text>
<text transform="translate(888.40,1008.80) scale(0.856,1)" font-size="22.5" text-anchor="middle" fill="#000" >Temperature (°C)</text>
<text transform="translate(29.00,225.50) scale(0.92,1) rotate(-90)" font-size="21.7" text-anchor="middle">Friction coefficient</text>
<text transform="translate(597.60,228.00) scale(0.92,1) rotate(-90)" font-size="21.7" text-anchor="middle">Friction coefficient</text>
<text transform="translate(30.00,753.60) scale(0.92,1) rotate(-90)" font-size="21.7" text-anchor="middle">Friction coefficient</text>
<text transform="translate(597.90,740.30) scale(0.92,1) rotate(-90)" font-size="21.7" text-anchor="middle">Friction coefficient</text>
</svg></div></body></html>
